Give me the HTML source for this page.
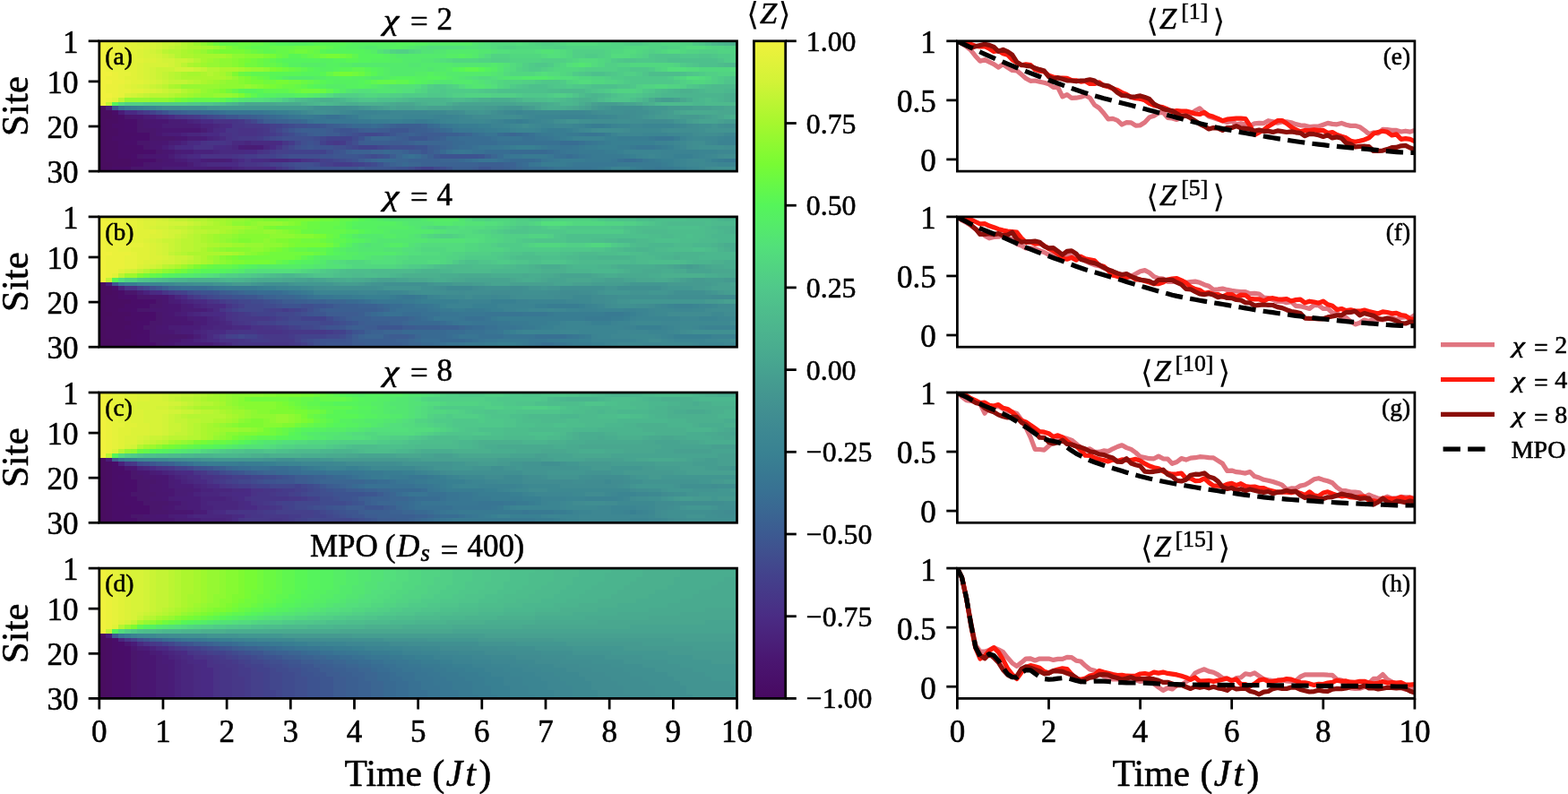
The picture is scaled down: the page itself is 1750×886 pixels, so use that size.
<!DOCTYPE html>
<html><head><meta charset="utf-8"><title>Figure</title>
<style>html,body{margin:0;padding:0;background:#fff;width:1750px;height:886px;overflow:hidden}svg{display:block}text{stroke:#000;stroke-width:0.55px;stroke-linejoin:round}</style>
</head><body><svg width="1750" height="886" viewBox="0 0 1750 886" font-family="'Liberation Serif', 'DejaVu Serif', serif"><defs><filter id="hb" x="0" y="0" width="1" height="1"><feGaussianBlur stdDeviation="0.55"/></filter><linearGradient id="cb" x1="0" y1="0" x2="0" y2="1"><stop offset="0.0000" stop-color="#f0f13c"/><stop offset="0.0312" stop-color="#e1f23a"/><stop offset="0.0625" stop-color="#d2f337"/><stop offset="0.0938" stop-color="#bcf533"/><stop offset="0.1250" stop-color="#a6f72e"/><stop offset="0.1562" stop-color="#8ff931"/><stop offset="0.1875" stop-color="#78fb34"/><stop offset="0.2188" stop-color="#66f847"/><stop offset="0.2500" stop-color="#55f55a"/><stop offset="0.2812" stop-color="#54eb6a"/><stop offset="0.3125" stop-color="#52e07a"/><stop offset="0.3438" stop-color="#51d482"/><stop offset="0.3750" stop-color="#50c88a"/><stop offset="0.4062" stop-color="#4ebe8c"/><stop offset="0.4375" stop-color="#4cb58e"/><stop offset="0.4688" stop-color="#49ac8f"/><stop offset="0.5000" stop-color="#46a290"/><stop offset="0.5312" stop-color="#449890"/><stop offset="0.5625" stop-color="#418f91"/><stop offset="0.5938" stop-color="#3d8892"/><stop offset="0.6250" stop-color="#398292"/><stop offset="0.6562" stop-color="#387992"/><stop offset="0.6875" stop-color="#387093"/><stop offset="0.7188" stop-color="#3a6592"/><stop offset="0.7500" stop-color="#3c5a91"/><stop offset="0.7812" stop-color="#404e8e"/><stop offset="0.8125" stop-color="#43428c"/><stop offset="0.8438" stop-color="#463788"/><stop offset="0.8750" stop-color="#4a2c84"/><stop offset="0.9062" stop-color="#4a227b"/><stop offset="0.9375" stop-color="#4a1772"/><stop offset="0.9688" stop-color="#49106a"/><stop offset="1.0000" stop-color="#480961"/></linearGradient></defs><rect x="0" y="0" width="1750" height="886" fill="#fff"/><g filter="url(#hb)"><g transform="translate(110.80 45.80) scale(7.04653 4.84333)" shape-rendering="crispEdges"><path fill="#480961" d="M0 15h1v1h-1zM0 16h2v1h-2zM0 17h2v1h-2zM0 18h1v1h-1zM0 19h1v1h-1zM0 20h1v1h-1zM0 21h1v1h-1zM0 22h1v1h-1zM0 23h1v1h-1zM0 24h1v1h-1zM0 25h1v1h-1zM0 26h1v1h-1zM0 27h1v1h-1zM0 28h2v1h-2zM0 29h1v1h-1z"/><path fill="#480b64" d="M2 17h1v1h-1zM1 18h2v1h-2zM1 19h1v1h-1zM1 20h2v1h-2zM1 21h2v1h-2zM1 22h1v1h-1zM1 23h2v1h-2zM1 24h2v1h-2zM1 25h2v1h-2zM1 26h2v1h-2zM1 27h4v1h-4zM2 28h3v1h-3zM1 29h1v1h-1z"/><path fill="#490e67" d="M2 16h1v1h-1zM3 17h1v1h-1zM3 18h1v1h-1zM2 19h2v1h-2zM3 20h1v1h-1zM3 21h3v1h-3zM2 22h3v1h-3zM3 23h1v1h-1zM3 24h3v1h-3zM3 25h4v1h-4zM3 26h2v1h-2zM5 27h2v1h-2zM5 28h1v1h-1zM2 29h2v1h-2z"/><path fill="#49106a" d="M4 18h2v1h-2zM4 19h2v1h-2zM4 20h2v1h-2zM6 21h2v1h-2zM5 22h3v1h-3zM4 23h2v1h-2zM6 24h1v1h-1zM7 25h2v1h-2zM5 26h1v1h-1zM7 27h2v1h-2zM6 28h1v1h-1zM4 29h1v1h-1z"/><path fill="#49126c" d="M4 17h1v1h-1zM6 18h1v1h-1zM6 19h1v1h-1zM6 20h3v1h-3zM8 21h1v1h-1zM8 22h4v1h-4zM6 23h2v1h-2zM7 24h1v1h-1zM9 25h1v1h-1zM6 26h1v1h-1zM9 27h1v1h-1zM7 28h1v1h-1zM5 29h2v1h-2z"/><path fill="#4a156f" d="M5 17h1v1h-1zM7 18h2v1h-2zM7 19h1v1h-1zM9 20h1v1h-1zM12 22h1v1h-1zM8 23h2v1h-2zM8 24h1v1h-1zM10 25h1v1h-1zM7 26h2v1h-2zM10 27h1v1h-1zM8 28h2v1h-2zM7 29h2v1h-2z"/><path fill="#4a1772" d="M6 17h1v1h-1zM9 18h2v1h-2zM8 19h2v1h-2zM10 20h6v1h-6zM9 21h1v1h-1zM13 22h1v1h-1zM10 23h1v1h-1zM9 24h1v1h-1zM11 25h1v1h-1zM9 26h2v1h-2zM11 27h1v1h-1zM10 28h4v1h-4zM9 29h1v1h-1z"/><path fill="#4a1b75" d="M7 17h1v1h-1zM11 18h2v1h-2zM10 19h5v1h-5zM16 20h1v1h-1zM10 21h1v1h-1zM14 22h2v1h-2zM11 23h1v1h-1zM23 24h2v1h-2zM12 25h1v1h-1zM11 26h1v1h-1zM12 27h1v1h-1zM17 27h3v1h-3zM14 28h1v1h-1zM10 29h2v1h-2zM17 29h3v1h-3z"/><path fill="#4a1e78" d="M1 15h1v1h-1zM3 16h1v1h-1zM8 17h1v1h-1zM13 18h1v1h-1zM15 19h1v1h-1zM11 21h2v1h-2zM16 22h1v1h-1zM12 23h1v1h-1zM10 24h1v1h-1zM22 24h1v1h-1zM25 24h1v1h-1zM13 25h2v1h-2zM13 27h1v1h-1zM16 27h1v1h-1zM20 27h1v1h-1zM12 29h5v1h-5zM20 29h1v1h-1z"/><path fill="#4a227b" d="M9 17h1v1h-1zM14 18h1v1h-1zM16 19h2v1h-2zM17 20h1v1h-1zM13 21h1v1h-1zM17 22h1v1h-1zM13 23h1v1h-1zM11 24h1v1h-1zM15 25h3v1h-3zM12 26h1v1h-1zM14 27h2v1h-2zM15 28h1v1h-1zM21 29h1v1h-1z"/><path fill="#4a257e" d="M10 17h1v1h-1zM15 18h1v1h-1zM18 19h1v1h-1zM14 21h2v1h-2zM18 22h1v1h-1zM23 23h1v1h-1zM21 24h1v1h-1zM26 24h1v1h-1zM18 25h1v1h-1zM13 26h1v1h-1zM21 27h1v1h-1zM27 27h3v1h-3zM16 28h1v1h-1zM22 29h1v1h-1z"/><path fill="#4a2981" d="M19 19h1v1h-1zM18 20h1v1h-1zM16 21h1v1h-1zM19 22h1v1h-1zM14 23h1v1h-1zM21 23h2v1h-2zM24 23h4v1h-4zM12 24h1v1h-1zM20 24h1v1h-1zM19 25h4v1h-4zM14 26h1v1h-1zM26 27h1v1h-1zM30 27h1v1h-1zM17 28h2v1h-2zM23 29h3v1h-3z"/><path fill="#4a2c84" d="M4 16h2v1h-2zM11 17h1v1h-1zM16 18h2v1h-2zM20 19h1v1h-1zM19 20h1v1h-1zM17 21h2v1h-2zM15 23h1v1h-1zM28 23h1v1h-1zM13 24h2v1h-2zM18 24h2v1h-2zM27 24h1v1h-1zM23 25h2v1h-2zM15 26h1v1h-1zM22 27h1v1h-1zM24 27h2v1h-2zM31 27h1v1h-1zM19 28h3v1h-3zM26 29h2v1h-2z"/><path fill="#493086" d="M12 17h1v1h-1zM18 18h3v1h-3zM22 20h3v1h-3zM19 21h2v1h-2zM22 21h3v1h-3zM20 22h1v1h-1zM16 23h1v1h-1zM20 23h1v1h-1zM15 24h3v1h-3zM25 25h1v1h-1zM16 26h5v1h-5zM23 27h1v1h-1zM32 27h1v1h-1zM22 28h1v1h-1z"/><path fill="#473487" d="M6 16h1v1h-1zM13 17h1v1h-1zM21 18h1v1h-1zM21 19h2v1h-2zM20 20h2v1h-2zM25 20h1v1h-1zM21 21h1v1h-1zM25 21h1v1h-1zM21 22h1v1h-1zM17 23h3v1h-3zM29 23h1v1h-1zM28 24h1v1h-1zM26 25h1v1h-1zM21 26h1v1h-1zM33 27h1v1h-1zM23 28h2v1h-2zM28 29h1v1h-1z"/><path fill="#463888" d="M14 17h1v1h-1zM22 18h1v1h-1zM23 19h3v1h-3zM26 20h1v1h-1zM26 21h1v1h-1zM22 22h3v1h-3zM37 23h1v1h-1zM22 26h1v1h-1zM34 27h1v1h-1zM25 28h1v1h-1z"/><path fill="#453b8a" d="M7 16h1v1h-1zM15 17h1v1h-1zM26 19h1v1h-1zM27 21h1v1h-1zM25 22h1v1h-1zM30 23h1v1h-1zM36 23h1v1h-1zM38 23h1v1h-1zM27 25h1v1h-1zM23 26h2v1h-2zM26 28h1v1h-1zM37 28h3v1h-3zM29 29h1v1h-1z"/><path fill="#443f8b" d="M23 18h1v1h-1zM27 19h1v1h-1zM27 20h1v1h-1zM28 21h1v1h-1zM29 24h1v1h-1zM28 25h2v1h-2zM25 26h2v1h-2zM35 27h1v1h-1zM27 28h1v1h-1zM36 28h1v1h-1zM40 28h1v1h-1z"/><path fill="#43438c" d="M8 16h1v1h-1zM16 17h1v1h-1zM28 19h1v1h-1zM26 22h1v1h-1zM36 22h4v1h-4zM35 23h1v1h-1zM41 24h3v1h-3zM30 25h6v1h-6zM27 26h1v1h-1zM36 27h1v1h-1zM28 28h1v1h-1zM35 28h1v1h-1zM41 28h1v1h-1zM30 29h1v1h-1zM51 29h2v1h-2z"/><path fill="#42478d" d="M17 17h1v1h-1zM24 18h1v1h-1zM29 19h1v1h-1zM28 20h1v1h-1zM29 21h1v1h-1zM42 21h2v1h-2zM27 22h1v1h-1zM35 22h1v1h-1zM31 23h1v1h-1zM39 23h1v1h-1zM30 24h1v1h-1zM40 24h1v1h-1zM44 24h1v1h-1zM28 26h1v1h-1zM37 27h1v1h-1zM29 28h1v1h-1zM42 28h1v1h-1zM50 29h1v1h-1z"/><path fill="#404b8e" d="M9 16h1v1h-1zM18 17h1v1h-1zM30 19h1v1h-1zM30 21h1v1h-1zM41 21h1v1h-1zM44 21h1v1h-1zM28 22h1v1h-1zM34 22h1v1h-1zM40 22h1v1h-1zM39 24h1v1h-1zM45 24h1v1h-1zM36 25h1v1h-1zM29 26h1v1h-1zM43 26h1v1h-1zM38 27h1v1h-1zM30 28h1v1h-1zM34 28h1v1h-1zM43 28h1v1h-1zM31 29h1v1h-1zM53 29h1v1h-1z"/><path fill="#3f4f8f" d="M19 17h1v1h-1zM31 19h2v1h-2zM29 20h1v1h-1zM40 21h1v1h-1zM45 21h1v1h-1zM29 22h5v1h-5zM32 23h1v1h-1zM34 23h1v1h-1zM40 23h1v1h-1zM31 24h1v1h-1zM37 24h2v1h-2zM46 24h4v1h-4zM30 26h5v1h-5zM42 26h1v1h-1zM44 26h1v1h-1zM39 27h1v1h-1zM31 28h3v1h-3zM32 29h1v1h-1zM49 29h1v1h-1zM54 29h1v1h-1z"/><path fill="#3e5390" d="M10 16h1v1h-1zM25 18h1v1h-1zM33 19h2v1h-2zM38 20h2v1h-2zM31 21h1v1h-1zM39 21h1v1h-1zM41 22h1v1h-1zM33 23h1v1h-1zM32 24h1v1h-1zM34 24h3v1h-3zM50 24h2v1h-2zM37 25h1v1h-1zM35 26h2v1h-2zM41 26h1v1h-1zM45 26h1v1h-1zM54 26h6v1h-6zM40 27h1v1h-1zM44 28h1v1h-1zM33 29h5v1h-5zM47 29h2v1h-2z"/><path fill="#3d5790" d="M2 15h1v1h-1zM20 17h2v1h-2zM35 19h1v1h-1zM30 20h1v1h-1zM37 20h1v1h-1zM40 20h1v1h-1zM46 20h3v1h-3zM32 21h1v1h-1zM38 21h1v1h-1zM46 21h1v1h-1zM49 22h3v1h-3zM33 24h1v1h-1zM38 25h1v1h-1zM51 25h1v1h-1zM37 26h4v1h-4zM53 26h1v1h-1zM60 26h1v1h-1zM38 29h3v1h-3zM42 29h5v1h-5zM55 29h1v1h-1zM60 29h2v1h-2z"/><path fill="#3c5b91" d="M11 16h1v1h-1zM22 17h2v1h-2zM26 18h1v1h-1zM36 19h1v1h-1zM31 20h1v1h-1zM36 20h1v1h-1zM41 20h1v1h-1zM44 20h2v1h-2zM49 20h1v1h-1zM33 21h1v1h-1zM36 21h2v1h-2zM47 21h1v1h-1zM51 21h4v1h-4zM48 22h1v1h-1zM52 22h1v1h-1zM41 23h1v1h-1zM46 23h2v1h-2zM52 24h1v1h-1zM49 25h2v1h-2zM52 25h1v1h-1zM46 26h1v1h-1zM41 27h1v1h-1zM45 28h1v1h-1zM41 29h1v1h-1zM59 29h1v1h-1zM62 29h2v1h-2z"/><path fill="#3b5f91" d="M12 16h1v1h-1zM24 17h1v1h-1zM27 18h1v1h-1zM37 19h1v1h-1zM47 19h4v1h-4zM32 20h4v1h-4zM42 20h2v1h-2zM50 20h2v1h-2zM34 21h2v1h-2zM48 21h1v1h-1zM50 21h1v1h-1zM55 21h2v1h-2zM42 22h1v1h-1zM47 22h1v1h-1zM53 22h1v1h-1zM42 23h4v1h-4zM48 23h1v1h-1zM53 24h1v1h-1zM39 25h1v1h-1zM52 26h1v1h-1zM61 26h1v1h-1zM60 28h4v1h-4zM56 29h3v1h-3zM64 29h1v1h-1z"/><path fill="#3a6292" d="M13 16h1v1h-1zM25 17h1v1h-1zM28 18h2v1h-2zM38 19h1v1h-1zM46 19h1v1h-1zM51 19h1v1h-1zM52 20h1v1h-1zM49 21h1v1h-1zM57 21h1v1h-1zM46 22h1v1h-1zM54 22h1v1h-1zM49 23h1v1h-1zM54 24h1v1h-1zM40 25h3v1h-3zM48 25h1v1h-1zM53 25h1v1h-1zM42 27h1v1h-1zM49 27h5v1h-5zM46 28h1v1h-1zM51 28h9v1h-9zM64 28h2v1h-2zM65 29h1v1h-1z"/><path fill="#3a6692" d="M14 16h2v1h-2zM26 17h1v1h-1zM30 18h2v1h-2zM39 19h1v1h-1zM45 19h1v1h-1zM53 20h1v1h-1zM58 21h1v1h-1zM65 21h1v1h-1zM43 22h3v1h-3zM50 23h6v1h-6zM55 24h1v1h-1zM43 25h2v1h-2zM46 25h2v1h-2zM47 26h1v1h-1zM51 26h1v1h-1zM62 26h1v1h-1zM43 27h1v1h-1zM47 27h2v1h-2zM54 27h3v1h-3zM47 28h1v1h-1zM49 28h2v1h-2zM66 29h1v1h-1z"/><path fill="#396a92" d="M16 16h2v1h-2zM27 17h1v1h-1zM32 18h1v1h-1zM40 19h3v1h-3zM44 19h1v1h-1zM52 19h1v1h-1zM54 20h1v1h-1zM64 21h1v1h-1zM66 21h1v1h-1zM55 22h2v1h-2zM56 23h2v1h-2zM56 24h1v1h-1zM45 25h1v1h-1zM54 25h1v1h-1zM65 25h6v1h-6zM44 27h3v1h-3zM57 27h1v1h-1zM65 27h4v1h-4zM48 28h1v1h-1zM66 28h1v1h-1zM67 29h1v1h-1z"/><path fill="#386d93" d="M18 16h1v1h-1zM28 17h1v1h-1zM43 19h1v1h-1zM53 19h1v1h-1zM55 20h1v1h-1zM59 21h1v1h-1zM63 21h1v1h-1zM67 21h1v1h-1zM57 22h5v1h-5zM58 23h5v1h-5zM73 23h3v1h-3zM57 24h2v1h-2zM61 25h4v1h-4zM71 25h1v1h-1zM48 26h1v1h-1zM50 26h1v1h-1zM63 26h1v1h-1zM74 26h1v1h-1zM58 27h1v1h-1zM64 27h1v1h-1zM69 27h1v1h-1zM83 27h2v1h-2zM67 28h1v1h-1zM68 29h3v1h-3z"/><path fill="#387193" d="M3 15h1v1h-1zM19 16h1v1h-1zM29 17h1v1h-1zM36 17h2v1h-2zM33 18h1v1h-1zM60 21h1v1h-1zM68 21h1v1h-1zM62 22h1v1h-1zM67 22h2v1h-2zM63 23h10v1h-10zM76 23h1v1h-1zM59 24h1v1h-1zM55 25h1v1h-1zM59 25h2v1h-2zM72 25h1v1h-1zM49 26h1v1h-1zM72 26h2v1h-2zM75 26h1v1h-1zM59 27h1v1h-1zM63 27h1v1h-1zM82 27h1v1h-1zM85 27h1v1h-1zM71 29h1v1h-1z"/><path fill="#387493" d="M20 16h4v1h-4zM30 17h1v1h-1zM35 17h1v1h-1zM38 17h1v1h-1zM34 18h2v1h-2zM54 19h1v1h-1zM56 20h1v1h-1zM61 21h2v1h-2zM77 21h2v1h-2zM63 22h4v1h-4zM69 22h2v1h-2zM77 23h1v1h-1zM60 24h2v1h-2zM73 24h2v1h-2zM56 25h1v1h-1zM58 25h1v1h-1zM73 25h1v1h-1zM64 26h1v1h-1zM76 26h1v1h-1zM60 27h3v1h-3zM70 27h1v1h-1zM68 28h1v1h-1zM72 29h6v1h-6z"/><path fill="#387793" d="M24 16h2v1h-2zM31 17h1v1h-1zM34 17h1v1h-1zM36 18h5v1h-5zM55 19h1v1h-1zM57 20h2v1h-2zM69 21h1v1h-1zM76 21h1v1h-1zM79 21h1v1h-1zM71 22h1v1h-1zM88 22h3v1h-3zM78 23h1v1h-1zM62 24h2v1h-2zM71 24h2v1h-2zM75 24h1v1h-1zM85 24h3v1h-3zM57 25h1v1h-1zM74 25h2v1h-2zM65 26h2v1h-2zM71 26h1v1h-1zM77 26h1v1h-1zM71 27h1v1h-1zM81 27h1v1h-1zM86 27h1v1h-1zM69 28h1v1h-1zM75 28h7v1h-7zM78 29h1v1h-1zM88 29h1v1h-1z"/><path fill="#397a92" d="M4 15h1v1h-1zM26 16h1v1h-1zM32 17h2v1h-2zM39 17h1v1h-1zM41 18h2v1h-2zM50 18h2v1h-2zM56 19h1v1h-1zM59 20h2v1h-2zM70 21h2v1h-2zM74 21h2v1h-2zM72 22h1v1h-1zM87 22h1v1h-1zM79 23h1v1h-1zM64 24h1v1h-1zM70 24h1v1h-1zM76 24h1v1h-1zM84 24h1v1h-1zM88 24h1v1h-1zM76 25h4v1h-4zM67 26h4v1h-4zM78 26h5v1h-5zM72 27h1v1h-1zM77 27h4v1h-4zM87 27h1v1h-1zM99 27h2v1h-2zM74 28h1v1h-1zM82 28h7v1h-7zM79 29h1v1h-1zM86 29h2v1h-2zM89 29h2v1h-2z"/><path fill="#397d92" d="M5 15h1v1h-1zM27 16h1v1h-1zM40 17h1v1h-1zM43 18h3v1h-3zM48 18h2v1h-2zM52 18h1v1h-1zM66 18h1v1h-1zM57 19h3v1h-3zM78 19h2v1h-2zM61 20h2v1h-2zM71 20h3v1h-3zM72 21h2v1h-2zM80 21h1v1h-1zM73 22h1v1h-1zM82 22h5v1h-5zM91 22h1v1h-1zM80 23h1v1h-1zM65 24h1v1h-1zM69 24h1v1h-1zM77 24h2v1h-2zM82 24h2v1h-2zM89 24h1v1h-1zM80 25h2v1h-2zM83 26h1v1h-1zM73 27h4v1h-4zM88 27h1v1h-1zM98 27h1v1h-1zM70 28h4v1h-4zM89 28h1v1h-1zM80 29h1v1h-1zM85 29h1v1h-1zM91 29h1v1h-1z"/><path fill="#398092" d="M6 15h1v1h-1zM28 16h2v1h-2zM46 18h2v1h-2zM53 18h1v1h-1zM64 18h2v1h-2zM67 18h1v1h-1zM60 19h2v1h-2zM77 19h1v1h-1zM80 19h1v1h-1zM63 20h2v1h-2zM70 20h1v1h-1zM74 20h1v1h-1zM74 22h1v1h-1zM80 22h2v1h-2zM81 23h7v1h-7zM66 24h3v1h-3zM79 24h3v1h-3zM90 24h1v1h-1zM82 25h1v1h-1zM84 26h1v1h-1zM91 26h3v1h-3zM89 27h2v1h-2zM97 27h1v1h-1zM90 28h1v1h-1zM84 29h1v1h-1zM92 29h1v1h-1z"/><path fill="#3a8392" d="M7 15h1v1h-1zM30 16h1v1h-1zM41 16h3v1h-3zM41 17h1v1h-1zM53 17h3v1h-3zM73 17h4v1h-4zM54 18h1v1h-1zM63 18h1v1h-1zM68 18h1v1h-1zM62 19h2v1h-2zM76 19h1v1h-1zM81 19h1v1h-1zM65 20h1v1h-1zM69 20h1v1h-1zM75 20h1v1h-1zM81 21h1v1h-1zM75 22h5v1h-5zM92 22h1v1h-1zM99 22h2v1h-2zM88 23h2v1h-2zM98 23h3v1h-3zM83 25h1v1h-1zM89 25h6v1h-6zM85 26h1v1h-1zM89 26h2v1h-2zM94 26h1v1h-1zM91 27h1v1h-1zM91 28h1v1h-1zM81 29h3v1h-3zM93 29h1v1h-1z"/><path fill="#3b8592" d="M8 15h1v1h-1zM31 16h1v1h-1zM40 16h1v1h-1zM44 16h2v1h-2zM66 16h1v1h-1zM42 17h1v1h-1zM48 17h5v1h-5zM56 17h1v1h-1zM69 17h4v1h-4zM77 17h2v1h-2zM55 18h2v1h-2zM62 18h1v1h-1zM69 18h1v1h-1zM64 19h1v1h-1zM70 19h2v1h-2zM75 19h1v1h-1zM82 19h2v1h-2zM86 19h5v1h-5zM66 20h3v1h-3zM86 21h4v1h-4zM98 22h1v1h-1zM90 23h1v1h-1zM91 24h1v1h-1zM84 25h5v1h-5zM95 25h3v1h-3zM86 26h1v1h-1zM88 26h1v1h-1zM95 26h1v1h-1zM92 27h1v1h-1zM96 27h1v1h-1zM92 28h1v1h-1zM98 28h3v1h-3zM94 29h1v1h-1z"/><path fill="#3c8792" d="M39 16h1v1h-1zM46 16h6v1h-6zM65 16h1v1h-1zM67 16h2v1h-2zM73 16h4v1h-4zM43 17h5v1h-5zM57 17h1v1h-1zM68 17h1v1h-1zM79 17h2v1h-2zM57 18h3v1h-3zM61 18h1v1h-1zM70 18h1v1h-1zM65 19h1v1h-1zM69 19h1v1h-1zM72 19h3v1h-3zM84 19h2v1h-2zM91 19h1v1h-1zM76 20h1v1h-1zM82 21h4v1h-4zM90 21h2v1h-2zM100 21h1v1h-1zM93 22h1v1h-1zM96 22h2v1h-2zM91 23h1v1h-1zM97 23h1v1h-1zM92 24h1v1h-1zM98 25h2v1h-2zM87 26h1v1h-1zM96 26h1v1h-1zM93 27h1v1h-1zM93 28h2v1h-2zM96 28h2v1h-2zM95 29h1v1h-1z"/><path fill="#3e8991" d="M9 15h1v1h-1zM32 16h1v1h-1zM38 16h1v1h-1zM52 16h3v1h-3zM64 16h1v1h-1zM69 16h4v1h-4zM77 16h1v1h-1zM58 17h1v1h-1zM67 17h1v1h-1zM81 17h1v1h-1zM60 18h1v1h-1zM71 18h1v1h-1zM66 19h1v1h-1zM68 19h1v1h-1zM92 19h1v1h-1zM77 20h1v1h-1zM84 20h5v1h-5zM92 21h2v1h-2zM99 21h1v1h-1zM94 22h2v1h-2zM92 23h1v1h-1zM96 23h1v1h-1zM100 25h1v1h-1zM97 26h1v1h-1zM94 27h2v1h-2zM95 28h1v1h-1z"/><path fill="#3f8c91" d="M10 15h3v1h-3zM37 15h2v1h-2zM33 16h1v1h-1zM37 16h1v1h-1zM55 16h2v1h-2zM63 16h1v1h-1zM78 16h1v1h-1zM59 17h3v1h-3zM66 17h1v1h-1zM82 17h2v1h-2zM86 18h4v1h-4zM67 19h1v1h-1zM93 19h1v1h-1zM78 20h1v1h-1zM83 20h1v1h-1zM89 20h1v1h-1zM94 21h1v1h-1zM98 21h1v1h-1zM93 23h1v1h-1zM93 24h1v1h-1zM98 26h1v1h-1zM96 29h1v1h-1z"/><path fill="#408e91" d="M13 15h3v1h-3zM35 15h2v1h-2zM39 15h1v1h-1zM36 16h1v1h-1zM57 16h1v1h-1zM79 16h1v1h-1zM83 16h2v1h-2zM62 17h4v1h-4zM84 17h1v1h-1zM72 18h1v1h-1zM78 18h4v1h-4zM84 18h2v1h-2zM90 18h1v1h-1zM94 19h1v1h-1zM99 19h2v1h-2zM79 20h4v1h-4zM90 20h5v1h-5zM95 21h3v1h-3zM94 23h2v1h-2zM94 24h1v1h-1zM99 24h2v1h-2zM99 26h2v1h-2zM97 29h1v1h-1z"/><path fill="#419091" d="M16 15h1v1h-1zM34 15h1v1h-1zM40 15h1v1h-1zM81 15h5v1h-5zM34 16h2v1h-2zM62 16h1v1h-1zM80 16h3v1h-3zM85 16h2v1h-2zM85 17h1v1h-1zM73 18h1v1h-1zM76 18h2v1h-2zM82 18h2v1h-2zM95 19h2v1h-2zM98 19h1v1h-1zM95 20h1v1h-1zM95 24h4v1h-4zM98 29h3v1h-3z"/><path fill="#429491" d="M17 15h2v1h-2zM33 15h1v1h-1zM41 15h1v1h-1zM64 15h3v1h-3zM80 15h1v1h-1zM86 15h1v1h-1zM58 16h2v1h-2zM61 16h1v1h-1zM87 16h1v1h-1zM86 17h1v1h-1zM74 18h2v1h-2zM91 18h1v1h-1zM97 19h1v1h-1zM96 20h5v1h-5z"/><path fill="#439791" d="M19 15h14v1h-14zM42 15h1v1h-1zM63 15h1v1h-1zM79 15h1v1h-1zM87 15h3v1h-3zM60 16h1v1h-1zM88 16h1v1h-1zM87 17h1v1h-1zM92 18h1v1h-1z"/><path fill="#449a90" d="M43 15h1v1h-1zM61 15h2v1h-2zM67 15h1v1h-1zM78 15h1v1h-1zM90 15h2v1h-2zM89 16h1v1h-1zM88 17h2v1h-2zM92 17h3v1h-3z"/><path fill="#459d90" d="M89 13h2v1h-2zM79 14h3v1h-3zM44 15h1v1h-1zM56 15h5v1h-5zM68 15h1v1h-1zM92 15h2v1h-2zM90 16h1v1h-1zM90 17h2v1h-2zM95 17h1v1h-1zM93 18h1v1h-1zM99 18h2v1h-2z"/><path fill="#46a090" d="M88 13h1v1h-1zM91 13h1v1h-1zM78 14h1v1h-1zM82 14h1v1h-1zM45 15h1v1h-1zM47 15h3v1h-3zM52 15h4v1h-4zM77 15h1v1h-1zM94 15h3v1h-3zM96 17h1v1h-1zM94 18h1v1h-1zM98 18h1v1h-1z"/><path fill="#47a490" d="M57 14h9v1h-9zM83 14h2v1h-2zM46 15h1v1h-1zM50 15h2v1h-2zM69 15h1v1h-1zM76 15h1v1h-1zM97 15h2v1h-2zM91 16h1v1h-1zM97 17h1v1h-1zM95 18h3v1h-3z"/><path fill="#48a78f" d="M92 13h1v1h-1zM23 14h5v1h-5zM47 14h3v1h-3zM56 14h1v1h-1zM66 14h4v1h-4zM77 14h1v1h-1zM85 14h1v1h-1zM75 15h1v1h-1zM99 15h2v1h-2zM92 16h1v1h-1zM98 16h3v1h-3zM98 17h1v1h-1z"/><path fill="#49aa8f" d="M87 13h1v1h-1zM28 14h4v1h-4zM46 14h1v1h-1zM70 14h1v1h-1zM70 15h1v1h-1zM74 15h1v1h-1zM93 16h5v1h-5z"/><path fill="#4aad8f" d="M100 12h1v1h-1zM62 13h3v1h-3zM93 13h1v1h-1zM100 13h1v1h-1zM22 14h1v1h-1zM39 14h2v1h-2zM45 14h1v1h-1zM50 14h1v1h-1zM55 14h1v1h-1zM71 14h1v1h-1zM76 14h1v1h-1zM86 14h1v1h-1zM71 15h3v1h-3zM99 17h1v1h-1z"/><path fill="#4bb08e" d="M100 0h1v1h-1zM92 11h2v1h-2zM99 12h1v1h-1zM35 13h2v1h-2zM60 13h2v1h-2zM65 13h1v1h-1zM76 13h2v1h-2zM99 13h1v1h-1zM32 14h1v1h-1zM38 14h1v1h-1zM41 14h4v1h-4zM51 14h1v1h-1zM72 14h1v1h-1zM87 14h1v1h-1zM100 17h1v1h-1z"/><path fill="#4cb48e" d="M99 0h1v1h-1zM91 11h1v1h-1zM94 11h1v1h-1zM100 11h1v1h-1zM78 12h1v1h-1zM92 12h7v1h-7zM34 13h1v1h-1zM37 13h1v1h-1zM50 13h5v1h-5zM59 13h1v1h-1zM66 13h1v1h-1zM75 13h1v1h-1zM78 13h1v1h-1zM86 13h1v1h-1zM94 13h1v1h-1zM98 13h1v1h-1zM21 14h1v1h-1zM33 14h1v1h-1zM37 14h1v1h-1zM52 14h3v1h-3zM75 14h1v1h-1z"/><path fill="#4cb78e" d="M98 0h1v1h-1zM90 11h1v1h-1zM95 11h1v1h-1zM99 11h1v1h-1zM77 12h1v1h-1zM79 12h1v1h-1zM89 12h3v1h-3zM33 13h1v1h-1zM38 13h1v1h-1zM49 13h1v1h-1zM55 13h1v1h-1zM58 13h1v1h-1zM74 13h1v1h-1zM95 13h1v1h-1zM97 13h1v1h-1zM20 14h1v1h-1zM34 14h1v1h-1zM36 14h1v1h-1zM73 14h2v1h-2zM88 14h1v1h-1zM94 14h2v1h-2z"/><path fill="#4dba8d" d="M97 0h1v1h-1zM99 5h2v1h-2zM97 10h4v1h-4zM73 11h4v1h-4zM89 11h1v1h-1zM96 11h3v1h-3zM80 12h1v1h-1zM88 12h1v1h-1zM32 13h1v1h-1zM48 13h1v1h-1zM56 13h2v1h-2zM67 13h2v1h-2zM73 13h1v1h-1zM79 13h1v1h-1zM85 13h1v1h-1zM96 13h1v1h-1zM35 14h1v1h-1zM89 14h5v1h-5zM96 14h5v1h-5z"/><path fill="#4ebd8c" d="M98 5h1v1h-1zM87 7h5v1h-5zM96 10h1v1h-1zM71 11h2v1h-2zM88 11h1v1h-1zM76 12h1v1h-1zM87 12h1v1h-1zM31 13h1v1h-1zM39 13h1v1h-1zM47 13h1v1h-1zM69 13h2v1h-2zM72 13h1v1h-1zM19 14h1v1h-1z"/><path fill="#4ec08c" d="M96 0h1v1h-1zM90 4h8v1h-8zM95 5h3v1h-3zM78 7h2v1h-2zM92 7h1v1h-1zM68 10h3v1h-3zM78 10h4v1h-4zM95 10h1v1h-1zM63 11h8v1h-8zM77 11h1v1h-1zM81 12h1v1h-1zM86 12h1v1h-1zM40 13h1v1h-1zM44 13h3v1h-3zM71 13h1v1h-1zM80 13h1v1h-1zM84 13h1v1h-1zM18 14h1v1h-1z"/><path fill="#4fc48b" d="M88 3h4v1h-4zM95 3h2v1h-2zM83 4h2v1h-2zM88 4h2v1h-2zM98 4h1v1h-1zM94 5h1v1h-1zM77 7h1v1h-1zM80 7h1v1h-1zM86 7h1v1h-1zM93 7h1v1h-1zM100 8h1v1h-1zM99 9h2v1h-2zM67 10h1v1h-1zM71 10h1v1h-1zM77 10h1v1h-1zM82 10h2v1h-2zM94 10h1v1h-1zM61 11h2v1h-2zM78 11h1v1h-1zM87 11h1v1h-1zM75 12h1v1h-1zM82 12h1v1h-1zM85 12h1v1h-1zM30 13h1v1h-1zM41 13h3v1h-3zM81 13h3v1h-3zM16 14h2v1h-2z"/><path fill="#50c78a" d="M95 0h1v1h-1zM87 3h1v1h-1zM92 3h3v1h-3zM97 3h1v1h-1zM82 4h1v1h-1zM85 4h3v1h-3zM69 5h2v1h-2zM93 5h1v1h-1zM84 6h3v1h-3zM76 7h1v1h-1zM81 7h1v1h-1zM94 7h1v1h-1zM83 8h7v1h-7zM99 8h1v1h-1zM70 9h3v1h-3zM84 9h7v1h-7zM66 10h1v1h-1zM72 10h2v1h-2zM75 10h2v1h-2zM84 10h1v1h-1zM93 10h1v1h-1zM54 11h1v1h-1zM60 11h1v1h-1zM79 11h1v1h-1zM86 11h1v1h-1zM52 12h3v1h-3zM67 12h4v1h-4zM83 12h2v1h-2zM14 14h2v1h-2z"/><path fill="#50cb88" d="M84 0h2v1h-2zM94 0h1v1h-1zM77 3h2v1h-2zM98 3h2v1h-2zM81 4h1v1h-1zM99 4h1v1h-1zM68 5h1v1h-1zM71 5h1v1h-1zM92 5h1v1h-1zM68 6h2v1h-2zM82 6h2v1h-2zM87 6h1v1h-1zM75 7h1v1h-1zM82 7h1v1h-1zM85 7h1v1h-1zM95 7h1v1h-1zM81 8h2v1h-2zM90 8h1v1h-1zM98 8h1v1h-1zM69 9h1v1h-1zM73 9h1v1h-1zM83 9h1v1h-1zM91 9h1v1h-1zM98 9h1v1h-1zM53 10h2v1h-2zM65 10h1v1h-1zM74 10h1v1h-1zM52 11h2v1h-2zM55 11h5v1h-5zM80 11h1v1h-1zM48 12h4v1h-4zM55 12h1v1h-1zM66 12h1v1h-1zM71 12h1v1h-1zM74 12h1v1h-1zM29 13h1v1h-1zM7 14h7v1h-7z"/><path fill="#51cf86" d="M70 0h2v1h-2zM83 0h1v1h-1zM86 0h1v1h-1zM72 1h2v1h-2zM89 1h1v1h-1zM99 1h2v1h-2zM47 2h2v1h-2zM75 2h5v1h-5zM87 2h1v1h-1zM95 2h3v1h-3zM75 3h2v1h-2zM79 3h1v1h-1zM86 3h1v1h-1zM100 3h1v1h-1zM62 4h3v1h-3zM70 4h4v1h-4zM100 4h1v1h-1zM67 5h1v1h-1zM80 5h2v1h-2zM67 6h1v1h-1zM70 6h1v1h-1zM77 6h5v1h-5zM83 7h2v1h-2zM96 7h2v1h-2zM80 8h1v1h-1zM97 8h1v1h-1zM67 9h2v1h-2zM82 9h1v1h-1zM92 9h1v1h-1zM97 9h1v1h-1zM52 10h1v1h-1zM55 10h1v1h-1zM85 10h1v1h-1zM92 10h1v1h-1zM81 11h1v1h-1zM85 11h1v1h-1zM38 12h3v1h-3zM46 12h2v1h-2zM56 12h2v1h-2zM62 12h4v1h-4zM72 12h2v1h-2zM4 14h3v1h-3z"/><path fill="#51d383" d="M69 0h1v1h-1zM72 0h1v1h-1zM81 0h2v1h-2zM87 0h2v1h-2zM92 0h2v1h-2zM64 1h2v1h-2zM70 1h2v1h-2zM74 1h9v1h-9zM87 1h2v1h-2zM90 1h2v1h-2zM97 1h2v1h-2zM46 2h1v1h-1zM80 2h1v1h-1zM86 2h1v1h-1zM88 2h1v1h-1zM93 2h2v1h-2zM98 2h3v1h-3zM62 3h3v1h-3zM80 3h1v1h-1zM85 3h1v1h-1zM60 4h2v1h-2zM65 4h5v1h-5zM74 4h1v1h-1zM80 4h1v1h-1zM72 5h1v1h-1zM82 5h2v1h-2zM91 5h1v1h-1zM66 6h1v1h-1zM71 6h1v1h-1zM76 6h1v1h-1zM88 6h1v1h-1zM74 7h1v1h-1zM98 7h3v1h-3zM78 8h2v1h-2zM91 8h1v1h-1zM64 9h3v1h-3zM74 9h1v1h-1zM80 9h2v1h-2zM93 9h1v1h-1zM96 9h1v1h-1zM56 10h1v1h-1zM64 10h1v1h-1zM86 10h2v1h-2zM90 10h2v1h-2zM51 11h1v1h-1zM82 11h3v1h-3zM37 12h1v1h-1zM41 12h1v1h-1zM44 12h2v1h-2zM58 12h4v1h-4zM28 13h1v1h-1z"/><path fill="#51d780" d="M68 0h1v1h-1zM73 0h1v1h-1zM79 0h2v1h-2zM89 0h3v1h-3zM63 1h1v1h-1zM66 1h4v1h-4zM83 1h4v1h-4zM92 1h1v1h-1zM96 1h1v1h-1zM49 2h1v1h-1zM74 2h1v1h-1zM81 2h2v1h-2zM85 2h1v1h-1zM89 2h1v1h-1zM92 2h1v1h-1zM65 3h5v1h-5zM74 3h1v1h-1zM84 3h1v1h-1zM56 4h4v1h-4zM75 4h1v1h-1zM79 4h1v1h-1zM66 5h1v1h-1zM73 5h1v1h-1zM79 5h1v1h-1zM84 5h7v1h-7zM72 6h4v1h-4zM89 6h1v1h-1zM95 6h5v1h-5zM65 7h4v1h-4zM73 7h1v1h-1zM76 8h2v1h-2zM92 8h1v1h-1zM96 8h1v1h-1zM63 9h1v1h-1zM75 9h1v1h-1zM78 9h2v1h-2zM94 9h2v1h-2zM51 10h1v1h-1zM63 10h1v1h-1zM88 10h2v1h-2zM50 11h1v1h-1zM42 12h2v1h-2zM27 13h1v1h-1z"/><path fill="#52db7e" d="M62 0h4v1h-4zM67 0h1v1h-1zM74 0h5v1h-5zM62 1h1v1h-1zM93 1h3v1h-3zM45 2h1v1h-1zM50 2h1v1h-1zM65 2h4v1h-4zM73 2h1v1h-1zM83 2h2v1h-2zM90 2h2v1h-2zM61 3h1v1h-1zM70 3h1v1h-1zM73 3h1v1h-1zM81 3h3v1h-3zM55 4h1v1h-1zM76 4h3v1h-3zM65 5h1v1h-1zM78 5h1v1h-1zM65 6h1v1h-1zM93 6h2v1h-2zM100 6h1v1h-1zM64 7h1v1h-1zM69 7h1v1h-1zM71 7h2v1h-2zM60 8h2v1h-2zM75 8h1v1h-1zM95 8h1v1h-1zM62 9h1v1h-1zM76 9h2v1h-2zM57 10h1v1h-1zM36 12h1v1h-1zM26 13h1v1h-1zM3 14h1v1h-1z"/><path fill="#52df7b" d="M61 0h1v1h-1zM66 0h1v1h-1zM52 1h6v1h-6zM60 1h2v1h-2zM63 2h2v1h-2zM69 2h1v1h-1zM72 2h1v1h-1zM71 3h2v1h-2zM54 4h1v1h-1zM74 5h1v1h-1zM64 6h1v1h-1zM90 6h3v1h-3zM70 7h1v1h-1zM59 8h1v1h-1zM62 8h1v1h-1zM73 8h2v1h-2zM93 8h2v1h-2zM61 9h1v1h-1zM50 10h1v1h-1zM62 10h1v1h-1zM41 11h2v1h-2zM48 11h2v1h-2zM24 13h2v1h-2z"/><path fill="#52e276" d="M60 0h1v1h-1zM51 1h1v1h-1zM58 1h2v1h-2zM44 2h1v1h-1zM51 2h2v1h-2zM62 2h1v1h-1zM70 2h2v1h-2zM60 3h1v1h-1zM53 4h1v1h-1zM64 5h1v1h-1zM75 5h1v1h-1zM77 5h1v1h-1zM63 7h1v1h-1zM58 8h1v1h-1zM63 8h1v1h-1zM72 8h1v1h-1zM60 9h1v1h-1zM46 10h4v1h-4zM58 10h1v1h-1zM61 10h1v1h-1zM40 11h1v1h-1zM43 11h1v1h-1zM47 11h1v1h-1zM35 12h1v1h-1zM23 13h1v1h-1z"/><path fill="#53e671" d="M59 0h1v1h-1zM50 1h1v1h-1zM53 2h2v1h-2zM60 2h2v1h-2zM51 4h2v1h-2zM49 5h2v1h-2zM56 5h6v1h-6zM63 5h1v1h-1zM76 5h1v1h-1zM52 6h1v1h-1zM63 6h1v1h-1zM62 7h1v1h-1zM57 8h1v1h-1zM64 8h3v1h-3zM71 8h1v1h-1zM54 9h2v1h-2zM59 9h1v1h-1zM45 10h1v1h-1zM59 10h2v1h-2zM39 11h1v1h-1zM44 11h3v1h-3zM22 13h1v1h-1z"/><path fill="#53ea6c" d="M42 1h2v1h-2zM49 1h1v1h-1zM55 2h5v1h-5zM47 3h8v1h-8zM59 3h1v1h-1zM48 4h3v1h-3zM40 5h9v1h-9zM51 5h5v1h-5zM62 5h1v1h-1zM46 6h6v1h-6zM53 6h2v1h-2zM46 7h4v1h-4zM55 7h7v1h-7zM30 8h4v1h-4zM43 8h2v1h-2zM56 8h1v1h-1zM67 8h4v1h-4zM53 9h1v1h-1zM56 9h3v1h-3zM44 10h1v1h-1zM34 12h1v1h-1z"/><path fill="#54ed66" d="M52 0h7v1h-7zM41 1h1v1h-1zM44 1h2v1h-2zM48 1h1v1h-1zM43 2h1v1h-1zM46 3h1v1h-1zM55 3h2v1h-2zM58 3h1v1h-1zM46 4h2v1h-2zM32 5h4v1h-4zM38 5h2v1h-2zM45 6h1v1h-1zM55 6h1v1h-1zM62 6h1v1h-1zM45 7h1v1h-1zM50 7h2v1h-2zM53 7h2v1h-2zM29 8h1v1h-1zM34 8h2v1h-2zM42 8h1v1h-1zM45 8h1v1h-1zM55 8h1v1h-1zM52 9h1v1h-1zM36 10h3v1h-3zM43 10h1v1h-1zM38 11h1v1h-1zM28 12h3v1h-3zM33 12h1v1h-1zM21 13h1v1h-1z"/><path fill="#54f161" d="M30 0h3v1h-3zM40 0h7v1h-7zM50 0h2v1h-2zM39 1h2v1h-2zM46 1h2v1h-2zM42 2h1v1h-1zM45 3h1v1h-1zM57 3h1v1h-1zM35 4h2v1h-2zM43 4h3v1h-3zM30 5h2v1h-2zM36 5h2v1h-2zM35 6h2v1h-2zM44 6h1v1h-1zM61 6h1v1h-1zM44 7h1v1h-1zM52 7h1v1h-1zM36 8h2v1h-2zM40 8h2v1h-2zM46 8h1v1h-1zM50 8h2v1h-2zM54 8h1v1h-1zM37 9h4v1h-4zM51 9h1v1h-1zM35 10h1v1h-1zM39 10h2v1h-2zM42 10h1v1h-1zM26 12h2v1h-2zM31 12h2v1h-2z"/><path fill="#55f45b" d="M28 0h2v1h-2zM33 0h1v1h-1zM39 0h1v1h-1zM47 0h3v1h-3zM38 1h1v1h-1zM36 2h6v1h-6zM41 3h4v1h-4zM29 4h6v1h-6zM37 4h2v1h-2zM41 4h2v1h-2zM34 6h1v1h-1zM37 6h1v1h-1zM43 6h1v1h-1zM56 6h1v1h-1zM32 7h3v1h-3zM28 8h1v1h-1zM38 8h2v1h-2zM47 8h3v1h-3zM52 8h2v1h-2zM36 9h1v1h-1zM41 9h1v1h-1zM50 9h1v1h-1zM34 10h1v1h-1zM41 10h1v1h-1zM23 11h2v1h-2zM37 11h1v1h-1zM25 12h1v1h-1zM20 13h1v1h-1zM2 14h1v1h-1z"/><path fill="#59f655" d="M27 0h1v1h-1zM34 0h5v1h-5zM37 1h1v1h-1zM35 2h1v1h-1zM30 3h2v1h-2zM28 4h1v1h-1zM39 4h2v1h-2zM29 5h1v1h-1zM33 6h1v1h-1zM38 6h2v1h-2zM42 6h1v1h-1zM57 6h1v1h-1zM60 6h1v1h-1zM27 7h5v1h-5zM35 7h1v1h-1zM43 7h1v1h-1zM27 8h1v1h-1zM35 9h1v1h-1zM42 9h1v1h-1zM49 9h1v1h-1zM33 10h1v1h-1zM22 11h1v1h-1zM25 11h1v1h-1z"/><path fill="#5ff74f" d="M26 0h1v1h-1zM24 1h3v1h-3zM36 1h1v1h-1zM26 2h2v1h-2zM32 3h1v1h-1zM40 3h1v1h-1zM27 4h1v1h-1zM28 5h1v1h-1zM32 6h1v1h-1zM40 6h2v1h-2zM58 6h2v1h-2zM24 7h3v1h-3zM42 7h1v1h-1zM34 9h1v1h-1zM43 9h1v1h-1zM47 9h2v1h-2zM32 10h1v1h-1zM26 11h4v1h-4zM36 11h1v1h-1zM24 12h1v1h-1zM19 13h1v1h-1z"/><path fill="#65f848" d="M19 0h3v1h-3zM24 0h2v1h-2zM23 1h1v1h-1zM27 1h4v1h-4zM35 1h1v1h-1zM25 2h1v1h-1zM28 2h2v1h-2zM34 2h1v1h-1zM29 3h1v1h-1zM33 3h1v1h-1zM26 4h1v1h-1zM26 5h2v1h-2zM31 6h1v1h-1zM23 7h1v1h-1zM36 7h1v1h-1zM26 8h1v1h-1zM33 9h1v1h-1zM44 9h3v1h-3zM31 10h1v1h-1zM21 11h1v1h-1zM30 11h1v1h-1zM15 13h4v1h-4z"/><path fill="#6bf942" d="M22 0h2v1h-2zM22 1h1v1h-1zM31 1h4v1h-4zM24 2h1v1h-1zM30 2h1v1h-1zM33 2h1v1h-1zM28 3h1v1h-1zM34 3h1v1h-1zM39 3h1v1h-1zM25 4h1v1h-1zM25 5h1v1h-1zM30 6h1v1h-1zM22 7h1v1h-1zM41 7h1v1h-1zM25 8h1v1h-1zM32 9h1v1h-1zM29 10h2v1h-2zM31 11h1v1h-1zM35 11h1v1h-1zM23 12h1v1h-1zM14 13h1v1h-1z"/><path fill="#71fa3c" d="M18 0h1v1h-1zM21 1h1v1h-1zM23 2h1v1h-1zM31 2h2v1h-2zM35 3h1v1h-1zM38 3h1v1h-1zM24 4h1v1h-1zM23 5h2v1h-2zM29 6h1v1h-1zM37 7h1v1h-1zM40 7h1v1h-1zM24 8h1v1h-1zM26 9h2v1h-2zM30 9h2v1h-2zM28 10h1v1h-1zM20 11h1v1h-1zM32 11h3v1h-3zM13 13h1v1h-1z"/><path fill="#77fb35" d="M19 2h4v1h-4zM27 3h1v1h-1zM36 3h2v1h-2zM23 4h1v1h-1zM28 6h1v1h-1zM38 7h2v1h-2zM24 9h2v1h-2zM28 9h2v1h-2zM27 10h1v1h-1zM12 13h1v1h-1z"/><path fill="#7efa33" d="M17 0h1v1h-1zM20 1h1v1h-1zM18 2h1v1h-1zM26 3h1v1h-1zM22 4h1v1h-1zM22 5h1v1h-1zM27 6h1v1h-1zM21 7h1v1h-1zM23 8h1v1h-1zM23 9h1v1h-1zM26 10h1v1h-1zM19 11h1v1h-1zM22 12h1v1h-1z"/><path fill="#86fa32" d="M17 2h1v1h-1zM23 3h3v1h-3zM21 4h1v1h-1zM21 5h1v1h-1zM22 8h1v1h-1zM22 9h1v1h-1zM25 10h1v1h-1zM18 11h1v1h-1zM11 13h1v1h-1z"/><path fill="#8ef931" d="M16 0h1v1h-1zM19 1h1v1h-1zM21 3h2v1h-2zM19 4h2v1h-2zM19 5h2v1h-2zM26 6h1v1h-1zM20 9h2v1h-2zM19 10h4v1h-4zM24 10h1v1h-1zM17 11h1v1h-1zM16 12h2v1h-2zM21 12h1v1h-1zM8 13h3v1h-3z"/><path fill="#96f830" d="M16 2h1v1h-1zM18 4h1v1h-1zM17 5h2v1h-2zM24 6h2v1h-2zM20 7h1v1h-1zM21 8h1v1h-1zM19 9h1v1h-1zM13 10h6v1h-6zM23 10h1v1h-1zM16 11h1v1h-1zM15 12h1v1h-1zM18 12h3v1h-3zM4 13h4v1h-4z"/><path fill="#9df82f" d="M15 0h1v1h-1zM18 1h1v1h-1zM15 2h1v1h-1zM20 3h1v1h-1zM17 4h1v1h-1zM16 5h1v1h-1zM23 6h1v1h-1zM18 9h1v1h-1zM14 12h1v1h-1z"/><path fill="#a5f72e" d="M16 1h2v1h-2zM14 2h1v1h-1zM15 3h5v1h-5zM16 4h1v1h-1zM15 5h1v1h-1zM22 6h1v1h-1zM14 7h2v1h-2zM19 7h1v1h-1zM20 8h1v1h-1zM17 9h1v1h-1zM12 10h1v1h-1zM15 11h1v1h-1zM13 12h1v1h-1z"/><path fill="#acf62f" d="M14 0h1v1h-1zM14 1h2v1h-2zM13 2h1v1h-1zM13 3h2v1h-2zM14 5h1v1h-1zM19 6h3v1h-3zM13 7h1v1h-1zM16 7h1v1h-1zM18 7h1v1h-1zM13 8h7v1h-7zM16 9h1v1h-1zM11 10h1v1h-1zM14 11h1v1h-1zM12 12h1v1h-1z"/><path fill="#b4f631" d="M13 0h1v1h-1zM13 1h1v1h-1zM11 2h2v1h-2zM12 3h1v1h-1zM15 4h1v1h-1zM17 6h2v1h-2zM12 7h1v1h-1zM17 7h1v1h-1zM12 8h1v1h-1zM15 9h1v1h-1zM13 11h1v1h-1zM11 12h1v1h-1z"/><path fill="#bbf532" d="M12 1h1v1h-1zM10 2h1v1h-1zM13 5h1v1h-1zM11 7h1v1h-1zM11 8h1v1h-1zM14 9h1v1h-1zM10 10h1v1h-1zM8 12h3v1h-3zM3 13h1v1h-1z"/><path fill="#c3f434" d="M12 0h1v1h-1zM11 1h1v1h-1zM11 3h1v1h-1zM14 4h1v1h-1zM16 6h1v1h-1zM10 7h1v1h-1zM10 8h1v1h-1zM11 9h3v1h-3zM9 10h1v1h-1zM11 11h2v1h-2zM7 12h1v1h-1zM1 14h1v1h-1z"/><path fill="#caf435" d="M10 0h2v1h-2zM10 1h1v1h-1zM9 2h1v1h-1zM10 3h1v1h-1zM12 4h2v1h-2zM12 5h1v1h-1zM9 6h3v1h-3zM15 6h1v1h-1zM9 7h1v1h-1zM9 8h1v1h-1zM10 9h1v1h-1zM8 10h1v1h-1zM10 11h1v1h-1zM6 12h1v1h-1z"/><path fill="#d2f337" d="M9 0h1v1h-1zM9 1h1v1h-1zM8 2h1v1h-1zM9 3h1v1h-1zM10 4h2v1h-2zM11 5h1v1h-1zM8 6h1v1h-1zM12 6h3v1h-3zM8 7h1v1h-1zM8 8h1v1h-1zM9 9h1v1h-1zM7 10h1v1h-1zM9 11h1v1h-1zM5 12h1v1h-1z"/><path fill="#d7f338" d="M8 0h1v1h-1zM8 1h1v1h-1zM7 2h1v1h-1zM7 3h2v1h-2zM9 4h1v1h-1zM7 5h4v1h-4zM7 6h1v1h-1zM7 7h1v1h-1zM7 8h1v1h-1zM8 9h1v1h-1zM6 10h1v1h-1zM8 11h1v1h-1zM4 12h1v1h-1z"/><path fill="#dcf239" d="M6 0h2v1h-2zM7 1h1v1h-1zM6 2h1v1h-1zM6 3h1v1h-1zM7 4h2v1h-2zM6 5h1v1h-1zM6 6h1v1h-1zM6 7h1v1h-1zM6 8h1v1h-1zM7 9h1v1h-1zM5 10h1v1h-1zM7 11h1v1h-1z"/><path fill="#e1f239" d="M4 0h2v1h-2zM5 1h2v1h-2zM5 2h1v1h-1zM5 3h1v1h-1zM5 4h2v1h-2zM4 5h2v1h-2zM4 6h2v1h-2zM5 7h1v1h-1zM4 8h2v1h-2zM5 9h2v1h-2zM4 10h1v1h-1zM5 11h2v1h-2zM2 13h1v1h-1z"/><path fill="#e6f23a" d="M3 0h1v1h-1zM3 1h2v1h-2zM4 2h1v1h-1zM3 3h2v1h-2zM3 4h2v1h-2zM2 5h2v1h-2zM2 6h2v1h-2zM3 7h2v1h-2zM3 8h1v1h-1zM4 9h1v1h-1zM3 10h1v1h-1zM3 11h2v1h-2zM3 12h1v1h-1z"/><path fill="#ebf13b" d="M1 0h2v1h-2zM1 1h2v1h-2zM2 2h2v1h-2zM1 3h2v1h-2zM1 4h2v1h-2zM1 5h1v1h-1zM1 6h1v1h-1zM2 7h1v1h-1zM1 8h2v1h-2zM2 9h2v1h-2zM1 10h2v1h-2zM1 11h2v1h-2zM2 12h1v1h-1zM1 13h1v1h-1z"/><path fill="#f0f13c" d="M0 0h1v1h-1zM0 1h1v1h-1zM0 2h2v1h-2zM0 3h1v1h-1zM0 4h1v1h-1zM0 5h1v1h-1zM0 6h1v1h-1zM0 7h2v1h-2zM0 8h1v1h-1zM0 9h2v1h-2zM0 10h1v1h-1zM0 11h1v1h-1zM0 12h2v1h-2zM0 13h1v1h-1zM0 14h1v1h-1z"/></g></g><line x1="98.70" y1="45.80" x2="110.80" y2="45.80" stroke="#000" stroke-width="2.75"/><text x="87.60" y="58.80" font-size="35.00" text-anchor="end">1</text><line x1="98.70" y1="90.89" x2="110.80" y2="90.89" stroke="#000" stroke-width="2.75"/><text x="87.60" y="103.89" font-size="35.00" text-anchor="end">10</text><line x1="98.70" y1="141.00" x2="110.80" y2="141.00" stroke="#000" stroke-width="2.75"/><text x="87.60" y="154.00" font-size="35.00" text-anchor="end">20</text><line x1="98.70" y1="191.10" x2="110.80" y2="191.10" stroke="#000" stroke-width="2.75"/><text x="87.60" y="204.10" font-size="35.00" text-anchor="end">30</text><rect x="110.80" y="45.80" width="711.70" height="145.30" fill="none" stroke="#000" stroke-width="2.75"/><text transform="translate(428.04 32.50) scale(1.220 1)" font-size="32.20" font-style="italic">χ</text><text x="458.12" y="36.00" font-size="35.00" text-anchor="start">=</text><text x="487.62" y="32.50" font-size="35.00" text-anchor="start">2</text><text x="117.30" y="71.85" font-size="27.50" text-anchor="start">(a)</text><text x="0.00" y="0.00" font-size="43.00" text-anchor="middle" transform="translate(30.6 118.45) rotate(-90)">Site</text><g filter="url(#hb)"><g transform="translate(110.80 241.90) scale(7.04653 4.84333)" shape-rendering="crispEdges"><path fill="#480961" d="M0 15h1v1h-1zM0 16h1v1h-1zM0 17h2v1h-2zM0 18h1v1h-1zM0 19h1v1h-1zM0 20h1v1h-1zM0 21h1v1h-1zM0 22h2v1h-2zM0 23h1v1h-1zM0 24h1v1h-1zM0 25h1v1h-1zM0 26h1v1h-1zM0 27h1v1h-1zM0 28h2v1h-2zM0 29h2v1h-2z"/><path fill="#480b64" d="M1 16h1v1h-1zM2 17h1v1h-1zM1 18h2v1h-2zM1 19h4v1h-4zM1 20h3v1h-3zM1 21h2v1h-2zM2 22h3v1h-3zM1 23h3v1h-3zM1 24h4v1h-4zM1 25h3v1h-3zM1 26h4v1h-4zM1 27h4v1h-4zM2 28h2v1h-2zM2 29h4v1h-4z"/><path fill="#490e67" d="M3 17h1v1h-1zM3 18h1v1h-1zM5 19h2v1h-2zM4 20h2v1h-2zM3 21h2v1h-2zM5 22h3v1h-3zM4 23h3v1h-3zM5 24h1v1h-1zM4 25h2v1h-2zM5 26h2v1h-2zM5 27h1v1h-1zM4 28h2v1h-2zM6 29h1v1h-1z"/><path fill="#49106a" d="M2 16h1v1h-1zM4 18h2v1h-2zM7 19h2v1h-2zM6 20h2v1h-2zM5 21h1v1h-1zM8 22h1v1h-1zM7 23h2v1h-2zM6 24h2v1h-2zM6 25h1v1h-1zM7 26h1v1h-1zM6 27h2v1h-2zM6 28h2v1h-2zM7 29h2v1h-2z"/><path fill="#49126c" d="M4 17h2v1h-2zM6 18h2v1h-2zM9 19h1v1h-1zM8 20h2v1h-2zM6 21h2v1h-2zM9 22h1v1h-1zM9 23h1v1h-1zM8 24h2v1h-2zM7 25h2v1h-2zM8 26h1v1h-1zM8 27h6v1h-6zM8 28h3v1h-3zM9 29h1v1h-1z"/><path fill="#4a156f" d="M8 18h2v1h-2zM10 19h1v1h-1zM10 20h1v1h-1zM8 21h3v1h-3zM10 22h1v1h-1zM10 23h2v1h-2zM10 24h3v1h-3zM9 25h1v1h-1zM9 26h2v1h-2zM14 27h1v1h-1zM11 28h1v1h-1zM10 29h1v1h-1z"/><path fill="#4a1772" d="M10 18h1v1h-1zM11 20h2v1h-2zM11 21h2v1h-2zM11 22h1v1h-1zM12 23h2v1h-2zM13 24h2v1h-2zM10 25h1v1h-1zM11 26h1v1h-1zM12 28h1v1h-1zM11 29h1v1h-1z"/><path fill="#4a1b75" d="M6 17h1v1h-1zM11 19h1v1h-1zM13 20h1v1h-1zM13 21h3v1h-3zM12 22h1v1h-1zM14 23h1v1h-1zM15 24h1v1h-1zM11 25h2v1h-2zM12 26h1v1h-1zM15 27h1v1h-1zM13 28h1v1h-1zM12 29h1v1h-1z"/><path fill="#4a1e78" d="M1 15h1v1h-1zM11 18h1v1h-1zM12 19h1v1h-1zM14 20h1v1h-1zM16 21h1v1h-1zM13 22h1v1h-1zM15 23h2v1h-2zM16 24h1v1h-1zM13 25h3v1h-3zM13 26h2v1h-2zM14 28h1v1h-1zM13 29h5v1h-5z"/><path fill="#4a227b" d="M3 16h1v1h-1zM7 17h1v1h-1zM13 19h1v1h-1zM15 20h1v1h-1zM17 21h1v1h-1zM14 22h1v1h-1zM17 23h1v1h-1zM17 24h2v1h-2zM16 25h2v1h-2zM15 26h1v1h-1zM16 27h1v1h-1zM15 28h1v1h-1zM18 29h1v1h-1z"/><path fill="#4a257e" d="M12 18h1v1h-1zM14 19h1v1h-1zM16 20h1v1h-1zM15 22h1v1h-1zM18 23h1v1h-1zM19 24h1v1h-1zM18 25h3v1h-3zM16 26h1v1h-1zM16 28h1v1h-1zM19 29h1v1h-1z"/><path fill="#4a2981" d="M8 17h1v1h-1zM15 19h1v1h-1zM17 20h2v1h-2zM18 21h1v1h-1zM16 22h2v1h-2zM19 23h1v1h-1zM20 24h1v1h-1zM21 25h2v1h-2zM17 26h2v1h-2zM17 27h1v1h-1zM17 28h1v1h-1zM20 29h1v1h-1z"/><path fill="#4a2c84" d="M9 17h1v1h-1zM13 18h1v1h-1zM16 19h1v1h-1zM19 20h1v1h-1zM18 22h2v1h-2zM23 25h1v1h-1zM19 26h1v1h-1zM18 28h1v1h-1z"/><path fill="#493086" d="M4 16h2v1h-2zM17 19h1v1h-1zM20 22h1v1h-1zM20 23h1v1h-1zM21 24h1v1h-1zM24 25h2v1h-2zM20 26h2v1h-2zM25 26h4v1h-4zM18 27h1v1h-1zM19 28h3v1h-3zM21 29h1v1h-1z"/><path fill="#473487" d="M10 17h1v1h-1zM14 18h1v1h-1zM18 19h1v1h-1zM20 20h1v1h-1zM19 21h1v1h-1zM21 22h1v1h-1zM21 23h1v1h-1zM22 24h1v1h-1zM26 25h2v1h-2zM22 26h3v1h-3zM29 26h1v1h-1zM22 28h1v1h-1zM22 29h8v1h-8z"/><path fill="#463888" d="M22 22h1v1h-1zM22 23h5v1h-5zM23 24h1v1h-1zM28 25h1v1h-1zM30 26h6v1h-6zM19 27h1v1h-1zM26 27h4v1h-4zM23 28h1v1h-1zM27 28h4v1h-4zM30 29h1v1h-1z"/><path fill="#453b8a" d="M11 17h1v1h-1zM15 18h1v1h-1zM19 19h1v1h-1zM21 20h1v1h-1zM20 21h1v1h-1zM29 21h1v1h-1zM23 22h1v1h-1zM27 23h1v1h-1zM24 24h1v1h-1zM29 25h1v1h-1zM36 26h1v1h-1zM25 27h1v1h-1zM30 27h1v1h-1zM24 28h3v1h-3zM31 29h1v1h-1z"/><path fill="#443f8b" d="M6 16h1v1h-1zM12 17h1v1h-1zM20 19h1v1h-1zM22 20h1v1h-1zM27 21h2v1h-2zM30 21h1v1h-1zM24 22h1v1h-1zM28 23h1v1h-1zM25 24h2v1h-2zM30 25h1v1h-1zM37 26h1v1h-1zM20 27h1v1h-1zM31 27h1v1h-1zM31 28h1v1h-1zM32 29h1v1h-1z"/><path fill="#43438c" d="M13 17h1v1h-1zM16 18h1v1h-1zM21 19h1v1h-1zM21 21h1v1h-1zM26 21h1v1h-1zM31 21h1v1h-1zM25 22h3v1h-3zM29 23h1v1h-1zM32 23h4v1h-4zM27 24h1v1h-1zM31 25h1v1h-1zM38 26h1v1h-1zM21 27h1v1h-1zM23 27h2v1h-2zM32 27h4v1h-4z"/><path fill="#42478d" d="M7 16h1v1h-1zM17 18h1v1h-1zM22 19h2v1h-2zM23 20h3v1h-3zM22 21h4v1h-4zM32 21h1v1h-1zM28 22h3v1h-3zM30 23h2v1h-2zM28 24h2v1h-2zM35 24h2v1h-2zM32 25h2v1h-2zM22 27h1v1h-1zM36 27h2v1h-2zM32 28h1v1h-1zM33 29h1v1h-1z"/><path fill="#404b8e" d="M14 17h1v1h-1zM18 18h1v1h-1zM24 19h2v1h-2zM26 20h2v1h-2zM31 22h1v1h-1zM36 23h1v1h-1zM30 24h5v1h-5zM37 24h1v1h-1zM34 25h1v1h-1zM39 26h1v1h-1zM38 27h1v1h-1zM33 28h1v1h-1z"/><path fill="#3f4f8f" d="M8 16h1v1h-1zM15 17h1v1h-1zM19 18h2v1h-2zM26 19h1v1h-1zM28 20h1v1h-1zM32 20h2v1h-2zM33 21h1v1h-1zM32 22h1v1h-1zM38 24h1v1h-1zM35 25h1v1h-1zM34 28h1v1h-1zM34 29h1v1h-1z"/><path fill="#3e5390" d="M16 17h2v1h-2zM21 18h2v1h-2zM27 19h1v1h-1zM29 20h3v1h-3zM34 20h2v1h-2zM33 22h1v1h-1zM37 23h1v1h-1zM39 24h1v1h-1zM36 25h2v1h-2zM40 26h1v1h-1zM39 27h1v1h-1zM35 28h4v1h-4zM35 29h1v1h-1z"/><path fill="#3d5790" d="M2 15h1v1h-1zM9 16h1v1h-1zM18 17h1v1h-1zM23 18h2v1h-2zM28 19h1v1h-1zM36 20h1v1h-1zM34 21h1v1h-1zM34 22h2v1h-2zM38 23h1v1h-1zM40 24h1v1h-1zM38 25h1v1h-1zM44 25h4v1h-4zM41 26h1v1h-1zM39 28h1v1h-1zM36 29h4v1h-4z"/><path fill="#3c5b91" d="M19 17h1v1h-1zM25 18h1v1h-1zM29 19h2v1h-2zM37 20h1v1h-1zM35 21h1v1h-1zM36 22h5v1h-5zM39 23h1v1h-1zM41 24h1v1h-1zM39 25h1v1h-1zM42 25h2v1h-2zM48 25h2v1h-2zM40 27h1v1h-1zM46 27h3v1h-3zM40 28h1v1h-1zM40 29h2v1h-2z"/><path fill="#3b5f91" d="M10 16h1v1h-1zM20 17h1v1h-1zM31 19h2v1h-2zM38 20h3v1h-3zM36 21h8v1h-8zM41 22h1v1h-1zM40 23h3v1h-3zM42 24h4v1h-4zM40 25h2v1h-2zM50 25h4v1h-4zM42 26h1v1h-1zM45 27h1v1h-1zM49 27h1v1h-1zM41 28h6v1h-6zM42 29h6v1h-6z"/><path fill="#3a6292" d="M21 17h1v1h-1zM26 18h2v1h-2zM33 19h3v1h-3zM41 20h3v1h-3zM44 21h1v1h-1zM43 23h6v1h-6zM46 24h2v1h-2zM54 25h3v1h-3zM43 26h2v1h-2zM41 27h1v1h-1zM47 28h2v1h-2zM48 29h1v1h-1z"/><path fill="#3a6692" d="M11 16h1v1h-1zM22 17h1v1h-1zM28 18h3v1h-3zM36 19h3v1h-3zM44 20h1v1h-1zM45 21h1v1h-1zM42 22h1v1h-1zM49 23h1v1h-1zM48 24h1v1h-1zM57 25h1v1h-1zM45 26h3v1h-3zM42 27h3v1h-3zM50 27h1v1h-1zM49 28h1v1h-1zM49 29h2v1h-2z"/><path fill="#396a92" d="M12 16h1v1h-1zM23 17h2v1h-2zM31 18h1v1h-1zM39 19h2v1h-2zM45 20h1v1h-1zM43 22h1v1h-1zM50 23h1v1h-1zM49 24h5v1h-5zM58 25h1v1h-1zM48 26h7v1h-7zM51 27h4v1h-4zM50 28h1v1h-1zM54 28h4v1h-4zM51 29h2v1h-2z"/><path fill="#386d93" d="M13 16h4v1h-4zM25 17h4v1h-4zM32 18h1v1h-1zM41 19h1v1h-1zM46 20h2v1h-2zM46 21h1v1h-1zM44 22h1v1h-1zM48 22h3v1h-3zM51 23h1v1h-1zM54 24h1v1h-1zM59 25h2v1h-2zM55 26h3v1h-3zM55 27h1v1h-1zM51 28h3v1h-3zM58 28h1v1h-1zM53 29h1v1h-1z"/><path fill="#387193" d="M17 16h1v1h-1zM29 17h1v1h-1zM33 18h1v1h-1zM42 19h1v1h-1zM48 20h2v1h-2zM47 21h5v1h-5zM45 22h3v1h-3zM51 22h3v1h-3zM52 23h1v1h-1zM58 23h3v1h-3zM55 24h1v1h-1zM61 25h2v1h-2zM58 26h3v1h-3zM56 27h1v1h-1zM60 27h4v1h-4zM69 27h5v1h-5zM59 28h1v1h-1zM54 29h1v1h-1zM70 29h2v1h-2z"/><path fill="#387493" d="M3 15h1v1h-1zM18 16h1v1h-1zM30 17h1v1h-1zM34 18h1v1h-1zM43 19h1v1h-1zM50 20h2v1h-2zM52 21h1v1h-1zM54 22h3v1h-3zM61 22h6v1h-6zM57 23h1v1h-1zM61 23h1v1h-1zM56 24h1v1h-1zM59 24h4v1h-4zM63 25h3v1h-3zM61 26h2v1h-2zM57 27h3v1h-3zM64 27h5v1h-5zM74 27h1v1h-1zM60 28h1v1h-1zM55 29h2v1h-2zM69 29h1v1h-1zM72 29h1v1h-1z"/><path fill="#387793" d="M19 16h1v1h-1zM31 17h1v1h-1zM35 18h2v1h-2zM48 18h2v1h-2zM44 19h4v1h-4zM52 20h1v1h-1zM53 21h1v1h-1zM57 22h4v1h-4zM67 22h4v1h-4zM53 23h4v1h-4zM57 24h2v1h-2zM63 24h2v1h-2zM66 25h1v1h-1zM63 26h1v1h-1zM75 27h1v1h-1zM61 28h2v1h-2zM68 28h3v1h-3zM57 29h1v1h-1zM68 29h1v1h-1zM73 29h1v1h-1z"/><path fill="#397a92" d="M20 16h5v1h-5zM32 17h1v1h-1zM37 18h3v1h-3zM47 18h1v1h-1zM50 18h1v1h-1zM48 19h2v1h-2zM53 20h1v1h-1zM54 21h2v1h-2zM58 21h3v1h-3zM71 22h1v1h-1zM80 22h3v1h-3zM62 23h1v1h-1zM77 23h4v1h-4zM65 24h3v1h-3zM67 25h2v1h-2zM76 27h1v1h-1zM63 28h5v1h-5zM71 28h2v1h-2zM58 29h3v1h-3zM67 29h1v1h-1zM74 29h1v1h-1z"/><path fill="#397d92" d="M4 15h2v1h-2zM25 16h1v1h-1zM33 17h1v1h-1zM40 18h2v1h-2zM46 18h1v1h-1zM51 18h1v1h-1zM50 19h1v1h-1zM71 20h5v1h-5zM56 21h2v1h-2zM61 21h1v1h-1zM72 22h8v1h-8zM83 22h1v1h-1zM63 23h14v1h-14zM81 23h2v1h-2zM68 24h3v1h-3zM69 25h1v1h-1zM64 26h1v1h-1zM77 27h1v1h-1zM73 28h3v1h-3zM61 29h2v1h-2zM66 29h1v1h-1zM75 29h3v1h-3z"/><path fill="#398092" d="M26 16h2v1h-2zM42 18h4v1h-4zM51 19h6v1h-6zM62 19h4v1h-4zM54 20h1v1h-1zM59 20h4v1h-4zM69 20h2v1h-2zM76 20h1v1h-1zM62 21h2v1h-2zM84 22h1v1h-1zM83 23h1v1h-1zM71 24h2v1h-2zM78 24h3v1h-3zM70 25h2v1h-2zM85 25h4v1h-4zM65 26h1v1h-1zM91 27h6v1h-6zM76 28h2v1h-2zM63 29h3v1h-3zM78 29h2v1h-2z"/><path fill="#3a8392" d="M6 15h1v1h-1zM28 16h2v1h-2zM34 17h1v1h-1zM52 18h1v1h-1zM57 19h5v1h-5zM66 19h2v1h-2zM55 20h4v1h-4zM63 20h6v1h-6zM77 20h1v1h-1zM91 20h3v1h-3zM64 21h2v1h-2zM76 21h3v1h-3zM83 21h2v1h-2zM85 22h1v1h-1zM84 23h1v1h-1zM73 24h1v1h-1zM77 24h1v1h-1zM81 24h1v1h-1zM72 25h2v1h-2zM83 25h2v1h-2zM89 25h1v1h-1zM96 25h4v1h-4zM66 26h1v1h-1zM78 27h1v1h-1zM90 27h1v1h-1zM97 27h4v1h-4zM78 28h6v1h-6zM80 29h1v1h-1z"/><path fill="#3b8592" d="M7 15h3v1h-3zM30 16h2v1h-2zM35 17h6v1h-6zM44 17h2v1h-2zM53 18h1v1h-1zM68 19h6v1h-6zM78 20h1v1h-1zM90 20h1v1h-1zM94 20h1v1h-1zM66 21h2v1h-2zM74 21h2v1h-2zM79 21h4v1h-4zM85 21h2v1h-2zM86 22h1v1h-1zM85 23h7v1h-7zM95 23h3v1h-3zM74 24h3v1h-3zM82 24h2v1h-2zM74 25h9v1h-9zM90 25h1v1h-1zM95 25h1v1h-1zM100 25h1v1h-1zM67 26h6v1h-6zM76 26h6v1h-6zM87 26h3v1h-3zM79 27h2v1h-2zM89 27h1v1h-1zM84 28h1v1h-1zM91 28h5v1h-5zM81 29h1v1h-1zM95 29h4v1h-4z"/><path fill="#3c8792" d="M10 15h1v1h-1zM32 16h1v1h-1zM41 17h3v1h-3zM46 17h2v1h-2zM54 18h1v1h-1zM62 18h1v1h-1zM74 19h2v1h-2zM79 20h1v1h-1zM89 20h1v1h-1zM95 20h2v1h-2zM68 21h3v1h-3zM72 21h2v1h-2zM87 21h1v1h-1zM91 21h3v1h-3zM87 22h1v1h-1zM92 23h3v1h-3zM98 23h2v1h-2zM84 24h1v1h-1zM89 24h3v1h-3zM91 25h1v1h-1zM94 25h1v1h-1zM73 26h3v1h-3zM82 26h5v1h-5zM90 26h1v1h-1zM81 27h3v1h-3zM88 27h1v1h-1zM85 28h1v1h-1zM90 28h1v1h-1zM96 28h2v1h-2zM82 29h2v1h-2zM86 29h3v1h-3zM94 29h1v1h-1zM99 29h2v1h-2z"/><path fill="#3e8991" d="M11 15h1v1h-1zM33 16h1v1h-1zM55 16h4v1h-4zM48 17h1v1h-1zM55 18h3v1h-3zM59 18h3v1h-3zM63 18h2v1h-2zM75 18h3v1h-3zM76 19h2v1h-2zM88 20h1v1h-1zM97 20h1v1h-1zM71 21h1v1h-1zM88 21h3v1h-3zM94 21h2v1h-2zM88 22h2v1h-2zM97 22h2v1h-2zM100 23h1v1h-1zM85 24h4v1h-4zM92 24h8v1h-8zM92 25h2v1h-2zM91 26h1v1h-1zM84 27h4v1h-4zM86 28h1v1h-1zM89 28h1v1h-1zM98 28h2v1h-2zM84 29h2v1h-2zM89 29h5v1h-5z"/><path fill="#3f8c91" d="M12 15h2v1h-2zM34 16h2v1h-2zM54 16h1v1h-1zM59 16h1v1h-1zM49 17h1v1h-1zM57 17h1v1h-1zM62 17h3v1h-3zM73 17h3v1h-3zM58 18h1v1h-1zM65 18h1v1h-1zM72 18h3v1h-3zM78 18h2v1h-2zM97 18h4v1h-4zM78 19h2v1h-2zM80 20h1v1h-1zM87 20h1v1h-1zM98 20h2v1h-2zM96 21h1v1h-1zM90 22h7v1h-7zM99 22h2v1h-2zM100 24h1v1h-1zM92 26h1v1h-1zM87 28h2v1h-2zM100 28h1v1h-1z"/><path fill="#408e91" d="M14 15h1v1h-1zM36 16h8v1h-8zM53 16h1v1h-1zM60 16h1v1h-1zM65 16h2v1h-2zM50 17h1v1h-1zM55 17h2v1h-2zM58 17h4v1h-4zM65 17h2v1h-2zM71 17h2v1h-2zM76 17h2v1h-2zM66 18h6v1h-6zM80 18h2v1h-2zM90 18h7v1h-7zM80 19h1v1h-1zM81 20h1v1h-1zM85 20h2v1h-2zM100 20h1v1h-1zM97 21h4v1h-4zM93 26h1v1h-1z"/><path fill="#419091" d="M15 15h3v1h-3zM26 15h4v1h-4zM45 15h7v1h-7zM44 16h1v1h-1zM51 16h2v1h-2zM61 16h4v1h-4zM67 16h1v1h-1zM73 16h7v1h-7zM82 16h7v1h-7zM51 17h4v1h-4zM67 17h4v1h-4zM78 17h1v1h-1zM91 17h5v1h-5zM82 18h8v1h-8zM81 19h1v1h-1zM82 20h3v1h-3zM94 26h7v1h-7z"/><path fill="#429491" d="M18 15h2v1h-2zM25 15h1v1h-1zM30 15h1v1h-1zM43 15h2v1h-2zM52 15h1v1h-1zM45 16h6v1h-6zM68 16h2v1h-2zM71 16h2v1h-2zM80 16h2v1h-2zM89 16h1v1h-1zM79 17h1v1h-1zM84 17h3v1h-3zM90 17h1v1h-1zM96 17h1v1h-1zM82 19h2v1h-2z"/><path fill="#439791" d="M20 15h1v1h-1zM24 15h1v1h-1zM31 15h6v1h-6zM42 15h1v1h-1zM53 15h3v1h-3zM84 15h6v1h-6zM70 16h1v1h-1zM90 16h4v1h-4zM80 17h4v1h-4zM87 17h3v1h-3zM97 17h1v1h-1zM84 19h12v1h-12z"/><path fill="#449a90" d="M94 14h2v1h-2zM99 14h2v1h-2zM21 15h3v1h-3zM37 15h1v1h-1zM41 15h1v1h-1zM56 15h3v1h-3zM83 15h1v1h-1zM90 15h7v1h-7zM94 16h2v1h-2zM98 17h1v1h-1zM96 19h2v1h-2z"/><path fill="#459d90" d="M93 11h1v1h-1zM93 14h1v1h-1zM96 14h3v1h-3zM38 15h3v1h-3zM59 15h2v1h-2zM78 15h5v1h-5zM97 15h1v1h-1zM96 16h1v1h-1zM99 17h1v1h-1zM98 19h1v1h-1z"/><path fill="#46a090" d="M92 11h1v1h-1zM94 11h1v1h-1zM33 14h1v1h-1zM44 14h3v1h-3zM80 14h3v1h-3zM92 14h1v1h-1zM61 15h1v1h-1zM65 15h7v1h-7zM75 15h3v1h-3zM98 15h2v1h-2zM97 16h4v1h-4zM100 17h1v1h-1zM99 19h2v1h-2z"/><path fill="#47a490" d="M91 11h1v1h-1zM95 11h1v1h-1zM93 12h4v1h-4zM73 13h5v1h-5zM31 14h2v1h-2zM34 14h2v1h-2zM43 14h1v1h-1zM47 14h2v1h-2zM58 14h7v1h-7zM71 14h3v1h-3zM78 14h2v1h-2zM83 14h2v1h-2zM91 14h1v1h-1zM62 15h3v1h-3zM72 15h3v1h-3zM100 15h1v1h-1z"/><path fill="#48a78f" d="M90 11h1v1h-1zM96 11h1v1h-1zM97 12h4v1h-4zM72 13h1v1h-1zM78 13h1v1h-1zM100 13h1v1h-1zM29 14h2v1h-2zM36 14h1v1h-1zM42 14h1v1h-1zM49 14h3v1h-3zM56 14h2v1h-2zM65 14h1v1h-1zM70 14h1v1h-1zM74 14h4v1h-4zM85 14h3v1h-3zM90 14h1v1h-1z"/><path fill="#49aa8f" d="M88 11h2v1h-2zM97 11h2v1h-2zM86 12h3v1h-3zM91 12h2v1h-2zM57 13h5v1h-5zM67 13h1v1h-1zM70 13h2v1h-2zM79 13h1v1h-1zM82 13h5v1h-5zM98 13h2v1h-2zM25 14h4v1h-4zM37 14h2v1h-2zM40 14h2v1h-2zM52 14h1v1h-1zM55 14h1v1h-1zM66 14h1v1h-1zM69 14h1v1h-1zM88 14h2v1h-2z"/><path fill="#4aad8f" d="M99 6h2v1h-2zM100 7h1v1h-1zM99 10h2v1h-2zM70 11h3v1h-3zM82 11h6v1h-6zM99 11h2v1h-2zM84 12h2v1h-2zM89 12h2v1h-2zM54 13h3v1h-3zM62 13h5v1h-5zM68 13h2v1h-2zM80 13h2v1h-2zM87 13h2v1h-2zM96 13h2v1h-2zM24 14h1v1h-1zM39 14h1v1h-1zM53 14h2v1h-2zM67 14h2v1h-2z"/><path fill="#4bb08e" d="M100 2h1v1h-1zM100 3h1v1h-1zM98 6h1v1h-1zM99 7h1v1h-1zM91 9h1v1h-1zM97 10h2v1h-2zM69 11h1v1h-1zM73 11h1v1h-1zM81 11h1v1h-1zM70 12h4v1h-4zM83 12h1v1h-1zM48 13h6v1h-6zM89 13h7v1h-7zM14 14h5v1h-5zM23 14h1v1h-1z"/><path fill="#4cb48e" d="M99 0h2v1h-2zM98 2h2v1h-2zM99 3h1v1h-1zM97 6h1v1h-1zM85 7h2v1h-2zM98 7h1v1h-1zM91 8h5v1h-5zM79 9h5v1h-5zM89 9h2v1h-2zM92 9h3v1h-3zM100 9h1v1h-1zM94 10h3v1h-3zM68 11h1v1h-1zM74 11h1v1h-1zM79 11h2v1h-2zM51 12h3v1h-3zM68 12h2v1h-2zM74 12h4v1h-4zM82 12h1v1h-1zM47 13h1v1h-1zM12 14h2v1h-2zM19 14h1v1h-1zM21 14h2v1h-2z"/><path fill="#4cb78e" d="M98 0h1v1h-1zM100 1h1v1h-1zM97 2h1v1h-1zM98 3h1v1h-1zM97 4h4v1h-4zM82 5h3v1h-3zM98 5h3v1h-3zM87 6h4v1h-4zM94 6h3v1h-3zM83 7h2v1h-2zM87 7h1v1h-1zM87 8h4v1h-4zM96 8h5v1h-5zM76 9h3v1h-3zM84 9h1v1h-1zM88 9h1v1h-1zM95 9h5v1h-5zM84 10h1v1h-1zM93 10h1v1h-1zM66 11h2v1h-2zM75 11h4v1h-4zM50 12h1v1h-1zM54 12h2v1h-2zM62 12h6v1h-6zM78 12h4v1h-4zM29 13h2v1h-2zM46 13h1v1h-1zM11 14h1v1h-1zM20 14h1v1h-1z"/><path fill="#4dba8d" d="M97 0h1v1h-1zM90 1h6v1h-6zM97 1h3v1h-3zM96 2h1v1h-1zM86 3h4v1h-4zM96 3h2v1h-2zM89 4h2v1h-2zM96 4h1v1h-1zM80 5h2v1h-2zM85 5h2v1h-2zM95 5h3v1h-3zM85 6h2v1h-2zM91 6h3v1h-3zM82 7h1v1h-1zM88 7h2v1h-2zM97 7h1v1h-1zM76 8h3v1h-3zM86 8h1v1h-1zM74 9h2v1h-2zM85 9h3v1h-3zM76 10h8v1h-8zM85 10h2v1h-2zM92 10h1v1h-1zM55 11h4v1h-4zM64 11h2v1h-2zM43 12h7v1h-7zM56 12h6v1h-6zM28 13h1v1h-1zM31 13h1v1h-1zM40 13h2v1h-2zM44 13h2v1h-2zM10 14h1v1h-1z"/><path fill="#4ebd8c" d="M87 0h1v1h-1zM93 0h4v1h-4zM89 1h1v1h-1zM96 1h1v1h-1zM85 2h5v1h-5zM95 2h1v1h-1zM85 3h1v1h-1zM90 3h6v1h-6zM87 4h2v1h-2zM91 4h2v1h-2zM94 4h2v1h-2zM78 5h2v1h-2zM87 5h1v1h-1zM92 5h3v1h-3zM84 6h1v1h-1zM81 7h1v1h-1zM90 7h4v1h-4zM96 7h1v1h-1zM75 8h1v1h-1zM79 8h3v1h-3zM84 8h2v1h-2zM66 9h4v1h-4zM73 9h1v1h-1zM75 10h1v1h-1zM87 10h5v1h-5zM54 11h1v1h-1zM59 11h5v1h-5zM39 12h4v1h-4zM27 13h1v1h-1zM32 13h1v1h-1zM38 13h2v1h-2zM42 13h2v1h-2zM9 14h1v1h-1z"/><path fill="#4ec08c" d="M85 0h2v1h-2zM88 0h5v1h-5zM88 1h1v1h-1zM83 2h2v1h-2zM90 2h5v1h-5zM84 3h1v1h-1zM74 4h13v1h-13zM93 4h1v1h-1zM74 5h4v1h-4zM88 5h4v1h-4zM80 7h1v1h-1zM94 7h2v1h-2zM67 8h2v1h-2zM73 8h2v1h-2zM82 8h2v1h-2zM65 9h1v1h-1zM70 9h3v1h-3zM58 10h2v1h-2zM68 10h2v1h-2zM74 10h1v1h-1zM53 11h1v1h-1zM38 12h1v1h-1zM26 13h1v1h-1zM33 13h1v1h-1zM37 13h1v1h-1zM8 14h1v1h-1z"/><path fill="#4fc48b" d="M82 0h3v1h-3zM87 1h1v1h-1zM67 2h1v1h-1zM81 2h2v1h-2zM65 3h3v1h-3zM83 3h1v1h-1zM73 4h1v1h-1zM69 5h5v1h-5zM83 6h1v1h-1zM78 7h2v1h-2zM65 8h2v1h-2zM69 8h4v1h-4zM64 9h1v1h-1zM57 10h1v1h-1zM60 10h2v1h-2zM66 10h2v1h-2zM70 10h4v1h-4zM52 11h1v1h-1zM37 12h1v1h-1zM25 13h1v1h-1zM34 13h3v1h-3zM7 14h1v1h-1z"/><path fill="#50c78a" d="M80 0h2v1h-2zM86 1h1v1h-1zM66 2h1v1h-1zM68 2h2v1h-2zM74 2h7v1h-7zM64 3h1v1h-1zM68 3h6v1h-6zM72 4h1v1h-1zM67 5h2v1h-2zM82 6h1v1h-1zM73 7h5v1h-5zM64 8h1v1h-1zM63 9h1v1h-1zM62 10h1v1h-1zM65 10h1v1h-1zM51 11h1v1h-1zM36 12h1v1h-1zM24 13h1v1h-1zM6 14h1v1h-1z"/><path fill="#50cb88" d="M68 0h2v1h-2zM79 0h1v1h-1zM85 1h1v1h-1zM65 2h1v1h-1zM70 2h1v1h-1zM73 2h1v1h-1zM63 3h1v1h-1zM74 3h9v1h-9zM66 5h1v1h-1zM63 6h4v1h-4zM81 6h1v1h-1zM65 7h8v1h-8zM62 8h2v1h-2zM58 9h5v1h-5zM56 10h1v1h-1zM63 10h2v1h-2zM49 11h2v1h-2zM35 12h1v1h-1zM22 13h2v1h-2z"/><path fill="#51cf86" d="M66 0h2v1h-2zM70 0h2v1h-2zM78 0h1v1h-1zM66 1h2v1h-2zM83 1h2v1h-2zM64 2h1v1h-1zM71 2h2v1h-2zM62 3h1v1h-1zM54 4h2v1h-2zM64 4h4v1h-4zM71 4h1v1h-1zM64 5h2v1h-2zM62 6h1v1h-1zM67 6h1v1h-1zM74 6h3v1h-3zM64 7h1v1h-1zM58 8h4v1h-4zM57 9h1v1h-1zM48 11h1v1h-1zM34 12h1v1h-1zM20 13h2v1h-2z"/><path fill="#51d383" d="M61 0h1v1h-1zM65 0h1v1h-1zM72 0h6v1h-6zM65 1h1v1h-1zM68 1h1v1h-1zM80 1h3v1h-3zM63 2h1v1h-1zM60 3h2v1h-2zM53 4h1v1h-1zM56 4h1v1h-1zM62 4h2v1h-2zM68 4h3v1h-3zM63 5h1v1h-1zM60 6h2v1h-2zM68 6h1v1h-1zM73 6h1v1h-1zM77 6h1v1h-1zM80 6h1v1h-1zM60 7h4v1h-4zM56 8h2v1h-2zM55 9h2v1h-2zM55 10h1v1h-1zM47 11h1v1h-1zM33 12h1v1h-1zM19 13h1v1h-1zM4 14h2v1h-2z"/><path fill="#51d780" d="M59 0h2v1h-2zM62 0h3v1h-3zM64 1h1v1h-1zM69 1h1v1h-1zM75 1h5v1h-5zM53 2h2v1h-2zM61 2h2v1h-2zM59 3h1v1h-1zM52 4h1v1h-1zM57 4h1v1h-1zM61 4h1v1h-1zM61 5h2v1h-2zM58 6h2v1h-2zM69 6h4v1h-4zM78 6h2v1h-2zM51 7h4v1h-4zM58 7h2v1h-2zM54 8h2v1h-2zM49 9h6v1h-6zM39 10h3v1h-3zM48 10h4v1h-4zM54 10h1v1h-1zM40 11h7v1h-7zM32 12h1v1h-1z"/><path fill="#52db7e" d="M63 1h1v1h-1zM74 1h1v1h-1zM52 2h1v1h-1zM55 2h2v1h-2zM58 2h3v1h-3zM57 3h2v1h-2zM51 4h1v1h-1zM58 4h3v1h-3zM60 5h1v1h-1zM51 6h7v1h-7zM50 7h1v1h-1zM55 7h3v1h-3zM51 8h3v1h-3zM47 9h2v1h-2zM38 10h1v1h-1zM42 10h1v1h-1zM47 10h1v1h-1zM52 10h2v1h-2zM39 11h1v1h-1zM31 12h1v1h-1zM18 13h1v1h-1z"/><path fill="#52df7b" d="M58 0h1v1h-1zM61 1h2v1h-2zM70 1h4v1h-4zM51 2h1v1h-1zM57 2h1v1h-1zM55 3h2v1h-2zM58 5h2v1h-2zM50 6h1v1h-1zM48 7h2v1h-2zM49 8h2v1h-2zM45 9h2v1h-2zM37 10h1v1h-1zM43 10h4v1h-4zM38 11h1v1h-1zM25 12h6v1h-6zM17 13h1v1h-1zM3 14h1v1h-1z"/><path fill="#52e276" d="M58 1h3v1h-3zM54 3h1v1h-1zM50 4h1v1h-1zM52 5h6v1h-6zM42 6h1v1h-1zM49 6h1v1h-1zM45 7h3v1h-3zM48 8h1v1h-1zM43 9h2v1h-2zM36 10h1v1h-1zM36 11h2v1h-2zM23 12h2v1h-2zM16 13h1v1h-1z"/><path fill="#53e671" d="M46 0h5v1h-5zM57 0h1v1h-1zM49 1h4v1h-4zM56 1h2v1h-2zM50 2h1v1h-1zM53 3h1v1h-1zM49 4h1v1h-1zM44 5h8v1h-8zM41 6h1v1h-1zM43 6h2v1h-2zM41 7h4v1h-4zM47 8h1v1h-1zM42 9h1v1h-1zM34 11h2v1h-2zM15 13h1v1h-1z"/><path fill="#53ea6c" d="M45 0h1v1h-1zM51 0h1v1h-1zM48 1h1v1h-1zM53 1h3v1h-3zM49 2h1v1h-1zM46 3h7v1h-7zM41 4h4v1h-4zM47 4h2v1h-2zM43 5h1v1h-1zM40 6h1v1h-1zM45 6h1v1h-1zM48 6h1v1h-1zM39 7h2v1h-2zM41 8h6v1h-6zM40 9h2v1h-2zM35 10h1v1h-1zM32 11h2v1h-2zM22 12h1v1h-1zM13 13h2v1h-2z"/><path fill="#54ed66" d="M44 0h1v1h-1zM52 0h5v1h-5zM47 1h1v1h-1zM44 2h5v1h-5zM45 3h1v1h-1zM40 4h1v1h-1zM45 4h2v1h-2zM42 5h1v1h-1zM46 6h2v1h-2zM38 7h1v1h-1zM39 8h2v1h-2zM35 9h5v1h-5zM34 10h1v1h-1zM25 11h7v1h-7zM21 12h1v1h-1zM12 13h1v1h-1z"/><path fill="#54f161" d="M43 0h1v1h-1zM41 1h6v1h-6zM40 2h4v1h-4zM43 3h2v1h-2zM41 5h1v1h-1zM39 6h1v1h-1zM37 7h1v1h-1zM38 8h1v1h-1zM34 9h1v1h-1zM32 10h2v1h-2zM24 11h1v1h-1zM20 12h1v1h-1zM11 13h1v1h-1z"/><path fill="#55f45b" d="M42 0h1v1h-1zM40 1h1v1h-1zM42 3h1v1h-1zM39 4h1v1h-1zM40 5h1v1h-1zM37 8h1v1h-1zM31 10h1v1h-1zM23 11h1v1h-1zM19 12h1v1h-1zM10 13h1v1h-1z"/><path fill="#59f655" d="M41 0h1v1h-1zM39 1h1v1h-1zM39 2h1v1h-1zM41 3h1v1h-1zM38 4h1v1h-1zM39 5h1v1h-1zM38 6h1v1h-1zM36 7h1v1h-1zM36 8h1v1h-1zM33 9h1v1h-1zM30 10h1v1h-1zM22 11h1v1h-1zM16 12h3v1h-3zM2 14h1v1h-1z"/><path fill="#5ff74f" d="M40 0h1v1h-1zM38 1h1v1h-1zM37 2h2v1h-2zM39 3h2v1h-2zM37 5h2v1h-2zM33 7h3v1h-3zM32 9h1v1h-1zM29 10h1v1h-1zM21 11h1v1h-1zM15 12h1v1h-1zM9 13h1v1h-1z"/><path fill="#65f848" d="M38 0h2v1h-2zM35 1h3v1h-3zM35 2h2v1h-2zM34 3h5v1h-5zM37 4h1v1h-1zM36 5h1v1h-1zM37 6h1v1h-1zM31 7h2v1h-2zM35 8h1v1h-1zM28 10h1v1h-1zM18 11h3v1h-3zM14 12h1v1h-1zM8 13h1v1h-1z"/><path fill="#6bf942" d="M37 0h1v1h-1zM33 1h2v1h-2zM33 2h2v1h-2zM32 3h2v1h-2zM36 4h1v1h-1zM35 5h1v1h-1zM30 7h1v1h-1zM34 8h1v1h-1zM31 9h1v1h-1zM17 11h1v1h-1z"/><path fill="#71fa3c" d="M35 0h2v1h-2zM32 1h1v1h-1zM28 2h5v1h-5zM32 5h3v1h-3zM36 6h1v1h-1zM29 7h1v1h-1zM27 8h7v1h-7zM22 9h9v1h-9zM27 10h1v1h-1zM16 11h1v1h-1zM13 12h1v1h-1zM7 13h1v1h-1z"/><path fill="#77fb35" d="M28 0h2v1h-2zM34 0h1v1h-1zM27 2h1v1h-1zM31 3h1v1h-1zM35 4h1v1h-1zM30 5h2v1h-2zM31 6h5v1h-5zM28 7h1v1h-1zM26 8h1v1h-1zM21 9h1v1h-1zM23 10h4v1h-4zM12 12h1v1h-1z"/><path fill="#7efa33" d="M26 0h2v1h-2zM30 0h4v1h-4zM31 1h1v1h-1zM26 2h1v1h-1zM30 3h1v1h-1zM34 4h1v1h-1zM22 5h2v1h-2zM28 5h2v1h-2zM30 6h1v1h-1zM27 7h1v1h-1zM25 8h1v1h-1zM20 9h1v1h-1zM21 10h2v1h-2zM15 11h1v1h-1zM6 13h1v1h-1z"/><path fill="#86fa32" d="M24 0h2v1h-2zM23 1h1v1h-1zM30 1h1v1h-1zM29 3h1v1h-1zM22 4h5v1h-5zM31 4h3v1h-3zM21 5h1v1h-1zM24 5h2v1h-2zM27 5h1v1h-1zM29 6h1v1h-1zM20 7h4v1h-4zM26 7h1v1h-1zM24 8h1v1h-1zM19 9h1v1h-1zM20 10h1v1h-1zM11 12h1v1h-1z"/><path fill="#8ef931" d="M23 0h1v1h-1zM21 1h2v1h-2zM24 1h1v1h-1zM29 1h1v1h-1zM25 2h1v1h-1zM23 3h3v1h-3zM28 3h1v1h-1zM21 4h1v1h-1zM27 4h4v1h-4zM20 5h1v1h-1zM26 5h1v1h-1zM26 6h3v1h-3zM19 7h1v1h-1zM24 7h2v1h-2zM23 8h1v1h-1zM19 10h1v1h-1zM14 11h1v1h-1zM10 12h1v1h-1z"/><path fill="#96f830" d="M21 0h2v1h-2zM25 1h4v1h-4zM24 2h1v1h-1zM22 3h1v1h-1zM26 3h2v1h-2zM19 4h2v1h-2zM19 5h1v1h-1zM23 6h3v1h-3zM18 7h1v1h-1zM18 9h1v1h-1zM18 10h1v1h-1z"/><path fill="#9df82f" d="M20 0h1v1h-1zM20 1h1v1h-1zM23 2h1v1h-1zM21 3h1v1h-1zM18 4h1v1h-1zM18 5h1v1h-1zM21 6h2v1h-2zM17 7h1v1h-1zM22 8h1v1h-1zM17 9h1v1h-1zM13 11h1v1h-1zM9 12h1v1h-1zM4 13h2v1h-2z"/><path fill="#a5f72e" d="M18 0h2v1h-2zM19 1h1v1h-1zM21 2h2v1h-2zM20 3h1v1h-1zM17 4h1v1h-1zM17 5h1v1h-1zM19 6h2v1h-2zM21 8h1v1h-1zM17 10h1v1h-1zM8 12h1v1h-1z"/><path fill="#acf62f" d="M17 0h1v1h-1zM18 1h1v1h-1zM16 2h5v1h-5zM19 3h1v1h-1zM16 4h1v1h-1zM16 5h1v1h-1zM17 6h2v1h-2zM16 7h1v1h-1zM14 8h7v1h-7zM16 9h1v1h-1zM16 10h1v1h-1zM12 11h1v1h-1z"/><path fill="#b4f631" d="M15 0h2v1h-2zM17 1h1v1h-1zM15 2h1v1h-1zM17 3h2v1h-2zM15 4h1v1h-1zM15 5h1v1h-1zM15 6h2v1h-2zM15 7h1v1h-1zM13 8h1v1h-1zM15 9h1v1h-1zM15 10h1v1h-1zM11 11h1v1h-1zM7 12h1v1h-1z"/><path fill="#bbf532" d="M14 0h1v1h-1zM16 1h1v1h-1zM14 2h1v1h-1zM15 3h2v1h-2zM14 4h1v1h-1zM13 5h2v1h-2zM13 6h2v1h-2zM13 7h2v1h-2zM12 8h1v1h-1zM14 10h1v1h-1zM10 11h1v1h-1zM3 13h1v1h-1z"/><path fill="#c3f434" d="M12 0h2v1h-2zM15 1h1v1h-1zM12 2h2v1h-2zM14 3h1v1h-1zM13 4h1v1h-1zM12 5h1v1h-1zM12 6h1v1h-1zM12 7h1v1h-1zM11 8h1v1h-1zM14 9h1v1h-1zM13 10h1v1h-1zM6 12h1v1h-1zM1 14h1v1h-1z"/><path fill="#caf435" d="M11 0h1v1h-1zM14 1h1v1h-1zM11 2h1v1h-1zM13 3h1v1h-1zM12 4h1v1h-1zM10 5h2v1h-2zM11 6h1v1h-1zM11 7h1v1h-1zM12 9h2v1h-2zM12 10h1v1h-1zM9 11h1v1h-1z"/><path fill="#d2f337" d="M10 0h1v1h-1zM11 1h3v1h-3zM9 2h2v1h-2zM11 3h2v1h-2zM11 4h1v1h-1zM9 5h1v1h-1zM10 6h1v1h-1zM10 7h1v1h-1zM10 8h1v1h-1zM11 9h1v1h-1zM10 10h2v1h-2zM8 11h1v1h-1zM5 12h1v1h-1z"/><path fill="#d7f338" d="M9 0h1v1h-1zM9 1h2v1h-2zM8 2h1v1h-1zM10 3h1v1h-1zM10 4h1v1h-1zM8 5h1v1h-1zM9 6h1v1h-1zM9 7h1v1h-1zM9 8h1v1h-1zM10 9h1v1h-1zM9 10h1v1h-1zM7 11h1v1h-1zM4 12h1v1h-1z"/><path fill="#dcf239" d="M7 0h2v1h-2zM7 1h2v1h-2zM7 2h1v1h-1zM9 3h1v1h-1zM8 4h2v1h-2zM7 5h1v1h-1zM8 6h1v1h-1zM8 7h1v1h-1zM8 8h1v1h-1zM8 9h2v1h-2zM7 10h2v1h-2zM6 11h1v1h-1z"/><path fill="#e1f239" d="M6 0h1v1h-1zM6 1h1v1h-1zM6 2h1v1h-1zM6 3h3v1h-3zM6 4h2v1h-2zM5 5h2v1h-2zM7 6h1v1h-1zM5 7h3v1h-3zM6 8h2v1h-2zM6 9h2v1h-2zM6 10h1v1h-1zM3 12h1v1h-1zM2 13h1v1h-1z"/><path fill="#e6f23a" d="M4 0h2v1h-2zM4 1h2v1h-2zM4 2h2v1h-2zM4 3h2v1h-2zM4 4h2v1h-2zM3 5h2v1h-2zM5 6h2v1h-2zM3 7h2v1h-2zM5 8h1v1h-1zM4 9h2v1h-2zM4 10h2v1h-2zM4 11h2v1h-2z"/><path fill="#ebf13b" d="M1 0h3v1h-3zM2 1h2v1h-2zM1 2h3v1h-3zM1 3h3v1h-3zM1 4h3v1h-3zM1 5h2v1h-2zM1 6h4v1h-4zM1 7h2v1h-2zM2 8h3v1h-3zM1 9h3v1h-3zM1 10h3v1h-3zM1 11h3v1h-3zM1 12h2v1h-2zM1 13h1v1h-1z"/><path fill="#f0f13c" d="M0 0h1v1h-1zM0 1h2v1h-2zM0 2h1v1h-1zM0 3h1v1h-1zM0 4h1v1h-1zM0 5h1v1h-1zM0 6h1v1h-1zM0 7h1v1h-1zM0 8h2v1h-2zM0 9h1v1h-1zM0 10h1v1h-1zM0 11h1v1h-1zM0 12h1v1h-1zM0 13h1v1h-1zM0 14h1v1h-1z"/></g></g><line x1="98.70" y1="241.90" x2="110.80" y2="241.90" stroke="#000" stroke-width="2.75"/><text x="87.60" y="254.90" font-size="35.00" text-anchor="end">1</text><line x1="98.70" y1="286.99" x2="110.80" y2="286.99" stroke="#000" stroke-width="2.75"/><text x="87.60" y="299.99" font-size="35.00" text-anchor="end">10</text><line x1="98.70" y1="337.10" x2="110.80" y2="337.10" stroke="#000" stroke-width="2.75"/><text x="87.60" y="350.10" font-size="35.00" text-anchor="end">20</text><line x1="98.70" y1="387.20" x2="110.80" y2="387.20" stroke="#000" stroke-width="2.75"/><text x="87.60" y="400.20" font-size="35.00" text-anchor="end">30</text><rect x="110.80" y="241.90" width="711.70" height="145.30" fill="none" stroke="#000" stroke-width="2.75"/><text transform="translate(428.04 228.60) scale(1.220 1)" font-size="32.20" font-style="italic">χ</text><text x="458.12" y="232.10" font-size="35.00" text-anchor="start">=</text><text x="487.62" y="228.60" font-size="35.00" text-anchor="start">4</text><text x="117.30" y="267.95" font-size="27.50" text-anchor="start">(b)</text><text x="0.00" y="0.00" font-size="43.00" text-anchor="middle" transform="translate(30.6 314.55) rotate(-90)">Site</text><g filter="url(#hb)"><g transform="translate(110.80 438.00) scale(7.04653 4.84333)" shape-rendering="crispEdges"><path fill="#480961" d="M0 15h1v1h-1zM0 16h1v1h-1zM0 17h1v1h-1zM0 18h1v1h-1zM0 19h1v1h-1zM0 20h1v1h-1zM0 21h1v1h-1zM0 22h1v1h-1zM0 23h1v1h-1zM0 24h1v1h-1zM0 25h1v1h-1zM0 26h1v1h-1zM0 27h1v1h-1zM0 28h1v1h-1zM0 29h1v1h-1z"/><path fill="#480b64" d="M1 16h1v1h-1zM1 17h1v1h-1zM1 18h1v1h-1zM1 19h1v1h-1zM1 20h1v1h-1zM1 21h1v1h-1zM1 22h1v1h-1zM1 23h1v1h-1zM1 24h1v1h-1zM1 25h1v1h-1zM1 26h1v1h-1zM1 27h1v1h-1zM1 28h1v1h-1zM1 29h1v1h-1z"/><path fill="#490e67" d="M2 17h1v1h-1zM2 18h2v1h-2zM2 19h1v1h-1zM2 20h2v1h-2zM2 21h2v1h-2zM2 22h2v1h-2zM2 23h1v1h-1zM2 24h2v1h-2zM2 25h2v1h-2zM2 26h3v1h-3zM2 27h3v1h-3zM2 28h2v1h-2zM2 29h2v1h-2z"/><path fill="#49106a" d="M2 16h1v1h-1zM3 17h1v1h-1zM4 18h1v1h-1zM3 19h2v1h-2zM4 20h2v1h-2zM4 21h2v1h-2zM4 22h2v1h-2zM3 23h2v1h-2zM4 24h2v1h-2zM4 25h3v1h-3zM5 26h3v1h-3zM5 27h3v1h-3zM4 28h1v1h-1zM4 29h2v1h-2z"/><path fill="#49126c" d="M5 18h1v1h-1zM5 19h2v1h-2zM6 20h3v1h-3zM6 21h2v1h-2zM6 22h2v1h-2zM5 23h4v1h-4zM6 24h2v1h-2zM7 25h4v1h-4zM8 26h2v1h-2zM8 27h3v1h-3zM5 28h2v1h-2zM6 29h2v1h-2z"/><path fill="#4a156f" d="M4 17h1v1h-1zM6 18h1v1h-1zM7 19h2v1h-2zM9 20h1v1h-1zM8 21h2v1h-2zM8 22h2v1h-2zM9 23h2v1h-2zM8 24h2v1h-2zM11 25h1v1h-1zM10 26h1v1h-1zM11 27h3v1h-3zM7 28h2v1h-2zM8 29h3v1h-3z"/><path fill="#4a1772" d="M5 17h1v1h-1zM7 18h1v1h-1zM9 19h2v1h-2zM10 20h1v1h-1zM10 21h1v1h-1zM10 22h2v1h-2zM11 23h1v1h-1zM10 24h1v1h-1zM12 25h1v1h-1zM11 26h1v1h-1zM14 27h1v1h-1zM9 28h2v1h-2zM11 29h1v1h-1z"/><path fill="#4a1b75" d="M8 18h1v1h-1zM11 20h1v1h-1zM11 21h1v1h-1zM12 22h3v1h-3zM12 23h2v1h-2zM11 24h1v1h-1zM13 25h1v1h-1zM12 26h2v1h-2zM15 27h1v1h-1zM11 28h1v1h-1zM12 29h2v1h-2z"/><path fill="#4a1e78" d="M1 15h1v1h-1zM9 18h1v1h-1zM11 19h1v1h-1zM12 20h1v1h-1zM12 21h3v1h-3zM15 22h1v1h-1zM14 23h1v1h-1zM12 24h4v1h-4zM14 25h2v1h-2zM14 26h2v1h-2zM16 27h1v1h-1zM12 28h2v1h-2zM14 29h2v1h-2z"/><path fill="#4a227b" d="M3 16h1v1h-1zM6 17h1v1h-1zM10 18h1v1h-1zM12 19h1v1h-1zM13 20h1v1h-1zM15 21h1v1h-1zM16 22h2v1h-2zM15 23h1v1h-1zM16 24h4v1h-4zM16 25h1v1h-1zM16 26h2v1h-2zM14 28h1v1h-1zM16 29h4v1h-4z"/><path fill="#4a257e" d="M7 17h1v1h-1zM11 18h1v1h-1zM13 19h1v1h-1zM14 20h1v1h-1zM16 21h1v1h-1zM18 22h3v1h-3zM16 23h3v1h-3zM20 24h1v1h-1zM17 25h5v1h-5zM18 26h4v1h-4zM17 27h1v1h-1zM15 28h6v1h-6zM20 29h1v1h-1z"/><path fill="#4a2981" d="M12 18h1v1h-1zM14 19h1v1h-1zM15 20h1v1h-1zM17 21h1v1h-1zM21 22h2v1h-2zM19 23h2v1h-2zM21 24h1v1h-1zM22 25h1v1h-1zM22 26h1v1h-1zM18 27h1v1h-1zM21 28h1v1h-1z"/><path fill="#4a2c84" d="M8 17h1v1h-1zM13 18h2v1h-2zM15 19h1v1h-1zM16 20h1v1h-1zM18 21h1v1h-1zM23 22h1v1h-1zM21 23h3v1h-3zM22 24h1v1h-1zM23 25h1v1h-1zM23 26h2v1h-2zM19 27h1v1h-1zM22 28h1v1h-1zM21 29h1v1h-1z"/><path fill="#493086" d="M9 17h1v1h-1zM16 19h2v1h-2zM17 20h1v1h-1zM19 21h1v1h-1zM24 22h2v1h-2zM24 23h1v1h-1zM23 24h1v1h-1zM24 25h1v1h-1zM25 26h2v1h-2zM20 27h2v1h-2zM23 28h1v1h-1z"/><path fill="#473487" d="M4 16h1v1h-1zM10 17h1v1h-1zM15 18h1v1h-1zM18 19h1v1h-1zM20 21h1v1h-1zM26 22h2v1h-2zM25 23h2v1h-2zM24 24h6v1h-6zM25 25h1v1h-1zM27 26h1v1h-1zM22 27h3v1h-3zM24 28h2v1h-2zM22 29h1v1h-1zM27 29h2v1h-2z"/><path fill="#463888" d="M5 16h1v1h-1zM11 17h1v1h-1zM16 18h1v1h-1zM19 19h1v1h-1zM18 20h1v1h-1zM21 21h1v1h-1zM28 22h1v1h-1zM27 23h1v1h-1zM30 24h2v1h-2zM26 25h1v1h-1zM28 26h1v1h-1zM25 27h1v1h-1zM26 28h4v1h-4zM23 29h4v1h-4zM29 29h1v1h-1z"/><path fill="#453b8a" d="M20 19h1v1h-1zM19 20h1v1h-1zM22 21h2v1h-2zM29 22h2v1h-2zM28 23h2v1h-2zM32 24h1v1h-1zM27 25h1v1h-1zM26 27h2v1h-2zM30 28h2v1h-2zM30 29h1v1h-1z"/><path fill="#443f8b" d="M12 17h1v1h-1zM17 18h1v1h-1zM21 19h2v1h-2zM20 20h1v1h-1zM24 21h1v1h-1zM31 22h1v1h-1zM30 23h1v1h-1zM33 24h1v1h-1zM28 25h1v1h-1zM29 26h1v1h-1zM28 27h6v1h-6zM32 28h2v1h-2zM31 29h1v1h-1z"/><path fill="#43438c" d="M13 17h1v1h-1zM18 18h1v1h-1zM23 19h1v1h-1zM21 20h1v1h-1zM25 21h2v1h-2zM31 21h1v1h-1zM32 22h1v1h-1zM31 23h1v1h-1zM34 24h1v1h-1zM29 25h2v1h-2zM30 26h1v1h-1zM34 27h1v1h-1zM34 28h2v1h-2zM32 29h1v1h-1z"/><path fill="#42478d" d="M14 17h1v1h-1zM24 19h2v1h-2zM22 20h2v1h-2zM27 21h4v1h-4zM32 21h1v1h-1zM33 22h1v1h-1zM32 23h1v1h-1zM31 25h4v1h-4zM31 26h2v1h-2zM35 27h1v1h-1zM36 28h1v1h-1zM33 29h7v1h-7z"/><path fill="#404b8e" d="M6 16h1v1h-1zM19 18h1v1h-1zM26 19h2v1h-2zM24 20h1v1h-1zM33 21h1v1h-1zM34 22h1v1h-1zM33 23h2v1h-2zM35 24h2v1h-2zM35 25h4v1h-4zM33 26h1v1h-1zM36 27h1v1h-1zM37 28h1v1h-1zM40 29h1v1h-1z"/><path fill="#3f4f8f" d="M7 16h1v1h-1zM15 17h1v1h-1zM20 18h1v1h-1zM28 19h1v1h-1zM25 20h1v1h-1zM34 21h1v1h-1zM35 22h1v1h-1zM35 23h2v1h-2zM37 24h1v1h-1zM39 25h1v1h-1zM34 26h2v1h-2zM37 27h1v1h-1zM38 28h1v1h-1zM41 29h1v1h-1z"/><path fill="#3e5390" d="M16 17h1v1h-1zM21 18h1v1h-1zM29 19h1v1h-1zM26 20h2v1h-2zM36 22h1v1h-1zM37 23h5v1h-5zM38 24h2v1h-2zM40 25h1v1h-1zM36 26h1v1h-1zM38 27h1v1h-1zM39 28h1v1h-1zM42 29h1v1h-1z"/><path fill="#3d5790" d="M8 16h1v1h-1zM17 17h1v1h-1zM22 18h1v1h-1zM30 19h1v1h-1zM28 20h3v1h-3zM35 21h1v1h-1zM37 22h2v1h-2zM42 23h2v1h-2zM40 24h1v1h-1zM41 25h1v1h-1zM37 26h2v1h-2zM42 26h3v1h-3zM39 27h2v1h-2zM40 28h2v1h-2zM43 29h1v1h-1z"/><path fill="#3c5b91" d="M2 15h1v1h-1zM9 16h1v1h-1zM18 17h1v1h-1zM23 18h1v1h-1zM31 19h2v1h-2zM31 20h2v1h-2zM36 21h1v1h-1zM39 22h2v1h-2zM44 23h1v1h-1zM41 24h1v1h-1zM39 26h3v1h-3zM45 26h1v1h-1zM41 27h1v1h-1zM42 28h2v1h-2zM44 29h3v1h-3z"/><path fill="#3b5f91" d="M10 16h1v1h-1zM19 17h1v1h-1zM24 18h1v1h-1zM33 19h1v1h-1zM33 20h1v1h-1zM37 21h1v1h-1zM41 22h1v1h-1zM42 24h1v1h-1zM42 25h1v1h-1zM46 26h1v1h-1zM42 27h4v1h-4zM44 28h6v1h-6zM47 29h2v1h-2z"/><path fill="#3a6292" d="M11 16h1v1h-1zM25 18h1v1h-1zM34 19h2v1h-2zM34 20h1v1h-1zM38 21h1v1h-1zM42 22h2v1h-2zM45 23h1v1h-1zM43 24h3v1h-3zM43 25h1v1h-1zM46 27h2v1h-2zM50 28h2v1h-2zM49 29h1v1h-1z"/><path fill="#3a6692" d="M20 17h1v1h-1zM26 18h2v1h-2zM36 19h1v1h-1zM35 20h7v1h-7zM39 21h1v1h-1zM44 22h2v1h-2zM46 23h1v1h-1zM46 24h3v1h-3zM44 25h3v1h-3zM47 26h1v1h-1zM48 27h2v1h-2zM52 28h1v1h-1zM50 29h1v1h-1z"/><path fill="#396a92" d="M12 16h1v1h-1zM21 17h1v1h-1zM28 18h2v1h-2zM37 19h2v1h-2zM42 20h2v1h-2zM40 21h1v1h-1zM46 22h5v1h-5zM49 24h1v1h-1zM47 25h2v1h-2zM48 26h1v1h-1zM50 27h2v1h-2zM53 28h1v1h-1zM51 29h1v1h-1z"/><path fill="#386d93" d="M13 16h1v1h-1zM22 17h2v1h-2zM27 17h3v1h-3zM30 18h2v1h-2zM39 19h1v1h-1zM44 20h2v1h-2zM41 21h1v1h-1zM51 22h1v1h-1zM47 23h1v1h-1zM50 24h4v1h-4zM49 25h1v1h-1zM49 26h1v1h-1zM52 27h1v1h-1zM54 28h3v1h-3zM52 29h1v1h-1z"/><path fill="#387193" d="M14 16h1v1h-1zM24 17h3v1h-3zM30 17h2v1h-2zM32 18h4v1h-4zM40 19h1v1h-1zM46 20h1v1h-1zM42 21h8v1h-8zM48 23h1v1h-1zM52 23h3v1h-3zM54 24h1v1h-1zM50 25h1v1h-1zM50 26h6v1h-6zM53 27h1v1h-1zM57 28h1v1h-1zM53 29h1v1h-1z"/><path fill="#387493" d="M3 15h1v1h-1zM36 18h4v1h-4zM41 19h1v1h-1zM47 20h2v1h-2zM50 21h2v1h-2zM52 22h1v1h-1zM49 23h3v1h-3zM55 23h2v1h-2zM55 24h2v1h-2zM51 25h4v1h-4zM60 25h4v1h-4zM56 26h6v1h-6zM54 27h1v1h-1zM58 28h1v1h-1zM54 29h1v1h-1z"/><path fill="#387793" d="M15 16h1v1h-1zM32 17h1v1h-1zM40 18h2v1h-2zM42 19h1v1h-1zM49 19h3v1h-3zM49 20h1v1h-1zM52 21h1v1h-1zM53 22h1v1h-1zM57 23h2v1h-2zM57 24h2v1h-2zM55 25h5v1h-5zM64 25h2v1h-2zM62 26h1v1h-1zM55 27h2v1h-2zM67 27h1v1h-1zM59 28h1v1h-1zM55 29h1v1h-1z"/><path fill="#397a92" d="M16 16h1v1h-1zM22 16h1v1h-1zM33 17h1v1h-1zM42 18h3v1h-3zM43 19h2v1h-2zM46 19h3v1h-3zM52 19h1v1h-1zM50 20h2v1h-2zM53 21h1v1h-1zM54 22h1v1h-1zM59 23h1v1h-1zM59 24h3v1h-3zM66 25h2v1h-2zM63 26h1v1h-1zM57 27h10v1h-10zM68 27h4v1h-4zM60 28h1v1h-1zM56 29h13v1h-13z"/><path fill="#397d92" d="M4 15h1v1h-1zM17 16h5v1h-5zM23 16h3v1h-3zM34 17h1v1h-1zM45 18h3v1h-3zM45 19h1v1h-1zM53 19h1v1h-1zM52 20h3v1h-3zM54 21h1v1h-1zM55 22h6v1h-6zM60 23h5v1h-5zM62 24h5v1h-5zM68 25h1v1h-1zM72 27h2v1h-2zM61 28h1v1h-1zM69 29h3v1h-3z"/><path fill="#398092" d="M5 15h1v1h-1zM26 16h2v1h-2zM35 17h1v1h-1zM39 17h2v1h-2zM48 18h2v1h-2zM54 19h1v1h-1zM55 20h3v1h-3zM55 21h1v1h-1zM61 22h2v1h-2zM65 23h2v1h-2zM67 24h3v1h-3zM69 25h1v1h-1zM64 26h1v1h-1zM74 27h1v1h-1zM84 27h1v1h-1zM62 28h1v1h-1zM65 28h5v1h-5zM72 29h1v1h-1z"/><path fill="#3a8392" d="M28 16h2v1h-2zM36 17h3v1h-3zM41 17h1v1h-1zM50 18h1v1h-1zM55 19h1v1h-1zM58 20h1v1h-1zM56 21h1v1h-1zM60 21h6v1h-6zM63 22h1v1h-1zM67 23h1v1h-1zM70 24h4v1h-4zM77 24h5v1h-5zM70 25h1v1h-1zM65 26h1v1h-1zM75 27h1v1h-1zM83 27h1v1h-1zM85 27h1v1h-1zM63 28h2v1h-2zM70 28h1v1h-1zM73 29h1v1h-1z"/><path fill="#3b8592" d="M6 15h1v1h-1zM30 16h2v1h-2zM42 17h1v1h-1zM51 18h1v1h-1zM56 19h1v1h-1zM59 20h2v1h-2zM57 21h3v1h-3zM66 21h1v1h-1zM64 22h1v1h-1zM68 23h1v1h-1zM82 23h3v1h-3zM74 24h3v1h-3zM82 24h1v1h-1zM71 25h2v1h-2zM66 26h7v1h-7zM81 26h4v1h-4zM76 27h2v1h-2zM81 27h2v1h-2zM86 27h1v1h-1zM71 28h5v1h-5zM74 29h2v1h-2zM84 29h3v1h-3z"/><path fill="#3c8792" d="M7 15h2v1h-2zM32 16h5v1h-5zM52 18h1v1h-1zM57 19h1v1h-1zM61 20h2v1h-2zM67 21h1v1h-1zM65 22h1v1h-1zM69 23h6v1h-6zM81 23h1v1h-1zM85 23h2v1h-2zM83 24h1v1h-1zM73 25h1v1h-1zM73 26h1v1h-1zM79 26h2v1h-2zM85 26h2v1h-2zM78 27h3v1h-3zM87 27h1v1h-1zM76 28h11v1h-11zM76 29h8v1h-8zM87 29h2v1h-2z"/><path fill="#3e8991" d="M9 15h2v1h-2zM37 16h2v1h-2zM43 17h7v1h-7zM53 18h1v1h-1zM58 19h3v1h-3zM64 19h3v1h-3zM63 20h4v1h-4zM80 20h1v1h-1zM68 21h5v1h-5zM66 22h2v1h-2zM71 22h13v1h-13zM75 23h2v1h-2zM80 23h1v1h-1zM87 23h2v1h-2zM74 25h1v1h-1zM82 25h6v1h-6zM74 26h5v1h-5zM87 26h1v1h-1zM87 28h1v1h-1zM89 29h1v1h-1z"/><path fill="#3f8c91" d="M11 15h2v1h-2zM39 16h3v1h-3zM50 17h1v1h-1zM54 18h1v1h-1zM61 19h3v1h-3zM67 19h1v1h-1zM67 20h8v1h-8zM77 20h3v1h-3zM81 20h2v1h-2zM73 21h9v1h-9zM68 22h3v1h-3zM84 22h1v1h-1zM77 23h3v1h-3zM89 23h1v1h-1zM84 24h1v1h-1zM75 25h2v1h-2zM80 25h2v1h-2zM88 25h3v1h-3zM88 26h2v1h-2zM88 27h1v1h-1zM99 27h2v1h-2zM88 28h1v1h-1zM90 29h1v1h-1z"/><path fill="#408e91" d="M13 15h1v1h-1zM42 16h5v1h-5zM51 17h1v1h-1zM55 18h1v1h-1zM68 19h2v1h-2zM78 19h5v1h-5zM75 20h2v1h-2zM83 20h1v1h-1zM82 21h1v1h-1zM97 21h1v1h-1zM85 22h2v1h-2zM90 23h1v1h-1zM85 24h2v1h-2zM77 25h3v1h-3zM91 25h8v1h-8zM90 26h1v1h-1zM100 26h1v1h-1zM89 27h1v1h-1zM97 27h2v1h-2zM89 28h1v1h-1zM98 28h3v1h-3zM91 29h2v1h-2z"/><path fill="#419091" d="M14 15h2v1h-2zM28 15h3v1h-3zM47 16h1v1h-1zM70 16h3v1h-3zM52 17h1v1h-1zM62 17h2v1h-2zM56 18h11v1h-11zM70 19h1v1h-1zM76 19h2v1h-2zM83 19h1v1h-1zM84 20h2v1h-2zM83 21h1v1h-1zM92 21h5v1h-5zM98 21h3v1h-3zM87 22h2v1h-2zM91 23h2v1h-2zM87 24h2v1h-2zM99 25h2v1h-2zM91 26h1v1h-1zM98 26h2v1h-2zM90 27h7v1h-7zM90 28h3v1h-3zM96 28h2v1h-2zM93 29h8v1h-8z"/><path fill="#429491" d="M16 15h2v1h-2zM26 15h2v1h-2zM31 15h4v1h-4zM48 16h8v1h-8zM67 16h3v1h-3zM73 16h1v1h-1zM53 17h3v1h-3zM59 17h3v1h-3zM64 17h2v1h-2zM67 17h9v1h-9zM67 18h4v1h-4zM77 18h4v1h-4zM71 19h5v1h-5zM84 19h1v1h-1zM86 20h9v1h-9zM84 21h1v1h-1zM91 21h1v1h-1zM89 22h1v1h-1zM94 22h4v1h-4zM93 23h2v1h-2zM89 24h1v1h-1zM92 26h1v1h-1zM97 26h1v1h-1zM93 28h3v1h-3z"/><path fill="#439791" d="M18 15h8v1h-8zM35 15h2v1h-2zM56 16h2v1h-2zM65 16h2v1h-2zM74 16h2v1h-2zM56 17h3v1h-3zM66 17h1v1h-1zM76 17h2v1h-2zM81 17h5v1h-5zM100 17h1v1h-1zM71 18h6v1h-6zM81 18h2v1h-2zM85 19h2v1h-2zM89 19h12v1h-12zM95 20h2v1h-2zM85 21h6v1h-6zM90 22h4v1h-4zM98 22h2v1h-2zM95 23h6v1h-6zM90 24h1v1h-1zM97 24h1v1h-1zM93 26h4v1h-4z"/><path fill="#449a90" d="M37 15h12v1h-12zM58 16h2v1h-2zM63 16h2v1h-2zM76 16h5v1h-5zM78 17h3v1h-3zM86 17h2v1h-2zM98 17h2v1h-2zM83 18h8v1h-8zM87 19h2v1h-2zM97 20h2v1h-2zM100 22h1v1h-1zM91 24h1v1h-1zM94 24h3v1h-3zM98 24h3v1h-3z"/><path fill="#459d90" d="M49 15h2v1h-2zM63 15h7v1h-7zM96 15h2v1h-2zM60 16h3v1h-3zM81 16h7v1h-7zM94 16h4v1h-4zM88 17h4v1h-4zM96 17h2v1h-2zM91 18h2v1h-2zM99 20h2v1h-2zM92 24h2v1h-2z"/><path fill="#46a090" d="M97 12h4v1h-4zM91 13h6v1h-6zM53 14h3v1h-3zM69 14h2v1h-2zM98 14h3v1h-3zM51 15h12v1h-12zM70 15h2v1h-2zM77 15h6v1h-6zM94 15h2v1h-2zM98 15h3v1h-3zM88 16h6v1h-6zM98 16h3v1h-3zM92 17h4v1h-4zM93 18h8v1h-8z"/><path fill="#47a490" d="M100 9h1v1h-1zM88 11h4v1h-4zM89 12h8v1h-8zM88 13h3v1h-3zM97 13h4v1h-4zM41 14h6v1h-6zM51 14h2v1h-2zM56 14h1v1h-1zM65 14h4v1h-4zM71 14h4v1h-4zM81 14h17v1h-17zM72 15h5v1h-5zM83 15h2v1h-2zM93 15h1v1h-1z"/><path fill="#48a78f" d="M100 8h1v1h-1zM98 9h2v1h-2zM89 10h2v1h-2zM99 10h2v1h-2zM86 11h2v1h-2zM92 11h3v1h-3zM76 12h13v1h-13zM70 13h4v1h-4zM83 13h5v1h-5zM39 14h2v1h-2zM47 14h4v1h-4zM57 14h8v1h-8zM75 14h6v1h-6zM85 15h2v1h-2zM91 15h2v1h-2z"/><path fill="#49aa8f" d="M93 4h3v1h-3zM99 8h1v1h-1zM96 9h2v1h-2zM79 10h1v1h-1zM87 10h2v1h-2zM91 10h2v1h-2zM97 10h2v1h-2zM77 11h9v1h-9zM95 11h1v1h-1zM63 12h9v1h-9zM74 12h2v1h-2zM66 13h4v1h-4zM74 13h2v1h-2zM80 13h3v1h-3zM36 14h3v1h-3zM87 15h4v1h-4z"/><path fill="#4aad8f" d="M98 0h3v1h-3zM94 2h1v1h-1zM91 4h2v1h-2zM96 4h1v1h-1zM99 6h2v1h-2zM95 7h4v1h-4zM98 8h1v1h-1zM76 9h4v1h-4zM93 9h3v1h-3zM76 10h3v1h-3zM80 10h2v1h-2zM86 10h1v1h-1zM93 10h4v1h-4zM74 11h3v1h-3zM96 11h5v1h-5zM61 12h2v1h-2zM72 12h2v1h-2zM51 13h5v1h-5zM62 13h4v1h-4zM76 13h4v1h-4zM26 14h1v1h-1zM32 14h4v1h-4z"/><path fill="#4bb08e" d="M96 0h2v1h-2zM89 1h5v1h-5zM92 2h2v1h-2zM95 2h2v1h-2zM90 3h11v1h-11zM90 4h1v1h-1zM97 4h2v1h-2zM90 5h8v1h-8zM93 6h6v1h-6zM85 7h5v1h-5zM94 7h1v1h-1zM99 7h2v1h-2zM86 8h7v1h-7zM97 8h1v1h-1zM75 9h1v1h-1zM80 9h2v1h-2zM88 9h5v1h-5zM75 10h1v1h-1zM82 10h4v1h-4zM60 11h7v1h-7zM71 11h3v1h-3zM60 12h1v1h-1zM50 13h1v1h-1zM56 13h6v1h-6zM24 14h2v1h-2zM27 14h5v1h-5z"/><path fill="#4cb48e" d="M81 0h3v1h-3zM95 0h1v1h-1zM74 1h5v1h-5zM87 1h2v1h-2zM94 1h1v1h-1zM90 2h2v1h-2zM97 2h4v1h-4zM88 3h2v1h-2zM87 4h3v1h-3zM99 4h2v1h-2zM88 5h2v1h-2zM98 5h3v1h-3zM90 6h3v1h-3zM83 7h2v1h-2zM90 7h4v1h-4zM79 8h7v1h-7zM93 8h4v1h-4zM74 9h1v1h-1zM82 9h6v1h-6zM74 10h1v1h-1zM59 11h1v1h-1zM67 11h4v1h-4zM59 12h1v1h-1zM37 13h3v1h-3zM49 13h1v1h-1zM15 14h3v1h-3zM22 14h2v1h-2z"/><path fill="#4cb78e" d="M80 0h1v1h-1zM84 0h2v1h-2zM94 0h1v1h-1zM73 1h1v1h-1zM79 1h1v1h-1zM86 1h1v1h-1zM95 1h6v1h-6zM87 2h3v1h-3zM87 3h1v1h-1zM79 4h1v1h-1zM82 4h5v1h-5zM73 5h3v1h-3zM87 5h1v1h-1zM82 6h8v1h-8zM80 7h3v1h-3zM75 8h4v1h-4zM73 10h1v1h-1zM57 11h2v1h-2zM57 12h2v1h-2zM35 13h2v1h-2zM40 13h1v1h-1zM47 13h2v1h-2zM13 14h2v1h-2zM18 14h4v1h-4z"/><path fill="#4dba8d" d="M79 0h1v1h-1zM86 0h2v1h-2zM92 0h2v1h-2zM72 1h1v1h-1zM80 1h1v1h-1zM85 1h1v1h-1zM84 2h3v1h-3zM78 3h3v1h-3zM85 3h2v1h-2zM77 4h2v1h-2zM80 4h2v1h-2zM68 5h5v1h-5zM76 5h3v1h-3zM86 5h1v1h-1zM70 6h4v1h-4zM76 6h6v1h-6zM77 7h3v1h-3zM68 8h7v1h-7zM73 9h1v1h-1zM64 10h5v1h-5zM71 10h2v1h-2zM56 11h1v1h-1zM50 12h7v1h-7zM31 13h4v1h-4zM41 13h1v1h-1zM46 13h1v1h-1zM11 14h2v1h-2z"/><path fill="#4ebd8c" d="M78 0h1v1h-1zM88 0h4v1h-4zM71 1h1v1h-1zM81 1h4v1h-4zM71 2h5v1h-5zM82 2h2v1h-2zM76 3h2v1h-2zM81 3h4v1h-4zM75 4h2v1h-2zM67 5h1v1h-1zM79 5h3v1h-3zM84 5h2v1h-2zM67 6h3v1h-3zM74 6h2v1h-2zM69 7h3v1h-3zM74 7h3v1h-3zM64 8h4v1h-4zM64 9h4v1h-4zM72 9h1v1h-1zM53 10h4v1h-4zM59 10h5v1h-5zM69 10h2v1h-2zM51 11h5v1h-5zM40 12h4v1h-4zM48 12h2v1h-2zM30 13h1v1h-1zM42 13h4v1h-4zM9 14h2v1h-2z"/><path fill="#4ec08c" d="M76 0h2v1h-2zM69 2h2v1h-2zM76 2h1v1h-1zM80 2h2v1h-2zM74 3h2v1h-2zM73 4h2v1h-2zM65 5h2v1h-2zM82 5h2v1h-2zM66 6h1v1h-1zM66 7h3v1h-3zM72 7h2v1h-2zM60 8h4v1h-4zM62 9h2v1h-2zM68 9h4v1h-4zM52 10h1v1h-1zM57 10h2v1h-2zM49 11h2v1h-2zM39 12h1v1h-1zM44 12h4v1h-4zM23 13h3v1h-3zM28 13h2v1h-2zM7 14h2v1h-2z"/><path fill="#4fc48b" d="M67 0h3v1h-3zM74 0h2v1h-2zM70 1h1v1h-1zM66 2h3v1h-3zM77 2h3v1h-3zM73 3h1v1h-1zM61 4h2v1h-2zM66 4h7v1h-7zM62 5h3v1h-3zM64 6h2v1h-2zM64 7h2v1h-2zM58 8h2v1h-2zM55 9h4v1h-4zM61 9h1v1h-1zM51 10h1v1h-1zM48 11h1v1h-1zM38 12h1v1h-1zM21 13h2v1h-2zM26 13h2v1h-2zM6 14h1v1h-1z"/><path fill="#50c78a" d="M65 0h2v1h-2zM70 0h4v1h-4zM63 1h7v1h-7zM64 2h2v1h-2zM59 4h2v1h-2zM63 4h3v1h-3zM61 5h1v1h-1zM56 6h4v1h-4zM61 6h3v1h-3zM56 7h8v1h-8zM57 8h1v1h-1zM54 9h1v1h-1zM59 9h2v1h-2zM50 10h1v1h-1zM46 11h2v1h-2zM37 12h1v1h-1zM20 13h1v1h-1z"/><path fill="#50cb88" d="M57 0h4v1h-4zM64 0h1v1h-1zM61 1h2v1h-2zM62 2h2v1h-2zM54 3h7v1h-7zM64 3h3v1h-3zM71 3h2v1h-2zM58 4h1v1h-1zM55 5h1v1h-1zM60 5h1v1h-1zM53 6h3v1h-3zM60 6h1v1h-1zM55 7h1v1h-1zM56 8h1v1h-1zM53 9h1v1h-1zM49 10h1v1h-1zM44 11h2v1h-2zM36 12h1v1h-1zM19 13h1v1h-1zM5 14h1v1h-1z"/><path fill="#51cf86" d="M55 0h2v1h-2zM61 0h3v1h-3zM54 1h7v1h-7zM60 2h2v1h-2zM53 3h1v1h-1zM61 3h3v1h-3zM67 3h4v1h-4zM57 4h1v1h-1zM53 5h2v1h-2zM56 5h4v1h-4zM52 6h1v1h-1zM53 7h2v1h-2zM55 8h1v1h-1zM52 9h1v1h-1zM46 10h3v1h-3zM38 11h6v1h-6zM31 12h5v1h-5zM18 13h1v1h-1zM4 14h1v1h-1z"/><path fill="#51d383" d="M54 0h1v1h-1zM52 1h2v1h-2zM55 2h5v1h-5zM55 4h2v1h-2zM52 5h1v1h-1zM50 6h2v1h-2zM52 7h1v1h-1zM54 8h1v1h-1zM51 9h1v1h-1zM44 10h2v1h-2zM36 11h2v1h-2zM29 12h2v1h-2zM17 13h1v1h-1z"/><path fill="#51d780" d="M51 1h1v1h-1zM54 2h1v1h-1zM52 3h1v1h-1zM52 4h3v1h-3zM50 7h2v1h-2zM53 8h1v1h-1zM42 9h2v1h-2zM50 9h1v1h-1zM43 10h1v1h-1zM33 11h3v1h-3zM28 12h1v1h-1zM16 13h1v1h-1z"/><path fill="#52db7e" d="M53 0h1v1h-1zM52 2h2v1h-2zM51 3h1v1h-1zM51 4h1v1h-1zM51 5h1v1h-1zM49 6h1v1h-1zM48 7h2v1h-2zM49 8h4v1h-4zM40 9h2v1h-2zM44 9h6v1h-6zM42 10h1v1h-1zM31 11h2v1h-2zM27 12h1v1h-1zM3 14h1v1h-1z"/><path fill="#52df7b" d="M52 0h1v1h-1zM50 1h1v1h-1zM51 2h1v1h-1zM50 3h1v1h-1zM50 4h1v1h-1zM50 5h1v1h-1zM48 6h1v1h-1zM46 7h2v1h-2zM43 8h6v1h-6zM39 9h1v1h-1zM40 10h2v1h-2zM29 11h2v1h-2zM26 12h1v1h-1zM15 13h1v1h-1z"/><path fill="#52e276" d="M51 0h1v1h-1zM49 1h1v1h-1zM49 2h2v1h-2zM49 3h1v1h-1zM49 4h1v1h-1zM49 5h1v1h-1zM47 6h1v1h-1zM45 7h1v1h-1zM42 8h1v1h-1zM38 9h1v1h-1zM37 10h3v1h-3zM28 11h1v1h-1zM23 12h3v1h-3zM14 13h1v1h-1z"/><path fill="#53e671" d="M49 0h2v1h-2zM47 1h2v1h-2zM46 2h3v1h-3zM47 3h2v1h-2zM46 4h3v1h-3zM48 5h1v1h-1zM45 6h2v1h-2zM44 7h1v1h-1zM41 8h1v1h-1zM35 9h3v1h-3zM36 10h1v1h-1zM26 11h2v1h-2zM22 12h1v1h-1zM13 13h1v1h-1z"/><path fill="#53ea6c" d="M48 0h1v1h-1zM46 1h1v1h-1zM45 2h1v1h-1zM45 3h2v1h-2zM45 4h1v1h-1zM46 5h2v1h-2zM42 6h3v1h-3zM43 7h1v1h-1zM39 8h2v1h-2zM33 9h2v1h-2zM34 10h2v1h-2zM25 11h1v1h-1zM21 12h1v1h-1zM12 13h1v1h-1z"/><path fill="#54ed66" d="M41 0h1v1h-1zM45 0h3v1h-3zM44 1h2v1h-2zM43 2h2v1h-2zM44 3h1v1h-1zM43 4h2v1h-2zM44 5h2v1h-2zM40 6h2v1h-2zM41 7h2v1h-2zM36 8h3v1h-3zM32 9h1v1h-1zM33 10h1v1h-1zM24 11h1v1h-1zM20 12h1v1h-1zM11 13h1v1h-1z"/><path fill="#54f161" d="M40 0h1v1h-1zM42 0h3v1h-3zM42 1h2v1h-2zM41 2h2v1h-2zM43 3h1v1h-1zM41 4h2v1h-2zM42 5h2v1h-2zM38 6h2v1h-2zM39 7h2v1h-2zM34 8h2v1h-2zM32 10h1v1h-1zM19 12h1v1h-1zM10 13h1v1h-1z"/><path fill="#55f45b" d="M39 0h1v1h-1zM41 1h1v1h-1zM37 2h4v1h-4zM41 3h2v1h-2zM39 4h2v1h-2zM41 5h1v1h-1zM37 7h2v1h-2zM32 8h2v1h-2zM31 9h1v1h-1zM30 10h2v1h-2zM23 11h1v1h-1zM18 12h1v1h-1zM9 13h1v1h-1zM2 14h1v1h-1z"/><path fill="#59f655" d="M38 0h1v1h-1zM40 1h1v1h-1zM35 2h2v1h-2zM40 3h1v1h-1zM37 4h2v1h-2zM36 5h5v1h-5zM37 6h1v1h-1zM36 7h1v1h-1zM31 8h1v1h-1zM30 9h1v1h-1zM28 10h2v1h-2zM22 11h1v1h-1zM16 12h2v1h-2zM8 13h1v1h-1z"/><path fill="#5ff74f" d="M37 0h1v1h-1zM34 1h1v1h-1zM39 1h1v1h-1zM33 2h2v1h-2zM35 3h5v1h-5zM36 4h1v1h-1zM35 5h1v1h-1zM36 6h1v1h-1zM34 7h2v1h-2zM30 8h1v1h-1zM25 10h3v1h-3zM21 11h1v1h-1zM15 12h1v1h-1z"/><path fill="#65f848" d="M36 0h1v1h-1zM32 1h2v1h-2zM35 1h4v1h-4zM32 2h1v1h-1zM33 3h2v1h-2zM34 5h1v1h-1zM35 6h1v1h-1zM33 7h1v1h-1zM29 8h1v1h-1zM29 9h1v1h-1zM24 10h1v1h-1zM20 11h1v1h-1zM14 12h1v1h-1zM7 13h1v1h-1z"/><path fill="#6bf942" d="M35 0h1v1h-1zM30 1h2v1h-2zM31 2h1v1h-1zM32 3h1v1h-1zM35 4h1v1h-1zM33 5h1v1h-1zM34 6h1v1h-1zM32 7h1v1h-1zM28 8h1v1h-1zM28 9h1v1h-1zM23 10h1v1h-1zM18 11h2v1h-2zM13 12h1v1h-1zM6 13h1v1h-1z"/><path fill="#71fa3c" d="M34 0h1v1h-1zM24 1h6v1h-6zM30 2h1v1h-1zM31 3h1v1h-1zM33 4h2v1h-2zM31 7h1v1h-1zM27 8h1v1h-1zM27 9h1v1h-1zM22 10h1v1h-1zM17 11h1v1h-1zM12 12h1v1h-1z"/><path fill="#77fb35" d="M32 0h2v1h-2zM23 1h1v1h-1zM29 2h1v1h-1zM30 3h1v1h-1zM31 4h2v1h-2zM32 5h1v1h-1zM33 6h1v1h-1zM26 8h1v1h-1zM25 9h2v1h-2zM21 10h1v1h-1zM16 11h1v1h-1zM11 12h1v1h-1z"/><path fill="#7efa33" d="M28 0h4v1h-4zM28 2h1v1h-1zM28 3h2v1h-2zM27 4h4v1h-4zM24 6h2v1h-2zM32 6h1v1h-1zM22 7h4v1h-4zM29 7h2v1h-2zM22 9h3v1h-3zM15 11h1v1h-1zM10 12h1v1h-1z"/><path fill="#86fa32" d="M26 0h2v1h-2zM22 1h1v1h-1zM22 2h6v1h-6zM23 3h5v1h-5zM25 4h2v1h-2zM31 5h1v1h-1zM23 6h1v1h-1zM26 6h1v1h-1zM31 6h1v1h-1zM21 7h1v1h-1zM26 7h3v1h-3zM25 8h1v1h-1zM20 9h2v1h-2zM20 10h1v1h-1z"/><path fill="#8ef931" d="M21 0h5v1h-5zM21 1h1v1h-1zM21 2h1v1h-1zM22 3h1v1h-1zM24 4h1v1h-1zM24 5h4v1h-4zM30 5h1v1h-1zM22 6h1v1h-1zM27 6h1v1h-1zM30 6h1v1h-1zM20 7h1v1h-1zM24 8h1v1h-1zM19 10h1v1h-1zM14 11h1v1h-1zM9 12h1v1h-1zM5 13h1v1h-1z"/><path fill="#96f830" d="M20 0h1v1h-1zM20 1h1v1h-1zM20 2h1v1h-1zM21 3h1v1h-1zM23 4h1v1h-1zM23 5h1v1h-1zM28 5h2v1h-2zM28 6h2v1h-2zM19 7h1v1h-1zM22 8h2v1h-2zM19 9h1v1h-1zM18 10h1v1h-1zM13 11h1v1h-1zM4 13h1v1h-1z"/><path fill="#9df82f" d="M19 0h1v1h-1zM19 1h1v1h-1zM19 3h2v1h-2zM21 4h2v1h-2zM22 5h1v1h-1zM21 6h1v1h-1zM18 7h1v1h-1zM19 8h3v1h-3zM18 9h1v1h-1zM12 11h1v1h-1zM8 12h1v1h-1z"/><path fill="#a5f72e" d="M18 0h1v1h-1zM17 1h2v1h-2zM19 2h1v1h-1zM16 3h3v1h-3zM20 4h1v1h-1zM21 5h1v1h-1zM20 6h1v1h-1zM17 7h1v1h-1zM17 8h2v1h-2zM17 9h1v1h-1zM17 10h1v1h-1zM11 11h1v1h-1zM7 12h1v1h-1z"/><path fill="#acf62f" d="M17 0h1v1h-1zM16 1h1v1h-1zM18 2h1v1h-1zM15 3h1v1h-1zM19 4h1v1h-1zM20 5h1v1h-1zM18 6h2v1h-2zM16 7h1v1h-1zM16 8h1v1h-1zM16 9h1v1h-1zM16 10h1v1h-1z"/><path fill="#b4f631" d="M16 0h1v1h-1zM15 1h1v1h-1zM16 2h2v1h-2zM14 3h1v1h-1zM18 4h1v1h-1zM14 5h6v1h-6zM16 6h2v1h-2zM15 7h1v1h-1zM15 8h1v1h-1zM15 9h1v1h-1zM14 10h2v1h-2zM10 11h1v1h-1zM6 12h1v1h-1zM3 13h1v1h-1z"/><path fill="#bbf532" d="M15 0h1v1h-1zM13 1h2v1h-2zM15 2h1v1h-1zM13 3h1v1h-1zM16 4h2v1h-2zM13 5h1v1h-1zM14 6h2v1h-2zM14 7h1v1h-1zM14 8h1v1h-1zM14 9h1v1h-1zM11 10h3v1h-3zM9 11h1v1h-1zM1 14h1v1h-1z"/><path fill="#c3f434" d="M13 0h2v1h-2zM12 1h1v1h-1zM14 2h1v1h-1zM12 3h1v1h-1zM15 4h1v1h-1zM12 5h1v1h-1zM12 6h2v1h-2zM13 7h1v1h-1zM13 8h1v1h-1zM12 9h2v1h-2zM10 10h1v1h-1zM8 11h1v1h-1z"/><path fill="#caf435" d="M11 0h2v1h-2zM11 1h1v1h-1zM13 2h1v1h-1zM11 3h1v1h-1zM13 4h2v1h-2zM11 5h1v1h-1zM11 6h1v1h-1zM11 7h2v1h-2zM11 8h2v1h-2zM11 9h1v1h-1zM8 10h2v1h-2zM7 11h1v1h-1z"/><path fill="#d2f337" d="M10 0h1v1h-1zM10 1h1v1h-1zM11 2h2v1h-2zM9 3h2v1h-2zM11 4h2v1h-2zM10 5h1v1h-1zM10 6h1v1h-1zM10 7h1v1h-1zM10 8h1v1h-1zM10 9h1v1h-1zM7 10h1v1h-1zM6 11h1v1h-1zM5 12h1v1h-1z"/><path fill="#d7f338" d="M8 0h2v1h-2zM8 1h2v1h-2zM6 2h5v1h-5zM6 3h3v1h-3zM7 4h4v1h-4zM7 5h3v1h-3zM7 6h3v1h-3zM8 7h2v1h-2zM8 8h2v1h-2zM8 9h2v1h-2zM6 10h1v1h-1zM4 12h1v1h-1z"/><path fill="#dcf239" d="M6 0h2v1h-2zM6 1h2v1h-2zM4 2h2v1h-2zM5 3h1v1h-1zM5 4h2v1h-2zM5 5h2v1h-2zM5 6h2v1h-2zM6 7h2v1h-2zM5 8h3v1h-3zM5 9h3v1h-3zM4 10h2v1h-2zM4 11h2v1h-2zM2 13h1v1h-1z"/><path fill="#e1f239" d="M4 0h2v1h-2zM4 1h2v1h-2zM3 2h1v1h-1zM3 3h2v1h-2zM3 4h2v1h-2zM3 5h2v1h-2zM3 6h2v1h-2zM4 7h2v1h-2zM3 8h2v1h-2zM3 9h2v1h-2zM3 10h1v1h-1zM3 11h1v1h-1zM3 12h1v1h-1z"/><path fill="#e6f23a" d="M2 0h2v1h-2zM2 1h2v1h-2zM2 2h1v1h-1zM2 3h1v1h-1zM2 4h1v1h-1zM2 5h1v1h-1zM2 6h1v1h-1zM2 7h2v1h-2zM2 8h1v1h-1zM2 9h1v1h-1zM2 10h1v1h-1zM2 11h1v1h-1zM2 12h1v1h-1z"/><path fill="#ebf13b" d="M1 0h1v1h-1zM1 1h1v1h-1zM1 2h1v1h-1zM1 3h1v1h-1zM1 4h1v1h-1zM1 5h1v1h-1zM1 6h1v1h-1zM1 7h1v1h-1zM1 8h1v1h-1zM1 9h1v1h-1zM1 10h1v1h-1zM1 11h1v1h-1zM1 12h1v1h-1zM1 13h1v1h-1z"/><path fill="#f0f13c" d="M0 0h1v1h-1zM0 1h1v1h-1zM0 2h1v1h-1zM0 3h1v1h-1zM0 4h1v1h-1zM0 5h1v1h-1zM0 6h1v1h-1zM0 7h1v1h-1zM0 8h1v1h-1zM0 9h1v1h-1zM0 10h1v1h-1zM0 11h1v1h-1zM0 12h1v1h-1zM0 13h1v1h-1zM0 14h1v1h-1z"/></g></g><line x1="98.70" y1="438.00" x2="110.80" y2="438.00" stroke="#000" stroke-width="2.75"/><text x="87.60" y="451.00" font-size="35.00" text-anchor="end">1</text><line x1="98.70" y1="483.09" x2="110.80" y2="483.09" stroke="#000" stroke-width="2.75"/><text x="87.60" y="496.09" font-size="35.00" text-anchor="end">10</text><line x1="98.70" y1="533.20" x2="110.80" y2="533.20" stroke="#000" stroke-width="2.75"/><text x="87.60" y="546.20" font-size="35.00" text-anchor="end">20</text><line x1="98.70" y1="583.30" x2="110.80" y2="583.30" stroke="#000" stroke-width="2.75"/><text x="87.60" y="596.30" font-size="35.00" text-anchor="end">30</text><rect x="110.80" y="438.00" width="711.70" height="145.30" fill="none" stroke="#000" stroke-width="2.75"/><text transform="translate(428.04 424.70) scale(1.220 1)" font-size="32.20" font-style="italic">χ</text><text x="458.12" y="428.20" font-size="35.00" text-anchor="start">=</text><text x="487.62" y="424.70" font-size="35.00" text-anchor="start">8</text><text x="117.30" y="464.05" font-size="27.50" text-anchor="start">(c)</text><text x="0.00" y="0.00" font-size="43.00" text-anchor="middle" transform="translate(30.6 510.65) rotate(-90)">Site</text><g filter="url(#hb)"><g transform="translate(110.80 634.10) scale(7.04653 4.84333)" shape-rendering="crispEdges"><path fill="#480961" d="M0 15h1v1h-1zM0 16h1v1h-1zM0 17h1v1h-1zM0 18h1v1h-1zM0 19h1v1h-1zM0 20h1v1h-1zM0 21h1v1h-1zM0 22h1v1h-1zM0 23h1v1h-1zM0 24h1v1h-1zM0 25h1v1h-1zM0 26h1v1h-1zM0 27h1v1h-1zM0 28h1v1h-1zM0 29h1v1h-1z"/><path fill="#480b64" d="M1 16h1v1h-1zM1 17h1v1h-1zM1 18h1v1h-1zM1 19h1v1h-1zM1 20h1v1h-1zM1 21h1v1h-1zM1 22h1v1h-1zM1 23h1v1h-1zM1 24h1v1h-1zM1 25h1v1h-1zM1 26h1v1h-1zM1 27h1v1h-1zM1 28h1v1h-1zM1 29h1v1h-1z"/><path fill="#490e67" d="M2 17h1v1h-1zM2 18h1v1h-1zM2 19h2v1h-2zM2 20h2v1h-2zM2 21h2v1h-2zM2 22h2v1h-2zM2 23h2v1h-2zM2 24h2v1h-2zM2 25h2v1h-2zM2 26h2v1h-2zM2 27h2v1h-2zM2 28h2v1h-2zM2 29h2v1h-2z"/><path fill="#49106a" d="M2 16h1v1h-1zM3 17h1v1h-1zM3 18h2v1h-2zM4 19h1v1h-1zM4 20h1v1h-1zM4 21h1v1h-1zM4 22h1v1h-1zM4 23h1v1h-1zM4 24h1v1h-1zM4 25h1v1h-1zM4 26h1v1h-1zM4 27h1v1h-1zM4 28h1v1h-1zM4 29h1v1h-1z"/><path fill="#49126c" d="M5 19h1v1h-1zM5 20h1v1h-1zM5 21h1v1h-1zM5 22h1v1h-1zM5 23h1v1h-1zM5 24h1v1h-1zM5 25h1v1h-1zM5 26h1v1h-1zM5 27h1v1h-1zM5 28h1v1h-1zM5 29h1v1h-1z"/><path fill="#4a156f" d="M4 17h1v1h-1zM5 18h1v1h-1zM6 19h1v1h-1zM6 20h1v1h-1zM6 21h2v1h-2zM6 22h2v1h-2zM6 23h2v1h-2zM6 24h2v1h-2zM6 25h2v1h-2zM6 26h2v1h-2zM6 27h2v1h-2zM6 28h2v1h-2zM6 29h2v1h-2z"/><path fill="#4a1772" d="M7 19h1v1h-1zM7 20h2v1h-2zM8 21h1v1h-1zM8 22h1v1h-1zM8 23h1v1h-1zM8 24h1v1h-1zM8 25h1v1h-1zM8 26h1v1h-1zM8 27h1v1h-1zM8 28h1v1h-1zM8 29h1v1h-1z"/><path fill="#4a1b75" d="M6 18h1v1h-1zM8 19h1v1h-1zM9 20h1v1h-1zM9 21h1v1h-1zM9 22h2v1h-2zM9 23h2v1h-2zM9 24h2v1h-2zM9 25h2v1h-2zM9 26h2v1h-2zM9 27h2v1h-2zM9 28h2v1h-2zM9 29h2v1h-2z"/><path fill="#4a1e78" d="M1 15h1v1h-1zM5 17h1v1h-1zM7 18h1v1h-1zM9 19h1v1h-1zM10 20h1v1h-1zM10 21h2v1h-2zM11 22h1v1h-1zM11 23h1v1h-1zM11 24h1v1h-1zM11 25h1v1h-1zM11 26h1v1h-1zM11 27h1v1h-1zM11 28h1v1h-1zM11 29h1v1h-1z"/><path fill="#4a227b" d="M8 18h1v1h-1zM10 19h1v1h-1zM11 20h1v1h-1zM12 21h1v1h-1zM12 22h1v1h-1zM12 23h1v1h-1zM12 24h1v1h-1zM12 25h1v1h-1zM12 26h1v1h-1zM12 27h1v1h-1zM12 28h1v1h-1zM12 29h1v1h-1z"/><path fill="#4a257e" d="M3 16h1v1h-1zM11 19h1v1h-1zM12 20h1v1h-1zM13 21h1v1h-1zM13 22h2v1h-2zM13 23h2v1h-2zM13 24h2v1h-2zM13 25h2v1h-2zM13 26h2v1h-2zM13 27h2v1h-2zM13 28h2v1h-2zM13 29h2v1h-2z"/><path fill="#4a2981" d="M6 17h1v1h-1zM9 18h1v1h-1zM12 19h1v1h-1zM13 20h1v1h-1zM14 21h1v1h-1zM15 22h1v1h-1zM15 23h1v1h-1zM15 24h1v1h-1zM15 25h1v1h-1zM15 26h1v1h-1zM15 27h1v1h-1zM15 28h1v1h-1zM15 29h1v1h-1z"/><path fill="#4a2c84" d="M10 18h1v1h-1zM13 19h1v1h-1zM14 20h1v1h-1zM15 21h2v1h-2zM16 22h1v1h-1zM16 23h2v1h-2zM16 24h2v1h-2zM16 25h2v1h-2zM16 26h2v1h-2zM16 27h2v1h-2zM16 28h2v1h-2zM16 29h2v1h-2z"/><path fill="#493086" d="M7 17h1v1h-1zM11 18h1v1h-1zM15 20h2v1h-2zM17 21h1v1h-1zM17 22h2v1h-2zM18 23h1v1h-1zM18 24h1v1h-1zM18 25h1v1h-1zM18 26h1v1h-1zM18 27h1v1h-1zM18 28h1v1h-1zM18 29h1v1h-1z"/><path fill="#473487" d="M4 16h1v1h-1zM14 19h1v1h-1zM17 20h1v1h-1zM18 21h1v1h-1zM19 22h1v1h-1zM19 23h2v1h-2zM19 24h2v1h-2zM19 25h2v1h-2zM19 26h2v1h-2zM19 27h2v1h-2zM19 28h2v1h-2zM19 29h2v1h-2z"/><path fill="#463888" d="M8 17h1v1h-1zM12 18h1v1h-1zM15 19h1v1h-1zM18 20h1v1h-1zM19 21h2v1h-2zM20 22h2v1h-2zM21 23h1v1h-1zM21 24h1v1h-1zM21 25h2v1h-2zM21 26h2v1h-2zM21 27h2v1h-2zM21 28h2v1h-2zM21 29h2v1h-2z"/><path fill="#453b8a" d="M9 17h1v1h-1zM13 18h1v1h-1zM16 19h1v1h-1zM19 20h1v1h-1zM21 21h1v1h-1zM22 22h1v1h-1zM22 23h2v1h-2zM22 24h2v1h-2zM23 25h1v1h-1zM23 26h1v1h-1zM23 27h1v1h-1zM23 28h1v1h-1zM23 29h1v1h-1z"/><path fill="#443f8b" d="M5 16h1v1h-1zM14 18h1v1h-1zM17 19h1v1h-1zM20 20h1v1h-1zM22 21h1v1h-1zM23 22h1v1h-1zM24 23h1v1h-1zM24 24h2v1h-2zM24 25h2v1h-2zM24 26h2v1h-2zM24 27h2v1h-2zM24 28h2v1h-2zM24 29h2v1h-2z"/><path fill="#43438c" d="M10 17h1v1h-1zM15 18h1v1h-1zM18 19h2v1h-2zM21 20h1v1h-1zM23 21h1v1h-1zM24 22h2v1h-2zM25 23h2v1h-2zM26 24h1v1h-1zM26 25h1v1h-1zM26 26h1v1h-1zM26 27h1v1h-1zM26 28h2v1h-2zM26 29h2v1h-2z"/><path fill="#42478d" d="M11 17h1v1h-1zM16 18h1v1h-1zM20 19h1v1h-1zM22 20h2v1h-2zM24 21h2v1h-2zM26 22h1v1h-1zM27 23h1v1h-1zM27 24h2v1h-2zM27 25h2v1h-2zM27 26h2v1h-2zM27 27h2v1h-2zM28 28h1v1h-1zM28 29h1v1h-1z"/><path fill="#404b8e" d="M17 18h1v1h-1zM21 19h1v1h-1zM24 20h1v1h-1zM26 21h1v1h-1zM27 22h2v1h-2zM28 23h2v1h-2zM29 24h2v1h-2zM29 25h2v1h-2zM29 26h2v1h-2zM29 27h2v1h-2zM29 28h2v1h-2zM29 29h2v1h-2z"/><path fill="#3f4f8f" d="M6 16h1v1h-1zM12 17h1v1h-1zM18 18h1v1h-1zM22 19h1v1h-1zM25 20h1v1h-1zM27 21h2v1h-2zM29 22h1v1h-1zM30 23h2v1h-2zM31 24h1v1h-1zM31 25h2v1h-2zM31 26h2v1h-2zM31 27h2v1h-2zM31 28h2v1h-2zM31 29h2v1h-2z"/><path fill="#3e5390" d="M13 17h1v1h-1zM19 18h1v1h-1zM23 19h1v1h-1zM26 20h2v1h-2zM29 21h1v1h-1zM30 22h2v1h-2zM32 23h1v1h-1zM32 24h2v1h-2zM33 25h2v1h-2zM33 26h2v1h-2zM33 27h2v1h-2zM33 28h2v1h-2zM33 29h2v1h-2z"/><path fill="#3d5790" d="M7 16h1v1h-1zM14 17h1v1h-1zM20 18h1v1h-1zM24 19h2v1h-2zM28 20h1v1h-1zM30 21h2v1h-2zM32 22h2v1h-2zM33 23h2v1h-2zM34 24h2v1h-2zM35 25h2v1h-2zM35 26h2v1h-2zM35 27h2v1h-2zM35 28h2v1h-2zM35 29h2v1h-2z"/><path fill="#3c5b91" d="M2 15h1v1h-1zM15 17h1v1h-1zM21 18h1v1h-1zM26 19h1v1h-1zM29 20h2v1h-2zM32 21h2v1h-2zM34 22h2v1h-2zM35 23h2v1h-2zM36 24h2v1h-2zM37 25h2v1h-2zM37 26h2v1h-2zM37 27h2v1h-2zM37 28h2v1h-2zM37 29h2v1h-2z"/><path fill="#3b5f91" d="M8 16h1v1h-1zM16 17h1v1h-1zM22 18h1v1h-1zM27 19h1v1h-1zM31 20h1v1h-1zM34 21h1v1h-1zM36 22h1v1h-1zM37 23h2v1h-2zM38 24h2v1h-2zM39 25h2v1h-2zM39 26h2v1h-2zM39 27h2v1h-2zM39 28h2v1h-2zM39 29h2v1h-2z"/><path fill="#3a6292" d="M9 16h1v1h-1zM17 17h1v1h-1zM23 18h2v1h-2zM28 19h2v1h-2zM32 20h2v1h-2zM35 21h2v1h-2zM37 22h2v1h-2zM39 23h2v1h-2zM40 24h2v1h-2zM41 25h1v1h-1zM41 26h2v1h-2zM41 27h2v1h-2zM41 28h2v1h-2zM41 29h2v1h-2z"/><path fill="#3a6692" d="M18 17h1v1h-1zM25 18h1v1h-1zM30 19h2v1h-2zM34 20h2v1h-2zM37 21h2v1h-2zM39 22h2v1h-2zM41 23h2v1h-2zM42 24h2v1h-2zM42 25h2v1h-2zM43 26h2v1h-2zM43 27h2v1h-2zM43 28h2v1h-2zM43 29h2v1h-2z"/><path fill="#396a92" d="M10 16h1v1h-1zM19 17h2v1h-2zM26 18h2v1h-2zM32 19h1v1h-1zM36 20h2v1h-2zM39 21h2v1h-2zM41 22h2v1h-2zM43 23h1v1h-1zM44 24h2v1h-2zM44 25h2v1h-2zM45 26h2v1h-2zM45 27h2v1h-2zM45 28h2v1h-2zM45 29h2v1h-2z"/><path fill="#386d93" d="M11 16h1v1h-1zM21 17h1v1h-1zM28 18h1v1h-1zM33 19h2v1h-2zM38 20h2v1h-2zM41 21h2v1h-2zM43 22h2v1h-2zM44 23h2v1h-2zM46 24h1v1h-1zM46 25h2v1h-2zM47 26h2v1h-2zM47 27h2v1h-2zM47 28h2v1h-2zM47 29h2v1h-2z"/><path fill="#387193" d="M12 16h1v1h-1zM22 17h1v1h-1zM29 18h2v1h-2zM35 19h2v1h-2zM40 20h2v1h-2zM43 21h2v1h-2zM45 22h2v1h-2zM46 23h2v1h-2zM47 24h3v1h-3zM48 25h2v1h-2zM49 26h2v1h-2zM49 27h2v1h-2zM49 28h3v1h-3zM49 29h3v1h-3z"/><path fill="#387493" d="M3 15h1v1h-1zM13 16h1v1h-1zM23 17h2v1h-2zM31 18h2v1h-2zM37 19h2v1h-2zM42 20h1v1h-1zM45 21h2v1h-2zM47 22h2v1h-2zM48 23h3v1h-3zM50 24h2v1h-2zM50 25h3v1h-3zM51 26h2v1h-2zM51 27h3v1h-3zM52 28h2v1h-2zM52 29h2v1h-2z"/><path fill="#387793" d="M14 16h2v1h-2zM25 17h2v1h-2zM33 18h2v1h-2zM39 19h2v1h-2zM43 20h3v1h-3zM47 21h2v1h-2zM49 22h2v1h-2zM51 23h2v1h-2zM52 24h2v1h-2zM53 25h2v1h-2zM53 26h3v1h-3zM54 27h2v1h-2zM54 28h3v1h-3zM54 29h3v1h-3z"/><path fill="#397a92" d="M16 16h1v1h-1zM27 17h2v1h-2zM35 18h2v1h-2zM41 19h2v1h-2zM46 20h2v1h-2zM49 21h2v1h-2zM51 22h3v1h-3zM53 23h2v1h-2zM54 24h3v1h-3zM55 25h3v1h-3zM56 26h3v1h-3zM56 27h3v1h-3zM57 28h2v1h-2zM57 29h3v1h-3z"/><path fill="#397d92" d="M4 15h1v1h-1zM17 16h2v1h-2zM29 17h2v1h-2zM37 18h3v1h-3zM43 19h3v1h-3zM48 20h2v1h-2zM51 21h3v1h-3zM54 22h2v1h-2zM55 23h3v1h-3zM57 24h3v1h-3zM58 25h3v1h-3zM59 26h2v1h-2zM59 27h3v1h-3zM59 28h3v1h-3zM60 29h3v1h-3z"/><path fill="#398092" d="M19 16h2v1h-2zM31 17h2v1h-2zM40 18h2v1h-2zM46 19h2v1h-2zM50 20h3v1h-3zM54 21h2v1h-2zM56 22h3v1h-3zM58 23h3v1h-3zM60 24h2v1h-2zM61 25h3v1h-3zM61 26h3v1h-3zM62 27h3v1h-3zM62 28h3v1h-3zM63 29h2v1h-2z"/><path fill="#3a8392" d="M5 15h1v1h-1zM21 16h2v1h-2zM33 17h3v1h-3zM42 18h3v1h-3zM48 19h3v1h-3zM53 20h3v1h-3zM56 21h3v1h-3zM59 22h3v1h-3zM61 23h3v1h-3zM62 24h3v1h-3zM64 25h3v1h-3zM64 26h3v1h-3zM65 27h3v1h-3zM65 28h3v1h-3zM65 29h4v1h-4z"/><path fill="#3b8592" d="M23 16h2v1h-2zM36 17h3v1h-3zM45 18h3v1h-3zM51 19h3v1h-3zM56 20h3v1h-3zM59 21h3v1h-3zM62 22h3v1h-3zM64 23h3v1h-3zM65 24h4v1h-4zM67 25h3v1h-3zM67 26h4v1h-4zM68 27h3v1h-3zM68 28h4v1h-4zM69 29h3v1h-3z"/><path fill="#3c8792" d="M6 15h1v1h-1zM25 16h3v1h-3zM39 17h3v1h-3zM48 18h3v1h-3zM54 19h3v1h-3zM59 20h3v1h-3zM62 21h4v1h-4zM65 22h3v1h-3zM67 23h3v1h-3zM69 24h3v1h-3zM70 25h3v1h-3zM71 26h3v1h-3zM71 27h4v1h-4zM72 28h3v1h-3zM72 29h3v1h-3z"/><path fill="#3e8991" d="M7 15h2v1h-2zM28 16h3v1h-3zM42 17h4v1h-4zM51 18h3v1h-3zM57 19h4v1h-4zM62 20h4v1h-4zM66 21h3v1h-3zM68 22h4v1h-4zM70 23h4v1h-4zM72 24h4v1h-4zM73 25h4v1h-4zM74 26h4v1h-4zM75 27h3v1h-3zM75 28h4v1h-4zM75 29h4v1h-4z"/><path fill="#3f8c91" d="M9 15h2v1h-2zM31 16h4v1h-4zM46 17h3v1h-3zM54 18h5v1h-5zM61 19h4v1h-4zM66 20h4v1h-4zM69 21h4v1h-4zM72 22h4v1h-4zM74 23h4v1h-4zM76 24h4v1h-4zM77 25h4v1h-4zM78 26h4v1h-4zM78 27h5v1h-5zM79 28h4v1h-4zM79 29h5v1h-5z"/><path fill="#408e91" d="M11 15h2v1h-2zM35 16h5v1h-5zM49 17h5v1h-5zM59 18h4v1h-4zM65 19h5v1h-5zM70 20h4v1h-4zM73 21h5v1h-5zM76 22h5v1h-5zM78 23h5v1h-5zM80 24h4v1h-4zM81 25h5v1h-5zM82 26h5v1h-5zM83 27h5v1h-5zM83 28h5v1h-5zM84 29h5v1h-5z"/><path fill="#419091" d="M13 15h4v1h-4zM40 16h5v1h-5zM54 17h6v1h-6zM63 18h6v1h-6zM70 19h5v1h-5zM74 20h6v1h-6zM78 21h5v1h-5zM81 22h5v1h-5zM83 23h5v1h-5zM84 24h6v1h-6zM86 25h5v1h-5zM87 26h5v1h-5zM88 27h5v1h-5zM88 28h5v1h-5zM89 29h5v1h-5z"/><path fill="#429491" d="M17 15h5v1h-5zM45 16h7v1h-7zM60 17h6v1h-6zM69 18h6v1h-6zM75 19h6v1h-6zM80 20h6v1h-6zM83 21h7v1h-7zM86 22h6v1h-6zM88 23h6v1h-6zM90 24h6v1h-6zM91 25h6v1h-6zM92 26h8v1h-8zM93 27h8v1h-8zM93 28h8v1h-8zM94 29h7v1h-7z"/><path fill="#439791" d="M22 15h7v1h-7zM52 16h8v1h-8zM66 17h8v1h-8zM75 18h8v1h-8zM81 19h9v1h-9zM86 20h8v1h-8zM90 21h7v1h-7zM92 22h9v1h-9zM94 23h7v1h-7zM96 24h5v1h-5zM97 25h4v1h-4zM100 26h1v1h-1z"/><path fill="#449a90" d="M29 15h11v1h-11zM60 16h12v1h-12zM74 17h12v1h-12zM83 18h11v1h-11zM90 19h11v1h-11zM94 20h7v1h-7zM97 21h4v1h-4z"/><path fill="#459d90" d="M40 15h21v1h-21zM72 16h19v1h-19zM86 17h15v1h-15zM94 18h7v1h-7z"/><path fill="#46a090" d="M61 15h40v1h-40zM91 16h10v1h-10z"/><path fill="#47a490" d="M96 12h5v1h-5zM84 13h17v1h-17zM56 14h45v1h-45z"/><path fill="#48a78f" d="M96 9h5v1h-5zM92 10h9v1h-9zM87 11h14v1h-14zM79 12h17v1h-17zM67 13h17v1h-17zM38 14h18v1h-18z"/><path fill="#49aa8f" d="M99 2h2v1h-2zM98 3h3v1h-3zM97 4h4v1h-4zM95 5h6v1h-6zM94 6h7v1h-7zM92 7h9v1h-9zM90 8h11v1h-11zM87 9h9v1h-9zM82 10h10v1h-10zM77 11h10v1h-10zM69 12h10v1h-10zM56 13h11v1h-11zM27 14h11v1h-11z"/><path fill="#4aad8f" d="M92 0h9v1h-9zM92 1h9v1h-9zM91 2h8v1h-8zM91 3h7v1h-7zM90 4h7v1h-7zM88 5h7v1h-7zM87 6h7v1h-7zM85 7h7v1h-7zM82 8h8v1h-8zM79 9h8v1h-8zM75 10h7v1h-7zM69 11h8v1h-8zM61 12h8v1h-8zM48 13h8v1h-8zM20 14h7v1h-7z"/><path fill="#4bb08e" d="M86 0h6v1h-6zM86 1h6v1h-6zM85 2h6v1h-6zM84 3h7v1h-7zM83 4h7v1h-7zM82 5h6v1h-6zM81 6h6v1h-6zM79 7h6v1h-6zM76 8h6v1h-6zM73 9h6v1h-6zM69 10h6v1h-6zM63 11h6v1h-6zM55 12h6v1h-6zM42 13h6v1h-6zM16 14h4v1h-4z"/><path fill="#4cb48e" d="M81 0h5v1h-5zM80 1h6v1h-6zM80 2h5v1h-5zM79 3h5v1h-5zM78 4h5v1h-5zM77 5h5v1h-5zM76 6h5v1h-5zM74 7h5v1h-5zM72 8h4v1h-4zM69 9h4v1h-4zM64 10h5v1h-5zM58 11h5v1h-5zM50 12h5v1h-5zM37 13h5v1h-5zM13 14h3v1h-3z"/><path fill="#4cb78e" d="M76 0h5v1h-5zM76 1h4v1h-4zM75 2h5v1h-5zM75 3h4v1h-4zM74 4h4v1h-4zM73 5h4v1h-4zM72 6h4v1h-4zM70 7h4v1h-4zM67 8h5v1h-5zM64 9h5v1h-5zM60 10h4v1h-4zM54 11h4v1h-4zM46 12h4v1h-4zM33 13h4v1h-4zM10 14h3v1h-3z"/><path fill="#4dba8d" d="M72 0h4v1h-4zM72 1h4v1h-4zM72 2h3v1h-3zM71 3h4v1h-4zM70 4h4v1h-4zM69 5h4v1h-4zM68 6h4v1h-4zM66 7h4v1h-4zM64 8h3v1h-3zM60 9h4v1h-4zM56 10h4v1h-4zM50 11h4v1h-4zM42 12h4v1h-4zM29 13h4v1h-4zM9 14h1v1h-1z"/><path fill="#4ebd8c" d="M69 0h3v1h-3zM68 1h4v1h-4zM68 2h4v1h-4zM68 3h3v1h-3zM67 4h3v1h-3zM66 5h3v1h-3zM64 6h4v1h-4zM63 7h3v1h-3zM60 8h4v1h-4zM57 9h3v1h-3zM53 10h3v1h-3zM47 11h3v1h-3zM39 12h3v1h-3zM26 13h3v1h-3zM7 14h2v1h-2z"/><path fill="#4ec08c" d="M65 0h4v1h-4zM65 1h3v1h-3zM65 2h3v1h-3zM64 3h4v1h-4zM64 4h3v1h-3zM63 5h3v1h-3zM61 6h3v1h-3zM60 7h3v1h-3zM57 8h3v1h-3zM54 9h3v1h-3zM50 10h3v1h-3zM44 11h3v1h-3zM36 12h3v1h-3zM24 13h2v1h-2zM6 14h1v1h-1z"/><path fill="#4fc48b" d="M62 0h3v1h-3zM62 1h3v1h-3zM62 2h3v1h-3zM61 3h3v1h-3zM61 4h3v1h-3zM60 5h3v1h-3zM58 6h3v1h-3zM57 7h3v1h-3zM54 8h3v1h-3zM51 9h3v1h-3zM47 10h3v1h-3zM42 11h2v1h-2zM34 12h2v1h-2zM22 13h2v1h-2z"/><path fill="#50c78a" d="M59 0h3v1h-3zM59 1h3v1h-3zM59 2h3v1h-3zM58 3h3v1h-3zM58 4h3v1h-3zM57 5h3v1h-3zM56 6h2v1h-2zM54 7h3v1h-3zM52 8h2v1h-2zM48 9h3v1h-3zM45 10h2v1h-2zM39 11h3v1h-3zM31 12h3v1h-3zM20 13h2v1h-2zM5 14h1v1h-1z"/><path fill="#50cb88" d="M56 0h3v1h-3zM56 1h3v1h-3zM56 2h3v1h-3zM56 3h2v1h-2zM55 4h3v1h-3zM54 5h3v1h-3zM53 6h3v1h-3zM51 7h3v1h-3zM49 8h3v1h-3zM46 9h2v1h-2zM42 10h3v1h-3zM37 11h2v1h-2zM29 12h2v1h-2zM18 13h2v1h-2z"/><path fill="#51cf86" d="M54 0h2v1h-2zM54 1h2v1h-2zM53 2h3v1h-3zM53 3h3v1h-3zM52 4h3v1h-3zM52 5h2v1h-2zM51 6h2v1h-2zM49 7h2v1h-2zM47 8h2v1h-2zM44 9h2v1h-2zM40 10h2v1h-2zM35 11h2v1h-2zM27 12h2v1h-2zM16 13h2v1h-2zM4 14h1v1h-1z"/><path fill="#51d383" d="M51 0h3v1h-3zM51 1h3v1h-3zM51 2h2v1h-2zM51 3h2v1h-2zM50 4h2v1h-2zM49 5h3v1h-3zM48 6h3v1h-3zM47 7h2v1h-2zM45 8h2v1h-2zM42 9h2v1h-2zM38 10h2v1h-2zM33 11h2v1h-2zM25 12h2v1h-2zM15 13h1v1h-1z"/><path fill="#51d780" d="M49 0h2v1h-2zM49 1h2v1h-2zM49 2h2v1h-2zM48 3h3v1h-3zM48 4h2v1h-2zM47 5h2v1h-2zM46 6h2v1h-2zM45 7h2v1h-2zM43 8h2v1h-2zM40 9h2v1h-2zM36 10h2v1h-2zM31 11h2v1h-2zM24 12h1v1h-1zM14 13h1v1h-1z"/><path fill="#52db7e" d="M47 0h2v1h-2zM47 1h2v1h-2zM47 2h2v1h-2zM46 3h2v1h-2zM46 4h2v1h-2zM45 5h2v1h-2zM44 6h2v1h-2zM43 7h2v1h-2zM41 8h2v1h-2zM38 9h2v1h-2zM34 10h2v1h-2zM29 11h2v1h-2zM22 12h2v1h-2zM13 13h1v1h-1zM3 14h1v1h-1z"/><path fill="#52df7b" d="M45 0h2v1h-2zM45 1h2v1h-2zM45 2h2v1h-2zM44 3h2v1h-2zM44 4h2v1h-2zM43 5h2v1h-2zM42 6h2v1h-2zM41 7h2v1h-2zM39 8h2v1h-2zM36 9h2v1h-2zM33 10h1v1h-1zM27 11h2v1h-2zM21 12h1v1h-1zM12 13h1v1h-1z"/><path fill="#52e276" d="M43 0h2v1h-2zM43 1h2v1h-2zM43 2h2v1h-2zM42 3h2v1h-2zM42 4h2v1h-2zM42 5h1v1h-1zM41 6h1v1h-1zM39 7h2v1h-2zM37 8h2v1h-2zM35 9h1v1h-1zM31 10h2v1h-2zM26 11h1v1h-1zM19 12h2v1h-2zM11 13h1v1h-1z"/><path fill="#53e671" d="M41 0h2v1h-2zM41 1h2v1h-2zM41 2h2v1h-2zM41 3h1v1h-1zM40 4h2v1h-2zM40 5h2v1h-2zM39 6h2v1h-2zM38 7h1v1h-1zM36 8h1v1h-1zM33 9h2v1h-2zM29 10h2v1h-2zM25 11h1v1h-1zM18 12h1v1h-1zM10 13h1v1h-1z"/><path fill="#53ea6c" d="M39 0h2v1h-2zM39 1h2v1h-2zM39 2h2v1h-2zM39 3h2v1h-2zM38 4h2v1h-2zM38 5h2v1h-2zM37 6h2v1h-2zM36 7h2v1h-2zM34 8h2v1h-2zM31 9h2v1h-2zM28 10h1v1h-1zM23 11h2v1h-2zM17 12h1v1h-1zM9 13h1v1h-1z"/><path fill="#54ed66" d="M37 0h2v1h-2zM37 1h2v1h-2zM37 2h2v1h-2zM37 3h2v1h-2zM37 4h1v1h-1zM36 5h2v1h-2zM35 6h2v1h-2zM34 7h2v1h-2zM32 8h2v1h-2zM30 9h1v1h-1zM26 10h2v1h-2zM22 11h1v1h-1zM16 12h1v1h-1z"/><path fill="#54f161" d="M35 0h2v1h-2zM35 1h2v1h-2zM35 2h2v1h-2zM35 3h2v1h-2zM35 4h2v1h-2zM34 5h2v1h-2zM33 6h2v1h-2zM32 7h2v1h-2zM31 8h1v1h-1zM28 9h2v1h-2zM25 10h1v1h-1zM21 11h1v1h-1zM15 12h1v1h-1zM8 13h1v1h-1z"/><path fill="#55f45b" d="M33 0h2v1h-2zM33 1h2v1h-2zM33 2h2v1h-2zM33 3h2v1h-2zM33 4h2v1h-2zM32 5h2v1h-2zM32 6h1v1h-1zM31 7h1v1h-1zM29 8h2v1h-2zM27 9h1v1h-1zM24 10h1v1h-1zM20 11h1v1h-1zM14 12h1v1h-1zM7 13h1v1h-1zM2 14h1v1h-1z"/><path fill="#59f655" d="M31 0h2v1h-2zM31 1h2v1h-2zM31 2h2v1h-2zM31 3h2v1h-2zM31 4h2v1h-2zM31 5h1v1h-1zM30 6h2v1h-2zM29 7h2v1h-2zM28 8h1v1h-1zM26 9h1v1h-1zM23 10h1v1h-1zM19 11h1v1h-1zM13 12h1v1h-1z"/><path fill="#5ff74f" d="M29 0h2v1h-2zM29 1h2v1h-2zM29 2h2v1h-2zM29 3h2v1h-2zM29 4h2v1h-2zM29 5h2v1h-2zM28 6h2v1h-2zM28 7h1v1h-1zM26 8h2v1h-2zM24 9h2v1h-2zM21 10h2v1h-2zM18 11h1v1h-1zM6 13h1v1h-1z"/><path fill="#65f848" d="M28 0h1v1h-1zM28 1h1v1h-1zM28 2h1v1h-1zM28 3h1v1h-1zM28 4h1v1h-1zM27 5h2v1h-2zM27 6h1v1h-1zM26 7h2v1h-2zM25 8h1v1h-1zM23 9h1v1h-1zM20 10h1v1h-1zM17 11h1v1h-1zM12 12h1v1h-1z"/><path fill="#6bf942" d="M26 0h2v1h-2zM26 1h2v1h-2zM26 2h2v1h-2zM26 3h2v1h-2zM26 4h2v1h-2zM26 5h1v1h-1zM25 6h2v1h-2zM25 7h1v1h-1zM24 8h1v1h-1zM22 9h1v1h-1zM19 10h1v1h-1zM16 11h1v1h-1zM11 12h1v1h-1z"/><path fill="#71fa3c" d="M25 0h1v1h-1zM25 1h1v1h-1zM25 2h1v1h-1zM25 3h1v1h-1zM25 4h1v1h-1zM24 5h2v1h-2zM24 6h1v1h-1zM23 7h2v1h-2zM22 8h2v1h-2zM21 9h1v1h-1zM18 10h1v1h-1zM15 11h1v1h-1zM10 12h1v1h-1z"/><path fill="#77fb35" d="M23 0h2v1h-2zM23 1h2v1h-2zM23 2h2v1h-2zM23 3h2v1h-2zM23 4h2v1h-2zM23 5h1v1h-1zM23 6h1v1h-1zM22 7h1v1h-1zM21 8h1v1h-1zM20 9h1v1h-1zM17 10h1v1h-1zM14 11h1v1h-1z"/><path fill="#7efa33" d="M22 0h1v1h-1zM22 1h1v1h-1zM22 2h1v1h-1zM22 3h1v1h-1zM22 4h1v1h-1zM22 5h1v1h-1zM21 6h2v1h-2zM21 7h1v1h-1zM20 8h1v1h-1zM18 9h2v1h-2zM16 10h1v1h-1zM13 11h1v1h-1zM9 12h1v1h-1zM5 13h1v1h-1z"/><path fill="#86fa32" d="M20 0h2v1h-2zM20 1h2v1h-2zM20 2h2v1h-2zM20 3h2v1h-2zM20 4h2v1h-2zM20 5h2v1h-2zM20 6h1v1h-1zM19 7h2v1h-2zM19 8h1v1h-1zM17 9h1v1h-1zM15 10h1v1h-1zM12 11h1v1h-1z"/><path fill="#8ef931" d="M19 0h1v1h-1zM19 1h1v1h-1zM19 2h1v1h-1zM19 3h1v1h-1zM19 4h1v1h-1zM19 5h1v1h-1zM18 6h2v1h-2zM18 7h1v1h-1zM17 8h2v1h-2zM16 9h1v1h-1zM14 10h1v1h-1zM8 12h1v1h-1z"/><path fill="#96f830" d="M17 0h2v1h-2zM17 1h2v1h-2zM17 2h2v1h-2zM17 3h2v1h-2zM17 4h2v1h-2zM17 5h2v1h-2zM17 6h1v1h-1zM17 7h1v1h-1zM16 8h1v1h-1zM15 9h1v1h-1zM13 10h1v1h-1zM11 11h1v1h-1zM7 12h1v1h-1zM4 13h1v1h-1z"/><path fill="#9df82f" d="M16 0h1v1h-1zM16 1h1v1h-1zM16 2h1v1h-1zM16 3h1v1h-1zM16 4h1v1h-1zM16 5h1v1h-1zM16 6h1v1h-1zM16 7h1v1h-1zM15 8h1v1h-1zM14 9h1v1h-1zM10 11h1v1h-1z"/><path fill="#a5f72e" d="M15 0h1v1h-1zM15 1h1v1h-1zM15 2h1v1h-1zM15 3h1v1h-1zM15 4h1v1h-1zM15 5h1v1h-1zM14 6h2v1h-2zM14 7h2v1h-2zM14 8h1v1h-1zM13 9h1v1h-1zM12 10h1v1h-1zM9 11h1v1h-1zM6 12h1v1h-1z"/><path fill="#acf62f" d="M13 0h2v1h-2zM13 1h2v1h-2zM13 2h2v1h-2zM13 3h2v1h-2zM13 4h2v1h-2zM13 5h2v1h-2zM13 6h1v1h-1zM13 7h1v1h-1zM13 8h1v1h-1zM12 9h1v1h-1zM11 10h1v1h-1z"/><path fill="#b4f631" d="M12 0h1v1h-1zM12 1h1v1h-1zM12 2h1v1h-1zM12 3h1v1h-1zM12 4h1v1h-1zM12 5h1v1h-1zM12 6h1v1h-1zM12 7h1v1h-1zM12 8h1v1h-1zM11 9h1v1h-1zM10 10h1v1h-1zM8 11h1v1h-1zM3 13h1v1h-1z"/><path fill="#bbf532" d="M11 0h1v1h-1zM11 1h1v1h-1zM11 2h1v1h-1zM11 3h1v1h-1zM11 4h1v1h-1zM11 5h1v1h-1zM11 6h1v1h-1zM11 7h1v1h-1zM11 8h1v1h-1zM10 9h1v1h-1zM9 10h1v1h-1zM7 11h1v1h-1z"/><path fill="#c3f434" d="M9 0h2v1h-2zM9 1h2v1h-2zM9 2h2v1h-2zM9 3h2v1h-2zM9 4h2v1h-2zM9 5h2v1h-2zM9 6h2v1h-2zM9 7h2v1h-2zM9 8h2v1h-2zM9 9h1v1h-1zM8 10h1v1h-1zM5 12h1v1h-1zM1 14h1v1h-1z"/><path fill="#caf435" d="M8 0h1v1h-1zM8 1h1v1h-1zM8 2h1v1h-1zM8 3h1v1h-1zM8 4h1v1h-1zM8 5h1v1h-1zM8 6h1v1h-1zM8 7h1v1h-1zM8 8h1v1h-1zM8 9h1v1h-1zM7 10h1v1h-1zM6 11h1v1h-1z"/><path fill="#d2f337" d="M7 0h1v1h-1zM7 1h1v1h-1zM7 2h1v1h-1zM7 3h1v1h-1zM7 4h1v1h-1zM7 5h1v1h-1zM7 6h1v1h-1zM7 7h1v1h-1zM7 8h1v1h-1zM7 9h1v1h-1zM6 10h1v1h-1zM4 12h1v1h-1z"/><path fill="#d7f338" d="M5 0h2v1h-2zM5 1h2v1h-2zM5 2h2v1h-2zM5 3h2v1h-2zM5 4h2v1h-2zM5 5h2v1h-2zM5 6h2v1h-2zM5 7h2v1h-2zM5 8h2v1h-2zM5 9h2v1h-2zM5 10h1v1h-1zM5 11h1v1h-1z"/><path fill="#dcf239" d="M4 0h1v1h-1zM4 1h1v1h-1zM4 2h1v1h-1zM4 3h1v1h-1zM4 4h1v1h-1zM4 5h1v1h-1zM4 6h1v1h-1zM4 7h1v1h-1zM4 8h1v1h-1zM4 9h1v1h-1zM4 10h1v1h-1zM4 11h1v1h-1zM3 12h1v1h-1z"/><path fill="#e1f239" d="M3 0h1v1h-1zM3 1h1v1h-1zM3 2h1v1h-1zM3 3h1v1h-1zM3 4h1v1h-1zM3 5h1v1h-1zM3 6h1v1h-1zM3 7h1v1h-1zM3 8h1v1h-1zM3 9h1v1h-1zM3 10h1v1h-1zM3 11h1v1h-1zM2 13h1v1h-1z"/><path fill="#e6f23a" d="M2 0h1v1h-1zM2 1h1v1h-1zM2 2h1v1h-1zM2 3h1v1h-1zM2 4h1v1h-1zM2 5h1v1h-1zM2 6h1v1h-1zM2 7h1v1h-1zM2 8h1v1h-1zM2 9h1v1h-1zM2 10h1v1h-1zM2 11h1v1h-1zM2 12h1v1h-1z"/><path fill="#ebf13b" d="M1 0h1v1h-1zM1 1h1v1h-1zM1 2h1v1h-1zM1 3h1v1h-1zM1 4h1v1h-1zM1 5h1v1h-1zM1 6h1v1h-1zM1 7h1v1h-1zM1 8h1v1h-1zM1 9h1v1h-1zM1 10h1v1h-1zM1 11h1v1h-1zM1 12h1v1h-1zM1 13h1v1h-1z"/><path fill="#f0f13c" d="M0 0h1v1h-1zM0 1h1v1h-1zM0 2h1v1h-1zM0 3h1v1h-1zM0 4h1v1h-1zM0 5h1v1h-1zM0 6h1v1h-1zM0 7h1v1h-1zM0 8h1v1h-1zM0 9h1v1h-1zM0 10h1v1h-1zM0 11h1v1h-1zM0 12h1v1h-1zM0 13h1v1h-1zM0 14h1v1h-1z"/></g></g><line x1="98.70" y1="634.10" x2="110.80" y2="634.10" stroke="#000" stroke-width="2.75"/><text x="87.60" y="647.10" font-size="35.00" text-anchor="end">1</text><line x1="98.70" y1="679.19" x2="110.80" y2="679.19" stroke="#000" stroke-width="2.75"/><text x="87.60" y="692.19" font-size="35.00" text-anchor="end">10</text><line x1="98.70" y1="729.30" x2="110.80" y2="729.30" stroke="#000" stroke-width="2.75"/><text x="87.60" y="742.30" font-size="35.00" text-anchor="end">20</text><line x1="98.70" y1="779.40" x2="110.80" y2="779.40" stroke="#000" stroke-width="2.75"/><text x="87.60" y="792.40" font-size="35.00" text-anchor="end">30</text><line x1="110.80" y1="779.40" x2="110.80" y2="791.50" stroke="#000" stroke-width="2.75"/><line x1="181.97" y1="779.40" x2="181.97" y2="791.50" stroke="#000" stroke-width="2.75"/><line x1="253.14" y1="779.40" x2="253.14" y2="791.50" stroke="#000" stroke-width="2.75"/><line x1="324.31" y1="779.40" x2="324.31" y2="791.50" stroke="#000" stroke-width="2.75"/><line x1="395.48" y1="779.40" x2="395.48" y2="791.50" stroke="#000" stroke-width="2.75"/><line x1="466.65" y1="779.40" x2="466.65" y2="791.50" stroke="#000" stroke-width="2.75"/><line x1="537.82" y1="779.40" x2="537.82" y2="791.50" stroke="#000" stroke-width="2.75"/><line x1="608.99" y1="779.40" x2="608.99" y2="791.50" stroke="#000" stroke-width="2.75"/><line x1="680.16" y1="779.40" x2="680.16" y2="791.50" stroke="#000" stroke-width="2.75"/><line x1="751.33" y1="779.40" x2="751.33" y2="791.50" stroke="#000" stroke-width="2.75"/><line x1="822.50" y1="779.40" x2="822.50" y2="791.50" stroke="#000" stroke-width="2.75"/><rect x="110.80" y="634.10" width="711.70" height="145.30" fill="none" stroke="#000" stroke-width="2.75"/><text x="345.95" y="621.30" font-size="35.00" text-anchor="start">MPO</text><text x="429.70" y="621.30" font-size="35.00" text-anchor="start">(</text><text x="443.05" y="621.30" font-size="35.00" text-anchor="start"><tspan font-style="italic">D</tspan></text><text x="469.40" y="626.40" font-size="26.40" text-anchor="start"><tspan font-style="italic">s</tspan></text><text x="491.85" y="625.50" font-size="35.00" text-anchor="start">=</text><text x="521.50" y="621.30" font-size="35.00" text-anchor="start">400</text><text x="573.55" y="621.30" font-size="35.00" text-anchor="start">)</text><text x="117.30" y="660.15" font-size="27.50" text-anchor="start">(d)</text><text x="0.00" y="0.00" font-size="43.00" text-anchor="middle" transform="translate(30.6 706.75) rotate(-90)">Site</text><text x="110.80" y="828.30" font-size="35.00" text-anchor="middle">0</text><text x="181.97" y="828.30" font-size="35.00" text-anchor="middle">1</text><text x="253.14" y="828.30" font-size="35.00" text-anchor="middle">2</text><text x="324.31" y="828.30" font-size="35.00" text-anchor="middle">3</text><text x="395.48" y="828.30" font-size="35.00" text-anchor="middle">4</text><text x="466.65" y="828.30" font-size="35.00" text-anchor="middle">5</text><text x="537.82" y="828.30" font-size="35.00" text-anchor="middle">6</text><text x="608.99" y="828.30" font-size="35.00" text-anchor="middle">7</text><text x="680.16" y="828.30" font-size="35.00" text-anchor="middle">8</text><text x="751.33" y="828.30" font-size="35.00" text-anchor="middle">9</text><text x="822.50" y="828.30" font-size="35.00" text-anchor="middle">10</text><text x="384.60" y="876.70" font-size="41.60" text-anchor="start">Time</text><text x="482.40" y="876.70" font-size="41.60" text-anchor="start">(</text><text x="497.70" y="876.70" font-size="41.60" text-anchor="start"><tspan font-style="italic">J</tspan></text><text x="519.50" y="876.70" font-size="41.60" text-anchor="start"><tspan font-style="italic">t</tspan></text><text x="534.40" y="876.70" font-size="41.60" text-anchor="start">)</text><rect x="841.40" y="45.80" width="35.30" height="733.60" fill="url(#cb)"/><line x1="876.70" y1="45.80" x2="888.80" y2="45.80" stroke="#000" stroke-width="2.75"/><text x="899.80" y="56.80" font-size="31.80" text-anchor="start">1.00</text><line x1="876.70" y1="137.50" x2="888.80" y2="137.50" stroke="#000" stroke-width="2.75"/><text x="899.80" y="148.50" font-size="31.80" text-anchor="start">0.75</text><line x1="876.70" y1="229.20" x2="888.80" y2="229.20" stroke="#000" stroke-width="2.75"/><text x="899.80" y="240.20" font-size="31.80" text-anchor="start">0.50</text><line x1="876.70" y1="320.90" x2="888.80" y2="320.90" stroke="#000" stroke-width="2.75"/><text x="899.80" y="331.90" font-size="31.80" text-anchor="start">0.25</text><line x1="876.70" y1="412.60" x2="888.80" y2="412.60" stroke="#000" stroke-width="2.75"/><text x="899.80" y="423.60" font-size="31.80" text-anchor="start">0.00</text><line x1="876.70" y1="504.30" x2="888.80" y2="504.30" stroke="#000" stroke-width="2.75"/><text x="899.80" y="515.30" font-size="31.80" text-anchor="start">−0.25</text><line x1="876.70" y1="596.00" x2="888.80" y2="596.00" stroke="#000" stroke-width="2.75"/><text x="899.80" y="607.00" font-size="31.80" text-anchor="start">−0.50</text><line x1="876.70" y1="687.70" x2="888.80" y2="687.70" stroke="#000" stroke-width="2.75"/><text x="899.80" y="698.70" font-size="31.80" text-anchor="start">−0.75</text><line x1="876.70" y1="779.40" x2="888.80" y2="779.40" stroke="#000" stroke-width="2.75"/><text x="899.80" y="790.40" font-size="31.80" text-anchor="start">−1.00</text><rect x="841.40" y="45.80" width="35.30" height="733.60" fill="none" stroke="#000" stroke-width="2.75"/><text x="833.31" y="27.65" font-size="35.40" font-family="DejaVu Serif" style="stroke:none">⟨</text><text x="847.95" y="26.05" font-size="34.50" text-anchor="start"><tspan font-style="italic">Z</tspan></text><text x="868.77" y="27.65" font-size="35.40" font-family="DejaVu Serif" style="stroke:none">⟩</text><clipPath id="cpe"><rect x="1068.40" y="45.80" width="510.50" height="145.30"/></clipPath><g clip-path="url(#cpe)" fill="none" stroke-linejoin="round"><path d="M1068.4 45.8 1073.5 48.7 1078.6 51.9 1083.7 56.1 1088.8 62.8 1093.9 68.2 1099.0 66.7 1104.1 69.2 1109.2 71.6 1114.3 75.2 1119.5 71.6 1124.6 75.4 1129.7 78.5 1134.8 78.8 1139.9 83.1 1145.0 87.5 1150.1 90.3 1155.2 90.0 1160.3 91.2 1165.4 92.3 1170.5 93.7 1175.6 97.4 1180.7 97.5 1185.8 107.9 1190.9 105.6 1196.0 109.3 1201.1 109.2 1206.2 108.3 1211.3 106.5 1216.4 109.2 1221.6 117.1 1226.7 120.5 1231.8 126.2 1236.9 132.9 1242.0 132.3 1247.1 134.3 1252.2 139.0 1257.3 136.7 1262.4 136.8 1267.5 140.2 1272.6 139.8 1277.7 136.5 1282.8 130.9 1287.9 129.2 1293.0 125.9 1298.1 125.4 1303.2 131.3 1308.3 131.9 1313.4 133.4 1318.5 131.3 1323.7 128.3 1328.8 127.2 1333.9 123.5 1339.0 120.9 1344.1 125.9 1349.2 130.1 1354.3 131.5 1359.4 133.2 1364.5 134.9 1369.6 136.5 1374.7 135.2 1379.8 138.7 1384.9 137.7 1390.0 138.9 1395.1 140.6 1400.2 137.8 1405.3 137.4 1410.4 137.6 1415.5 134.7 1420.6 135.7 1425.8 137.2 1430.9 136.0 1436.0 135.9 1441.1 136.8 1446.2 138.6 1451.3 139.8 1456.4 140.2 1461.5 141.6 1466.6 141.0 1471.7 140.9 1476.8 139.2 1481.9 137.4 1487.0 138.4 1492.1 138.8 1497.2 137.4 1502.3 139.3 1507.4 140.4 1512.5 140.3 1517.6 141.7 1522.7 145.3 1527.9 149.6 1533.0 147.9 1538.1 148.9 1543.2 144.4 1548.3 144.7 1553.4 145.3 1558.5 145.4 1563.6 147.0 1568.7 146.2 1573.8 147.1 1578.9 145.4" stroke="#e07580" stroke-width="5.20" stroke-linecap="square"/><path d="M1068.4 45.8 1073.5 46.8 1078.6 48.1 1083.7 49.3 1088.8 51.5 1093.9 52.0 1099.0 51.6 1104.1 54.3 1109.2 57.5 1114.3 56.6 1119.5 59.8 1124.6 61.3 1129.7 66.5 1134.8 69.8 1139.9 72.7 1145.0 71.8 1150.1 72.5 1155.2 77.6 1160.3 79.2 1165.4 79.9 1170.5 84.3 1175.6 86.0 1180.7 86.8 1185.8 87.0 1190.9 87.4 1196.0 89.7 1201.1 89.8 1206.2 91.1 1211.3 90.5 1216.4 93.5 1221.6 93.4 1226.7 91.9 1231.8 95.5 1236.9 96.7 1242.0 99.0 1247.1 100.5 1252.2 103.3 1257.3 105.4 1262.4 108.5 1267.5 109.7 1272.6 110.3 1277.7 111.8 1282.8 115.4 1287.9 117.6 1293.0 118.7 1298.1 119.9 1303.2 122.0 1308.3 124.6 1313.4 123.6 1318.5 124.1 1323.7 124.0 1328.8 125.2 1333.9 127.0 1339.0 127.5 1344.1 125.3 1349.2 128.8 1354.3 130.3 1359.4 132.3 1364.5 134.8 1369.6 133.2 1374.7 132.7 1379.8 132.1 1384.9 132.1 1390.0 132.5 1395.1 140.2 1400.2 150.4 1405.3 147.6 1410.4 145.0 1415.5 140.9 1420.6 137.9 1425.8 134.7 1430.9 134.5 1436.0 137.8 1441.1 141.8 1446.2 144.7 1451.3 146.8 1456.4 145.5 1461.5 145.5 1466.6 144.9 1471.7 145.6 1476.8 145.4 1481.9 148.5 1487.0 147.6 1492.1 150.5 1497.2 152.3 1502.3 153.8 1507.4 157.2 1512.5 158.2 1517.6 157.2 1522.7 155.9 1527.9 153.9 1533.0 149.1 1538.1 147.5 1543.2 146.3 1548.3 147.3 1553.4 151.0 1558.5 149.9 1563.6 155.3 1568.7 154.6 1573.8 155.4 1578.9 157.7" stroke="#ff1a0d" stroke-width="5.20" stroke-linecap="square"/><path d="M1068.4 45.8 1073.5 48.0 1078.6 50.2 1083.7 53.4 1088.8 51.7 1093.9 50.5 1099.0 49.3 1104.1 50.4 1109.2 52.4 1114.3 57.3 1119.5 55.4 1124.6 57.6 1129.7 61.2 1134.8 69.2 1139.9 72.4 1145.0 73.3 1150.1 73.9 1155.2 75.9 1160.3 77.6 1165.4 79.1 1170.5 85.7 1175.6 88.1 1180.7 86.7 1185.8 88.2 1190.9 89.8 1196.0 90.0 1201.1 90.8 1206.2 90.0 1211.3 89.8 1216.4 88.8 1221.6 90.1 1226.7 93.6 1231.8 95.2 1236.9 95.8 1242.0 98.5 1247.1 103.3 1252.2 106.5 1257.3 106.8 1262.4 108.2 1267.5 107.8 1272.6 106.9 1277.7 108.5 1282.8 110.4 1287.9 115.9 1293.0 118.8 1298.1 121.5 1303.2 122.9 1308.3 123.5 1313.4 126.7 1318.5 129.7 1323.7 129.2 1328.8 131.7 1333.9 135.0 1339.0 138.3 1344.1 140.8 1349.2 144.0 1354.3 142.6 1359.4 143.1 1364.5 145.5 1369.6 142.6 1374.7 142.5 1379.8 140.7 1384.9 142.8 1390.0 143.4 1395.1 144.1 1400.2 146.1 1405.3 145.1 1410.4 146.3 1415.5 146.2 1420.6 147.4 1425.8 145.9 1430.9 146.6 1436.0 147.5 1441.1 146.9 1446.2 147.8 1451.3 148.4 1456.4 151.7 1461.5 149.3 1466.6 149.7 1471.7 150.8 1476.8 152.4 1481.9 150.8 1487.0 154.0 1492.1 152.9 1497.2 154.1 1502.3 159.5 1507.4 160.8 1512.5 164.0 1517.6 163.4 1522.7 163.2 1527.9 163.7 1533.0 168.5 1538.1 168.3 1543.2 168.1 1548.3 166.6 1553.4 164.7 1558.5 164.4 1563.6 162.8 1568.7 162.4 1573.8 165.0 1578.9 166.6" stroke="#8b0f0a" stroke-width="5.20" stroke-linecap="square"/><path d="M1068.4 45.8 1073.5 48.3 1078.6 50.8 1083.7 53.2 1088.8 55.6 1093.9 58.0 1099.0 60.3 1104.1 62.6 1109.2 64.8 1114.3 67.0 1119.5 69.2 1124.6 71.3 1129.7 73.4 1134.8 75.5 1139.9 77.5 1145.0 79.6 1150.1 81.6 1155.2 83.5 1160.3 85.5 1165.4 87.4 1170.5 89.3 1175.6 91.2 1180.7 93.0 1185.8 94.9 1190.9 96.7 1196.0 98.5 1201.1 100.3 1206.2 102.0 1211.3 103.7 1216.4 105.3 1221.6 106.8 1226.7 108.2 1231.8 109.7 1236.9 111.0 1242.0 112.4 1247.1 113.7 1252.2 115.0 1257.3 116.3 1262.4 117.6 1267.5 118.9 1272.6 120.2 1277.7 121.6 1282.8 123.0 1287.9 124.3 1293.0 125.7 1298.1 127.1 1303.2 128.5 1308.3 129.8 1313.4 131.2 1318.5 132.6 1323.7 133.9 1328.8 135.2 1333.9 136.5 1339.0 137.8 1344.1 139.0 1349.2 140.2 1354.3 141.4 1359.4 142.5 1364.5 143.6 1369.6 144.6 1374.7 145.6 1379.8 146.6 1384.9 147.6 1390.0 148.5 1395.1 149.4 1400.2 150.3 1405.3 151.2 1410.4 152.0 1415.5 152.9 1420.6 153.7 1425.8 154.6 1430.9 155.4 1436.0 156.2 1441.1 157.0 1446.2 157.8 1451.3 158.5 1456.4 159.2 1461.5 159.9 1466.6 160.5 1471.7 161.1 1476.8 161.7 1481.9 162.3 1487.0 162.8 1492.1 163.3 1497.2 163.8 1502.3 164.3 1507.4 164.8 1512.5 165.2 1517.6 165.7 1522.7 166.1 1527.9 166.6 1533.0 167.2 1538.1 167.7 1543.2 168.2 1548.3 168.7 1553.4 169.2 1558.5 169.6 1563.6 169.9 1568.7 170.1 1573.8 170.3 1578.9 170.3" stroke="#000" stroke-width="5.20" stroke-dasharray="19.3 8.3" stroke-linecap="butt"/></g><line x1="1056.30" y1="45.80" x2="1068.40" y2="45.80" stroke="#000" stroke-width="2.75"/><text x="1044.70" y="59.20" font-size="35.00" text-anchor="end">1</text><line x1="1056.30" y1="111.85" x2="1068.40" y2="111.85" stroke="#000" stroke-width="2.75"/><text x="1044.70" y="125.25" font-size="35.00" text-anchor="end">0.5</text><line x1="1056.30" y1="177.89" x2="1068.40" y2="177.89" stroke="#000" stroke-width="2.75"/><text x="1044.70" y="191.29" font-size="35.00" text-anchor="end">0</text><rect x="1068.40" y="45.80" width="510.50" height="145.30" fill="none" stroke="#000" stroke-width="2.75"/><text x="1279.30" y="34.60" font-size="35.00" font-family="DejaVu Serif" style="stroke:none">⟨</text><text x="1294.11" y="32.40" font-size="34.50" text-anchor="start"><tspan font-style="italic">Z</tspan></text><text x="1318.24" y="21.40" font-size="25.80" text-anchor="start">[1]</text><text x="1353.55" y="34.60" font-size="35.00" font-family="DejaVu Serif" style="stroke:none">⟩</text><text x="1574.20" y="71.85" font-size="27.50" text-anchor="end">(e)</text><clipPath id="cpf"><rect x="1068.40" y="241.90" width="510.50" height="145.30"/></clipPath><g clip-path="url(#cpf)" fill="none" stroke-linejoin="round"><path d="M1068.4 241.9 1073.5 245.7 1078.6 248.5 1083.7 251.6 1088.8 255.6 1093.9 258.2 1099.0 262.9 1104.1 265.8 1109.2 264.4 1114.3 264.2 1119.5 262.6 1124.6 266.3 1129.7 266.7 1134.8 272.0 1139.9 274.1 1145.0 277.0 1150.1 276.8 1155.2 277.8 1160.3 279.7 1165.4 281.5 1170.5 284.2 1175.6 283.6 1180.7 283.6 1185.8 284.9 1190.9 284.1 1196.0 286.2 1201.1 287.6 1206.2 288.3 1211.3 291.4 1216.4 293.6 1221.6 295.7 1226.7 296.6 1231.8 299.0 1236.9 301.1 1242.0 303.5 1247.1 308.7 1252.2 310.7 1257.3 308.5 1262.4 308.2 1267.5 305.6 1272.6 302.7 1277.7 301.6 1282.8 304.2 1287.9 308.7 1293.0 310.7 1298.1 311.2 1303.2 314.4 1308.3 314.4 1313.4 313.4 1318.5 315.0 1323.7 315.3 1328.8 314.7 1333.9 314.1 1339.0 315.3 1344.1 317.7 1349.2 319.3 1354.3 323.3 1359.4 322.8 1364.5 322.1 1369.6 323.4 1374.7 324.4 1379.8 325.0 1384.9 325.5 1390.0 325.6 1395.1 327.6 1400.2 327.4 1405.3 328.0 1410.4 332.1 1415.5 332.7 1420.6 334.4 1425.8 336.5 1430.9 336.3 1436.0 337.7 1441.1 336.6 1446.2 341.4 1451.3 341.8 1456.4 343.1 1461.5 344.4 1466.6 340.4 1471.7 340.6 1476.8 344.5 1481.9 344.3 1487.0 349.0 1492.1 349.5 1497.2 353.9 1502.3 354.4 1507.4 358.8 1512.5 361.9 1517.6 360.3 1522.7 357.0 1527.9 358.4 1533.0 355.8 1538.1 356.5 1543.2 357.0 1548.3 355.8 1553.4 354.3 1558.5 356.6 1563.6 354.4 1568.7 353.8 1573.8 354.9 1578.9 351.6" stroke="#e07580" stroke-width="5.20" stroke-linecap="square"/><path d="M1068.4 241.9 1073.5 243.2 1078.6 244.7 1083.7 245.1 1088.8 247.5 1093.9 249.8 1099.0 249.7 1104.1 252.1 1109.2 253.7 1114.3 255.7 1119.5 257.1 1124.6 258.0 1129.7 258.5 1134.8 259.2 1139.9 265.6 1145.0 270.3 1150.1 269.9 1155.2 272.2 1160.3 271.7 1165.4 274.2 1170.5 277.6 1175.6 279.7 1180.7 283.3 1185.8 288.2 1190.9 289.2 1196.0 287.4 1201.1 290.2 1206.2 286.2 1211.3 288.8 1216.4 289.7 1221.6 290.8 1226.7 296.0 1231.8 297.2 1236.9 301.9 1242.0 307.1 1247.1 308.3 1252.2 310.0 1257.3 309.4 1262.4 308.6 1267.5 311.8 1272.6 311.9 1277.7 313.6 1282.8 315.0 1287.9 316.7 1293.0 316.7 1298.1 315.1 1303.2 312.1 1308.3 311.1 1313.4 310.7 1318.5 312.8 1323.7 315.6 1328.8 320.1 1333.9 322.5 1339.0 323.7 1344.1 327.4 1349.2 326.3 1354.3 328.3 1359.4 328.5 1364.5 331.1 1369.6 328.7 1374.7 328.5 1379.8 331.6 1384.9 329.1 1390.0 329.3 1395.1 333.4 1400.2 333.8 1405.3 333.9 1410.4 336.0 1415.5 333.3 1420.6 332.7 1425.8 333.8 1430.9 334.2 1436.0 333.5 1441.1 336.0 1446.2 334.6 1451.3 334.1 1456.4 337.9 1461.5 336.2 1466.6 337.0 1471.7 338.2 1476.8 336.1 1481.9 339.8 1487.0 341.3 1492.1 345.6 1497.2 344.5 1502.3 346.6 1507.4 345.8 1512.5 347.1 1517.6 347.2 1522.7 346.1 1527.9 347.6 1533.0 348.7 1538.1 350.0 1543.2 347.9 1548.3 348.5 1553.4 349.8 1558.5 349.4 1563.6 351.5 1568.7 352.4 1573.8 355.9 1578.9 356.3" stroke="#ff1a0d" stroke-width="5.20" stroke-linecap="square"/><path d="M1068.4 241.9 1073.5 245.2 1078.6 247.4 1083.7 251.2 1088.8 255.4 1093.9 261.5 1099.0 261.5 1104.1 260.6 1109.2 261.8 1114.3 260.6 1119.5 262.9 1124.6 262.1 1129.7 259.3 1134.8 266.8 1139.9 270.2 1145.0 269.5 1150.1 269.7 1155.2 269.1 1160.3 270.3 1165.4 274.8 1170.5 276.9 1175.6 276.7 1180.7 280.3 1185.8 284.3 1190.9 280.4 1196.0 279.8 1201.1 283.2 1206.2 289.4 1211.3 290.6 1216.4 292.6 1221.6 293.6 1226.7 295.5 1231.8 298.5 1236.9 300.9 1242.0 302.8 1247.1 305.0 1252.2 306.5 1257.3 305.5 1262.4 308.3 1267.5 310.4 1272.6 312.4 1277.7 312.9 1282.8 313.7 1287.9 316.5 1293.0 312.3 1298.1 312.2 1303.2 312.5 1308.3 312.4 1313.4 315.2 1318.5 317.5 1323.7 322.5 1328.8 322.8 1333.9 325.5 1339.0 328.0 1344.1 328.7 1349.2 327.7 1354.3 329.1 1359.4 331.7 1364.5 330.5 1369.6 332.5 1374.7 332.6 1379.8 334.5 1384.9 334.9 1390.0 337.7 1395.1 338.0 1400.2 341.0 1405.3 340.3 1410.4 340.0 1415.5 340.3 1420.6 340.5 1425.8 342.6 1430.9 343.6 1436.0 345.7 1441.1 347.5 1446.2 348.4 1451.3 349.6 1456.4 355.1 1461.5 355.4 1466.6 355.5 1471.7 355.9 1476.8 355.6 1481.9 353.9 1487.0 353.0 1492.1 351.9 1497.2 351.8 1502.3 348.6 1507.4 348.5 1512.5 347.3 1517.6 351.8 1522.7 349.5 1527.9 351.0 1533.0 352.2 1538.1 355.7 1543.2 356.3 1548.3 355.1 1553.4 356.3 1558.5 358.0 1563.6 360.6 1568.7 361.0 1573.8 359.0 1578.9 359.5" stroke="#8b0f0a" stroke-width="5.20" stroke-linecap="square"/><path d="M1068.4 241.9 1073.5 244.7 1078.6 247.4 1083.7 250.0 1088.8 252.4 1093.9 254.8 1099.0 256.9 1104.1 259.0 1109.2 260.9 1114.3 262.8 1119.5 264.8 1124.6 267.0 1129.7 269.3 1134.8 271.6 1139.9 273.9 1145.0 276.1 1150.1 278.1 1155.2 280.1 1160.3 282.1 1165.4 283.9 1170.5 285.8 1175.6 287.7 1180.7 289.5 1185.8 291.4 1190.9 293.4 1196.0 295.3 1201.1 297.2 1206.2 299.0 1211.3 300.7 1216.4 302.2 1221.6 303.8 1226.7 305.2 1231.8 306.7 1236.9 308.2 1242.0 309.8 1247.1 311.3 1252.2 312.8 1257.3 314.4 1262.4 315.9 1267.5 317.4 1272.6 319.0 1277.7 320.6 1282.8 322.1 1287.9 323.5 1293.0 325.0 1298.1 326.4 1303.2 327.8 1308.3 329.2 1313.4 330.4 1318.5 331.4 1323.7 332.5 1328.8 333.4 1333.9 334.3 1339.0 335.2 1344.1 336.1 1349.2 336.9 1354.3 337.8 1359.4 338.6 1364.5 339.5 1369.6 340.4 1374.7 341.3 1379.8 342.2 1384.9 343.0 1390.0 343.9 1395.1 344.8 1400.2 345.6 1405.3 346.4 1410.4 347.2 1415.5 348.0 1420.6 348.7 1425.8 349.5 1430.9 350.2 1436.0 350.9 1441.1 351.6 1446.2 352.3 1451.3 352.9 1456.4 353.6 1461.5 354.2 1466.6 354.8 1471.7 355.4 1476.8 356.0 1481.9 356.5 1487.0 357.1 1492.1 357.6 1497.2 358.1 1502.3 358.6 1507.4 359.1 1512.5 359.5 1517.6 360.0 1522.7 360.4 1527.9 360.8 1533.0 361.2 1538.1 361.6 1543.2 362.1 1548.3 362.5 1553.4 362.8 1558.5 363.1 1563.6 363.4 1568.7 363.5 1573.8 363.6 1578.9 363.6" stroke="#000" stroke-width="5.20" stroke-dasharray="19.3 8.3" stroke-linecap="butt"/></g><line x1="1056.30" y1="241.90" x2="1068.40" y2="241.90" stroke="#000" stroke-width="2.75"/><text x="1044.70" y="255.30" font-size="35.00" text-anchor="end">1</text><line x1="1056.30" y1="307.95" x2="1068.40" y2="307.95" stroke="#000" stroke-width="2.75"/><text x="1044.70" y="321.35" font-size="35.00" text-anchor="end">0.5</text><line x1="1056.30" y1="373.99" x2="1068.40" y2="373.99" stroke="#000" stroke-width="2.75"/><text x="1044.70" y="387.39" font-size="35.00" text-anchor="end">0</text><rect x="1068.40" y="241.90" width="510.50" height="145.30" fill="none" stroke="#000" stroke-width="2.75"/><text x="1279.30" y="230.70" font-size="35.00" font-family="DejaVu Serif" style="stroke:none">⟨</text><text x="1294.11" y="228.50" font-size="34.50" text-anchor="start"><tspan font-style="italic">Z</tspan></text><text x="1318.24" y="217.50" font-size="25.80" text-anchor="start">[5]</text><text x="1353.55" y="230.70" font-size="35.00" font-family="DejaVu Serif" style="stroke:none">⟩</text><text x="1574.20" y="267.95" font-size="27.50" text-anchor="end">(f)</text><clipPath id="cpg"><rect x="1068.40" y="438.00" width="510.50" height="145.30"/></clipPath><g clip-path="url(#cpg)" fill="none" stroke-linejoin="round"><path d="M1068.4 438.0 1073.5 442.7 1078.6 446.6 1083.7 447.3 1088.8 448.7 1093.9 450.7 1099.0 461.2 1104.1 453.9 1109.2 453.7 1114.3 453.3 1119.5 456.2 1124.6 458.9 1129.7 459.7 1134.8 461.4 1139.9 468.3 1145.0 477.1 1150.1 487.8 1155.2 501.4 1160.3 501.5 1165.4 502.1 1170.5 497.5 1175.6 493.6 1180.7 491.1 1185.8 488.3 1190.9 489.4 1196.0 491.1 1201.1 495.3 1206.2 499.5 1211.3 502.0 1216.4 500.9 1221.6 504.2 1226.7 504.4 1231.8 502.9 1236.9 503.6 1242.0 500.8 1247.1 498.5 1252.2 496.8 1257.3 499.6 1262.4 501.4 1267.5 505.0 1272.6 509.6 1277.7 510.6 1282.8 511.7 1287.9 511.8 1293.0 509.1 1298.1 511.8 1303.2 512.2 1308.3 517.3 1313.4 515.5 1318.5 511.6 1323.7 513.1 1328.8 511.1 1333.9 510.7 1339.0 509.7 1344.1 510.0 1349.2 510.6 1354.3 510.9 1359.4 514.1 1364.5 517.3 1369.6 525.3 1374.7 525.1 1379.8 526.7 1384.9 527.2 1390.0 528.1 1395.1 526.5 1400.2 531.6 1405.3 533.0 1410.4 535.3 1415.5 536.3 1420.6 537.5 1425.8 539.2 1430.9 541.2 1436.0 546.2 1441.1 544.9 1446.2 545.1 1451.3 542.1 1456.4 541.0 1461.5 538.2 1466.6 534.8 1471.7 533.7 1476.8 535.4 1481.9 536.8 1487.0 538.7 1492.1 543.9 1497.2 547.4 1502.3 547.7 1507.4 549.1 1512.5 549.2 1517.6 549.8 1522.7 554.6 1527.9 552.1 1533.0 554.3 1538.1 556.1 1543.2 556.3 1548.3 554.1 1553.4 556.1 1558.5 555.9 1563.6 554.4 1568.7 554.9 1573.8 554.9 1578.9 556.2" stroke="#e07580" stroke-width="5.20" stroke-linecap="square"/><path d="M1068.4 438.0 1073.5 439.4 1078.6 441.4 1083.7 444.6 1088.8 446.9 1093.9 449.5 1099.0 449.2 1104.1 452.2 1109.2 453.1 1114.3 451.6 1119.5 455.3 1124.6 456.5 1129.7 459.9 1134.8 464.6 1139.9 469.2 1145.0 471.0 1150.1 474.5 1155.2 478.0 1160.3 481.6 1165.4 482.2 1170.5 483.7 1175.6 487.5 1180.7 485.8 1185.8 487.8 1190.9 492.3 1196.0 496.0 1201.1 497.7 1206.2 502.5 1211.3 508.2 1216.4 508.4 1221.6 510.7 1226.7 512.6 1231.8 513.5 1236.9 514.9 1242.0 513.1 1247.1 514.4 1252.2 512.9 1257.3 513.3 1262.4 513.6 1267.5 512.4 1272.6 514.1 1277.7 517.4 1282.8 520.0 1287.9 521.8 1293.0 522.7 1298.1 525.8 1303.2 528.0 1308.3 529.2 1313.4 528.8 1318.5 528.0 1323.7 533.8 1328.8 533.7 1333.9 536.6 1339.0 536.3 1344.1 533.9 1349.2 538.3 1354.3 542.1 1359.4 542.2 1364.5 542.6 1369.6 540.4 1374.7 539.4 1379.8 541.7 1384.9 539.7 1390.0 542.6 1395.1 543.3 1400.2 543.1 1405.3 544.6 1410.4 544.7 1415.5 546.9 1420.6 548.0 1425.8 549.3 1430.9 548.9 1436.0 549.1 1441.1 549.7 1446.2 548.7 1451.3 550.4 1456.4 552.5 1461.5 548.8 1466.6 552.8 1471.7 553.7 1476.8 550.0 1481.9 548.8 1487.0 550.9 1492.1 552.7 1497.2 553.8 1502.3 553.2 1507.4 554.7 1512.5 555.2 1517.6 554.4 1522.7 554.1 1527.9 558.2 1533.0 558.8 1538.1 559.9 1543.2 556.1 1548.3 556.2 1553.4 556.6 1558.5 556.6 1563.6 554.8 1568.7 556.5 1573.8 555.3 1578.9 557.5" stroke="#ff1a0d" stroke-width="5.20" stroke-linecap="square"/><path d="M1068.4 438.0 1073.5 441.1 1078.6 442.4 1083.7 446.3 1088.8 449.4 1093.9 450.8 1099.0 455.2 1104.1 458.1 1109.2 459.8 1114.3 462.9 1119.5 464.8 1124.6 466.0 1129.7 465.1 1134.8 465.7 1139.9 471.3 1145.0 473.8 1150.1 479.0 1155.2 482.6 1160.3 488.2 1165.4 488.3 1170.5 493.5 1175.6 495.0 1180.7 493.8 1185.8 491.2 1190.9 495.5 1196.0 496.0 1201.1 498.0 1206.2 499.1 1211.3 501.0 1216.4 503.8 1221.6 504.7 1226.7 506.8 1231.8 507.5 1236.9 509.4 1242.0 511.0 1247.1 515.1 1252.2 515.3 1257.3 511.7 1262.4 517.0 1267.5 518.7 1272.6 520.1 1277.7 526.2 1282.8 526.6 1287.9 526.3 1293.0 525.5 1298.1 524.2 1303.2 529.3 1308.3 531.6 1313.4 536.1 1318.5 537.0 1323.7 535.2 1328.8 530.2 1333.9 529.2 1339.0 529.3 1344.1 527.9 1349.2 532.0 1354.3 533.4 1359.4 537.2 1364.5 543.4 1369.6 545.5 1374.7 544.4 1379.8 547.1 1384.9 545.7 1390.0 547.7 1395.1 545.9 1400.2 547.3 1405.3 548.6 1410.4 549.4 1415.5 548.5 1420.6 550.9 1425.8 549.2 1430.9 548.8 1436.0 547.3 1441.1 548.7 1446.2 548.2 1451.3 552.7 1456.4 555.4 1461.5 554.1 1466.6 555.1 1471.7 556.6 1476.8 556.5 1481.9 554.8 1487.0 554.6 1492.1 553.0 1497.2 551.1 1502.3 552.3 1507.4 553.0 1512.5 554.5 1517.6 556.3 1522.7 555.8 1527.9 556.1 1533.0 563.0 1538.1 560.3 1543.2 556.2 1548.3 559.8 1553.4 562.0 1558.5 559.2 1563.6 559.7 1568.7 560.7 1573.8 559.0 1578.9 560.5" stroke="#8b0f0a" stroke-width="5.20" stroke-linecap="square"/><path d="M1068.4 438.0 1073.5 440.7 1078.6 443.3 1083.7 445.8 1088.8 448.3 1093.9 450.7 1099.0 453.0 1104.1 455.2 1109.2 457.2 1114.3 459.4 1119.5 461.7 1124.6 464.3 1129.7 467.2 1134.8 470.3 1139.9 473.5 1145.0 476.7 1150.1 480.1 1155.2 483.8 1160.3 487.3 1165.4 489.8 1170.5 491.2 1175.6 492.2 1180.7 493.5 1185.8 495.6 1190.9 499.1 1196.0 502.8 1201.1 506.1 1206.2 508.8 1211.3 511.4 1216.4 513.7 1221.6 515.7 1226.7 517.5 1231.8 519.2 1236.9 520.8 1242.0 522.4 1247.1 524.0 1252.2 525.6 1257.3 527.2 1262.4 528.7 1267.5 530.1 1272.6 531.5 1277.7 532.7 1282.8 534.0 1287.9 535.1 1293.0 536.2 1298.1 537.3 1303.2 538.3 1308.3 539.3 1313.4 540.2 1318.5 541.1 1323.7 542.0 1328.8 542.9 1333.9 543.8 1339.0 544.6 1344.1 545.4 1349.2 546.2 1354.3 547.0 1359.4 547.8 1364.5 548.6 1369.6 549.3 1374.7 550.1 1379.8 550.8 1384.9 551.6 1390.0 552.3 1395.1 553.0 1400.2 553.6 1405.3 554.2 1410.4 554.8 1415.5 555.3 1420.6 555.8 1425.8 556.2 1430.9 556.7 1436.0 557.1 1441.1 557.5 1446.2 557.8 1451.3 558.2 1456.4 558.6 1461.5 558.9 1466.6 559.2 1471.7 559.6 1476.8 559.9 1481.9 560.2 1487.0 560.5 1492.1 560.8 1497.2 561.1 1502.3 561.4 1507.4 561.7 1512.5 561.9 1517.6 562.2 1522.7 562.4 1527.9 562.6 1533.0 562.8 1538.1 563.0 1543.2 563.2 1548.3 563.4 1553.4 563.6 1558.5 563.8 1563.6 563.9 1568.7 564.0 1573.8 564.0 1578.9 564.0" stroke="#000" stroke-width="5.20" stroke-dasharray="19.3 8.3" stroke-linecap="butt"/></g><line x1="1056.30" y1="438.00" x2="1068.40" y2="438.00" stroke="#000" stroke-width="2.75"/><text x="1044.70" y="451.40" font-size="35.00" text-anchor="end">1</text><line x1="1056.30" y1="504.05" x2="1068.40" y2="504.05" stroke="#000" stroke-width="2.75"/><text x="1044.70" y="517.45" font-size="35.00" text-anchor="end">0.5</text><line x1="1056.30" y1="570.09" x2="1068.40" y2="570.09" stroke="#000" stroke-width="2.75"/><text x="1044.70" y="583.49" font-size="35.00" text-anchor="end">0</text><rect x="1068.40" y="438.00" width="510.50" height="145.30" fill="none" stroke="#000" stroke-width="2.75"/><text x="1272.90" y="426.80" font-size="35.00" font-family="DejaVu Serif" style="stroke:none">⟨</text><text x="1287.71" y="424.60" font-size="34.50" text-anchor="start"><tspan font-style="italic">Z</tspan></text><text x="1311.44" y="413.60" font-size="25.80" text-anchor="start">[10]</text><text x="1359.55" y="426.80" font-size="35.00" font-family="DejaVu Serif" style="stroke:none">⟩</text><text x="1574.20" y="464.05" font-size="27.50" text-anchor="end">(g)</text><clipPath id="cph"><rect x="1068.40" y="634.10" width="510.50" height="145.30"/></clipPath><g clip-path="url(#cph)" fill="none" stroke-linejoin="round"><path d="M1068.4 634.1 1073.5 644.8 1078.6 667.7 1083.7 696.6 1088.8 719.7 1093.9 727.0 1099.0 727.2 1104.1 725.4 1109.2 722.7 1114.3 724.9 1119.5 727.6 1124.6 734.1 1129.7 739.8 1134.8 743.3 1139.9 739.4 1145.0 735.1 1150.1 734.8 1155.2 737.0 1160.3 735.0 1165.4 735.2 1170.5 735.1 1175.6 736.4 1180.7 735.4 1185.8 735.4 1190.9 733.3 1196.0 733.6 1201.1 737.2 1206.2 738.0 1211.3 742.8 1216.4 746.9 1221.6 748.3 1226.7 751.0 1231.8 754.5 1236.9 756.3 1242.0 758.0 1247.1 758.0 1252.2 758.7 1257.3 757.7 1262.4 760.2 1267.5 758.8 1272.6 760.5 1277.7 759.6 1282.8 760.2 1287.9 762.9 1293.0 766.9 1298.1 770.4 1303.2 767.6 1308.3 769.0 1313.4 764.5 1318.5 764.3 1323.7 760.7 1328.8 757.6 1333.9 751.0 1339.0 748.6 1344.1 746.8 1349.2 749.1 1354.3 750.3 1359.4 752.9 1364.5 756.7 1369.6 757.2 1374.7 760.0 1379.8 756.6 1384.9 756.0 1390.0 751.8 1395.1 752.8 1400.2 750.8 1405.3 754.3 1410.4 757.9 1415.5 758.9 1420.6 759.5 1425.8 759.3 1430.9 758.4 1436.0 760.0 1441.1 760.4 1446.2 759.7 1451.3 755.2 1456.4 752.9 1461.5 752.9 1466.6 752.8 1471.7 752.8 1476.8 752.9 1481.9 753.2 1487.0 753.3 1492.1 758.1 1497.2 759.0 1502.3 765.0 1507.4 767.8 1512.5 768.5 1517.6 768.2 1522.7 766.5 1527.9 762.3 1533.0 757.4 1538.1 757.0 1543.2 752.6 1548.3 758.0 1553.4 760.7 1558.5 763.5 1563.6 767.1 1568.7 769.3 1573.8 767.8 1578.9 767.6" stroke="#e07580" stroke-width="5.20" stroke-linecap="square"/><path d="M1068.4 634.1 1073.5 644.2 1078.6 667.4 1083.7 698.4 1088.8 723.0 1093.9 735.0 1099.0 732.1 1104.1 726.0 1109.2 722.6 1114.3 727.7 1119.5 736.1 1124.6 746.1 1129.7 752.7 1134.8 757.4 1139.9 750.4 1145.0 744.5 1150.1 742.6 1155.2 743.8 1160.3 745.2 1165.4 749.2 1170.5 750.9 1175.6 748.5 1180.7 747.1 1185.8 745.9 1190.9 746.5 1196.0 752.4 1201.1 757.2 1206.2 758.3 1211.3 757.0 1216.4 754.0 1221.6 752.9 1226.7 748.5 1231.8 750.0 1236.9 751.2 1242.0 752.6 1247.1 753.5 1252.2 753.3 1257.3 754.2 1262.4 754.3 1267.5 754.1 1272.6 752.0 1277.7 751.5 1282.8 752.5 1287.9 750.1 1293.0 751.1 1298.1 750.1 1303.2 751.4 1308.3 752.1 1313.4 752.9 1318.5 754.3 1323.7 755.9 1328.8 758.3 1333.9 755.9 1339.0 760.2 1344.1 759.8 1349.2 759.5 1354.3 760.4 1359.4 759.4 1364.5 758.3 1369.6 757.0 1374.7 759.3 1379.8 757.9 1384.9 763.4 1390.0 763.7 1395.1 765.8 1400.2 763.0 1405.3 759.0 1410.4 758.0 1415.5 760.4 1420.6 760.6 1425.8 759.2 1430.9 759.1 1436.0 757.5 1441.1 758.1 1446.2 759.9 1451.3 761.5 1456.4 761.9 1461.5 762.9 1466.6 764.4 1471.7 763.3 1476.8 763.5 1481.9 762.0 1487.0 761.3 1492.1 759.2 1497.2 760.2 1502.3 759.9 1507.4 761.2 1512.5 761.4 1517.6 760.4 1522.7 760.3 1527.9 761.9 1533.0 762.8 1538.1 762.2 1543.2 760.6 1548.3 762.1 1553.4 761.7 1558.5 762.2 1563.6 761.6 1568.7 764.0 1573.8 764.1 1578.9 763.7" stroke="#ff1a0d" stroke-width="5.20" stroke-linecap="square"/><path d="M1068.4 634.1 1073.5 644.4 1078.6 668.0 1083.7 695.4 1088.8 722.4 1093.9 730.9 1099.0 734.8 1104.1 729.8 1109.2 733.9 1114.3 739.1 1119.5 747.4 1124.6 753.1 1129.7 755.7 1134.8 754.5 1139.9 746.3 1145.0 743.9 1150.1 745.3 1155.2 747.1 1160.3 749.1 1165.4 751.8 1170.5 751.1 1175.6 748.7 1180.7 748.8 1185.8 749.3 1190.9 751.3 1196.0 753.0 1201.1 756.2 1206.2 760.6 1211.3 758.4 1216.4 756.2 1221.6 755.5 1226.7 752.8 1231.8 752.7 1236.9 753.1 1242.0 755.3 1247.1 756.5 1252.2 758.2 1257.3 757.1 1262.4 755.6 1267.5 757.9 1272.6 757.6 1277.7 757.7 1282.8 757.2 1287.9 757.9 1293.0 759.3 1298.1 761.4 1303.2 761.3 1308.3 762.9 1313.4 764.7 1318.5 764.4 1323.7 766.5 1328.8 768.5 1333.9 766.2 1339.0 767.3 1344.1 766.2 1349.2 767.9 1354.3 766.2 1359.4 767.9 1364.5 768.7 1369.6 770.4 1374.7 766.6 1379.8 768.9 1384.9 768.5 1390.0 768.1 1395.1 771.2 1400.2 772.5 1405.3 774.8 1410.4 772.1 1415.5 771.5 1420.6 768.6 1425.8 767.5 1430.9 768.5 1436.0 768.5 1441.1 767.1 1446.2 767.2 1451.3 769.5 1456.4 770.7 1461.5 772.0 1466.6 771.6 1471.7 770.3 1476.8 771.1 1481.9 771.4 1487.0 769.2 1492.1 768.4 1497.2 768.7 1502.3 767.9 1507.4 766.4 1512.5 766.2 1517.6 766.8 1522.7 765.0 1527.9 768.0 1533.0 767.7 1538.1 768.9 1543.2 768.2 1548.3 767.3 1553.4 767.3 1558.5 768.0 1563.6 767.5 1568.7 768.5 1573.8 771.2 1578.9 772.9" stroke="#8b0f0a" stroke-width="5.20" stroke-linecap="square"/><path d="M1068.4 634.1 1073.5 644.1 1078.6 667.0 1083.7 696.9 1088.8 722.0 1093.9 732.3 1099.0 733.0 1104.1 729.7 1109.2 731.4 1114.3 737.0 1119.5 745.1 1124.6 752.2 1129.7 755.5 1134.8 756.1 1139.9 750.9 1145.0 747.6 1150.1 747.9 1155.2 751.7 1160.3 755.2 1165.4 757.5 1170.5 758.2 1175.6 757.9 1180.7 757.2 1185.8 756.7 1190.9 756.6 1196.0 757.9 1201.1 759.4 1206.2 760.6 1211.3 760.8 1216.4 760.5 1221.6 760.2 1226.7 760.0 1231.8 760.2 1236.9 760.5 1242.0 761.0 1247.1 761.5 1252.2 761.7 1257.3 761.9 1262.4 762.0 1267.5 762.0 1272.6 762.1 1277.7 762.2 1282.8 762.4 1287.9 762.7 1293.0 763.0 1298.1 763.2 1303.2 763.4 1308.3 763.6 1313.4 763.7 1318.5 763.8 1323.7 763.9 1328.8 764.0 1333.9 764.0 1339.0 764.1 1344.1 764.2 1349.2 764.2 1354.3 764.3 1359.4 764.3 1364.5 764.4 1369.6 764.4 1374.7 764.5 1379.8 764.5 1384.9 764.5 1390.0 764.6 1395.1 764.6 1400.2 764.6 1405.3 764.7 1410.4 764.7 1415.5 764.7 1420.6 764.8 1425.8 764.8 1430.9 764.9 1436.0 764.9 1441.1 765.0 1446.2 765.1 1451.3 765.1 1456.4 765.2 1461.5 765.2 1466.6 765.2 1471.7 765.3 1476.8 765.3 1481.9 765.3 1487.0 765.3 1492.1 765.3 1497.2 765.3 1502.3 765.4 1507.4 765.4 1512.5 765.4 1517.6 765.4 1522.7 765.4 1527.9 765.5 1533.0 765.6 1538.1 765.6 1543.2 765.7 1548.3 765.8 1553.4 765.9 1558.5 766.0 1563.6 766.0 1568.7 766.1 1573.8 766.1 1578.9 766.1" stroke="#000" stroke-width="5.20" stroke-dasharray="19.3 8.3" stroke-linecap="butt"/></g><line x1="1056.30" y1="634.10" x2="1068.40" y2="634.10" stroke="#000" stroke-width="2.75"/><text x="1044.70" y="647.50" font-size="35.00" text-anchor="end">1</text><line x1="1056.30" y1="700.15" x2="1068.40" y2="700.15" stroke="#000" stroke-width="2.75"/><text x="1044.70" y="713.55" font-size="35.00" text-anchor="end">0.5</text><line x1="1056.30" y1="766.19" x2="1068.40" y2="766.19" stroke="#000" stroke-width="2.75"/><text x="1044.70" y="779.59" font-size="35.00" text-anchor="end">0</text><line x1="1068.40" y1="779.40" x2="1068.40" y2="791.50" stroke="#000" stroke-width="2.75"/><line x1="1170.50" y1="779.40" x2="1170.50" y2="791.50" stroke="#000" stroke-width="2.75"/><line x1="1272.60" y1="779.40" x2="1272.60" y2="791.50" stroke="#000" stroke-width="2.75"/><line x1="1374.70" y1="779.40" x2="1374.70" y2="791.50" stroke="#000" stroke-width="2.75"/><line x1="1476.80" y1="779.40" x2="1476.80" y2="791.50" stroke="#000" stroke-width="2.75"/><line x1="1578.90" y1="779.40" x2="1578.90" y2="791.50" stroke="#000" stroke-width="2.75"/><rect x="1068.40" y="634.10" width="510.50" height="145.30" fill="none" stroke="#000" stroke-width="2.75"/><text x="1272.90" y="622.90" font-size="35.00" font-family="DejaVu Serif" style="stroke:none">⟨</text><text x="1287.71" y="620.70" font-size="34.50" text-anchor="start"><tspan font-style="italic">Z</tspan></text><text x="1311.44" y="609.70" font-size="25.80" text-anchor="start">[15]</text><text x="1359.55" y="622.90" font-size="35.00" font-family="DejaVu Serif" style="stroke:none">⟩</text><text x="1574.20" y="660.15" font-size="27.50" text-anchor="end">(h)</text><text x="1068.40" y="828.30" font-size="35.00" text-anchor="middle">0</text><text x="1170.50" y="828.30" font-size="35.00" text-anchor="middle">2</text><text x="1272.60" y="828.30" font-size="35.00" text-anchor="middle">4</text><text x="1374.70" y="828.30" font-size="35.00" text-anchor="middle">6</text><text x="1476.80" y="828.30" font-size="35.00" text-anchor="middle">8</text><text x="1578.90" y="828.30" font-size="35.00" text-anchor="middle">10</text><text x="1241.60" y="876.70" font-size="41.60" text-anchor="start">Time</text><text x="1339.40" y="876.70" font-size="41.60" text-anchor="start">(</text><text x="1354.70" y="876.70" font-size="41.60" text-anchor="start"><tspan font-style="italic">J</tspan></text><text x="1376.50" y="876.70" font-size="41.60" text-anchor="start"><tspan font-style="italic">t</tspan></text><text x="1391.40" y="876.70" font-size="41.60" text-anchor="start">)</text><line x1="1610.6" y1="384.70" x2="1665.4" y2="384.70" stroke="#e07580" stroke-width="5.20" stroke-linecap="square"/><text transform="translate(1687.98 394.30) scale(1.220 1)" font-size="25.76" font-style="italic">χ</text><text x="1712.02" y="397.10" font-size="28.00" text-anchor="start">=</text><text x="1735.14" y="394.30" font-size="28.00" text-anchor="start">2</text><line x1="1610.6" y1="423.50" x2="1665.4" y2="423.50" stroke="#ff1a0d" stroke-width="5.20" stroke-linecap="square"/><text transform="translate(1687.98 433.10) scale(1.220 1)" font-size="25.76" font-style="italic">χ</text><text x="1712.02" y="435.90" font-size="28.00" text-anchor="start">=</text><text x="1735.14" y="433.10" font-size="28.00" text-anchor="start">4</text><line x1="1610.6" y1="462.30" x2="1665.4" y2="462.30" stroke="#8b0f0a" stroke-width="5.20" stroke-linecap="square"/><text transform="translate(1687.98 471.90) scale(1.220 1)" font-size="25.76" font-style="italic">χ</text><text x="1712.02" y="474.70" font-size="28.00" text-anchor="start">=</text><text x="1735.14" y="471.90" font-size="28.00" text-anchor="start">8</text><line x1="1610.6" y1="501.10" x2="1665.8" y2="501.10" stroke="#000" stroke-width="5.20" stroke-dasharray="19.3 8.3"/><text x="1686.70" y="510.60" font-size="28.00" text-anchor="start">MPO</text></svg></body></html>
